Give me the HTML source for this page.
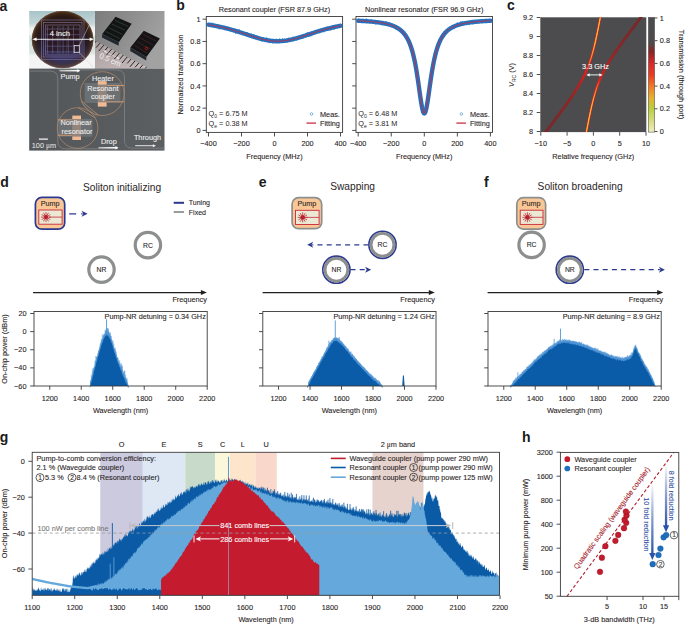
<!DOCTYPE html>
<html><head><meta charset="utf-8"><style>
html,body{margin:0;padding:0;background:#fff;}
svg{display:block;font-family:"Liberation Sans", sans-serif;}

</style></head><body>
<svg width="685" height="624" viewBox="0 0 685 624">
<rect width="685" height="624" fill="#fff"/>
<text x="-0.5" y="10.5" font-size="14" font-weight="bold" fill="#1a1a1a">a</text>
<text x="176.2" y="10.3" font-size="14" font-weight="bold" fill="#1a1a1a">b</text>
<text x="507" y="10.3" font-size="14" font-weight="bold" fill="#1a1a1a">c</text>
<text x="0.2" y="186.9" font-size="14" font-weight="bold" fill="#1a1a1a">d</text>
<text x="258.8" y="187.3" font-size="14" font-weight="bold" fill="#1a1a1a">e</text>
<text x="483.9" y="187" font-size="14" font-weight="bold" fill="#1a1a1a">f</text>
<text x="-0.2" y="441.9" font-size="14" font-weight="bold" fill="#1a1a1a">g</text>
<text x="522.1" y="441.6" font-size="14" font-weight="bold" fill="#1a1a1a">h</text>
<rect x="206.3" y="16.5" width="136.3" height="115.9" fill="none" stroke="#3a3a3a" stroke-width="0.9"/>
<line x1="208.5" y1="132.4" x2="208.5" y2="136.5" stroke="#3a3a3a" stroke-width="0.9"/>
<text x="208.5" y="146.43" font-size="7.3" text-anchor="middle" fill="#2a2526" stroke="#2a2526" stroke-width="0.1">−400</text>
<line x1="241.5" y1="132.4" x2="241.5" y2="136.5" stroke="#3a3a3a" stroke-width="0.9"/>
<text x="241.5" y="146.43" font-size="7.3" text-anchor="middle" fill="#2a2526" stroke="#2a2526" stroke-width="0.1">−200</text>
<line x1="274.5" y1="132.4" x2="274.5" y2="136.5" stroke="#3a3a3a" stroke-width="0.9"/>
<text x="274.5" y="146.43" font-size="7.3" text-anchor="middle" fill="#2a2526" stroke="#2a2526" stroke-width="0.1">0</text>
<line x1="307.5" y1="132.4" x2="307.5" y2="136.5" stroke="#3a3a3a" stroke-width="0.9"/>
<text x="307.5" y="146.43" font-size="7.3" text-anchor="middle" fill="#2a2526" stroke="#2a2526" stroke-width="0.1">200</text>
<line x1="340.5" y1="132.4" x2="340.5" y2="136.5" stroke="#3a3a3a" stroke-width="0.9"/>
<text x="340.5" y="146.43" font-size="7.3" text-anchor="middle" fill="#2a2526" stroke="#2a2526" stroke-width="0.1">400</text>
<line x1="202.5" y1="130.4" x2="206.3" y2="130.4" stroke="#3a3a3a" stroke-width="0.9"/>
<text x="200.5" y="133.03" font-size="7.3" text-anchor="end" fill="#2a2526" stroke="#2a2526" stroke-width="0.1">0</text>
<line x1="202.5" y1="108.16" x2="206.3" y2="108.16" stroke="#3a3a3a" stroke-width="0.9"/>
<text x="200.5" y="110.79" font-size="7.3" text-anchor="end" fill="#2a2526" stroke="#2a2526" stroke-width="0.1">0.2</text>
<line x1="202.5" y1="85.92" x2="206.3" y2="85.92" stroke="#3a3a3a" stroke-width="0.9"/>
<text x="200.5" y="88.55" font-size="7.3" text-anchor="end" fill="#2a2526" stroke="#2a2526" stroke-width="0.1">0.4</text>
<line x1="202.5" y1="63.68" x2="206.3" y2="63.68" stroke="#3a3a3a" stroke-width="0.9"/>
<text x="200.5" y="66.31" font-size="7.3" text-anchor="end" fill="#2a2526" stroke="#2a2526" stroke-width="0.1">0.6</text>
<line x1="202.5" y1="41.44" x2="206.3" y2="41.44" stroke="#3a3a3a" stroke-width="0.9"/>
<text x="200.5" y="44.07" font-size="7.3" text-anchor="end" fill="#2a2526" stroke="#2a2526" stroke-width="0.1">0.8</text>
<line x1="202.5" y1="19.2" x2="206.3" y2="19.2" stroke="#3a3a3a" stroke-width="0.9"/>
<text x="200.5" y="21.83" font-size="7.3" text-anchor="end" fill="#2a2526" stroke="#2a2526" stroke-width="0.1">1</text>
<text x="274.45" y="159.13" font-size="7.3" text-anchor="middle" fill="#2a2526" stroke="#2a2526" stroke-width="0.1">Frequency (MHz)</text>
<text x="274.45" y="12.23" font-size="7.3" text-anchor="middle" fill="#2a2526" stroke="#2a2526" stroke-width="0.1">Resonant coupler (FSR 87.9 GHz)</text>
<polyline points="208.5,24.68 209.05,24.77 209.6,24.86 210.15,24.95 210.7,25.04 211.25,25.13 211.8,25.23 212.35,25.32 212.9,25.42 213.45,25.52 214,25.62 214.55,25.73 215.1,25.83 215.65,25.94 216.2,26.05 216.75,26.15 217.3,26.27 217.85,26.38 218.4,26.49 218.95,26.61 219.5,26.73 220.05,26.84 220.6,26.97 221.15,27.09 221.7,27.21 222.25,27.34 222.8,27.47 223.35,27.59 223.9,27.73 224.45,27.86 225,27.99 225.55,28.13 226.1,28.27 226.65,28.41 227.2,28.55 227.75,28.69 228.3,28.84 228.85,28.98 229.4,29.13 229.95,29.28 230.5,29.43 231.05,29.58 231.6,29.74 232.15,29.89 232.7,30.05 233.25,30.21 233.8,30.37 234.35,30.53 234.9,30.7 235.45,30.86 236,31.03 236.55,31.19 237.1,31.36 237.65,31.53 238.2,31.7 238.75,31.88 239.3,32.05 239.85,32.23 240.4,32.4 240.95,32.58 241.5,32.75 242.05,32.93 242.6,33.11 243.15,33.29 243.7,33.47 244.25,33.65 244.8,33.83 245.35,34.01 245.9,34.2 246.45,34.38 247,34.56 247.55,34.74 248.1,34.92 248.65,35.1 249.2,35.28 249.75,35.47 250.3,35.65 250.85,35.82 251.4,36 251.95,36.18 252.5,36.36 253.05,36.53 253.6,36.71 254.15,36.88 254.7,37.05 255.25,37.22 255.8,37.39 256.35,37.55 256.9,37.72 257.45,37.88 258,38.04 258.55,38.2 259.1,38.35 259.65,38.5 260.2,38.65 260.75,38.8 261.3,38.94 261.85,39.08 262.4,39.22 262.95,39.35 263.5,39.48 264.05,39.6 264.6,39.73 265.15,39.84 265.7,39.96 266.25,40.07 266.8,40.17 267.35,40.27 267.9,40.37 268.45,40.46 269,40.54 269.55,40.62 270.1,40.7 270.65,40.77 271.2,40.84 271.75,40.9 272.3,40.96 272.85,41.01 273.4,41.05 273.95,41.09 274.5,41.13 275.05,41.16 275.6,41.18 276.15,41.2 276.7,41.21 277.25,41.22 277.8,41.22 278.35,41.21 278.9,41.2 279.45,41.19 280,41.17 280.55,41.14 281.1,41.11 281.65,41.07 282.2,41.03 282.75,40.98 283.3,40.92 283.85,40.86 284.4,40.8 284.95,40.73 285.5,40.66 286.05,40.58 286.6,40.49 287.15,40.4 287.7,40.31 288.25,40.21 288.8,40.11 289.35,40 289.9,39.89 290.45,39.77 291,39.65 291.55,39.53 292.1,39.4 292.65,39.27 293.2,39.14 293.75,39 294.3,38.86 294.85,38.71 295.4,38.56 295.95,38.41 296.5,38.26 297.05,38.1 297.6,37.94 298.15,37.78 298.7,37.62 299.25,37.46 299.8,37.29 300.35,37.12 300.9,36.95 301.45,36.78 302,36.6 302.55,36.43 303.1,36.25 303.65,36.07 304.2,35.9 304.75,35.72 305.3,35.54 305.85,35.36 306.4,35.18 306.95,35 307.5,34.81 308.05,34.63 308.6,34.45 309.15,34.27 309.7,34.09 310.25,33.91 310.8,33.72 311.35,33.54 311.9,33.36 312.45,33.18 313,33 313.55,32.83 314.1,32.65 314.65,32.47 315.2,32.3 315.75,32.12 316.3,31.95 316.85,31.77 317.4,31.6 317.95,31.43 318.5,31.26 319.05,31.09 319.6,30.93 320.15,30.76 320.7,30.6 321.25,30.44 321.8,30.27 322.35,30.11 322.9,29.96 323.45,29.8 324,29.64 324.55,29.49 325.1,29.34 325.65,29.19 326.2,29.04 326.75,28.89 327.3,28.75 327.85,28.6 328.4,28.46 328.95,28.32 329.5,28.18 330.05,28.05 330.6,27.91 331.15,27.78 331.7,27.65 332.25,27.52 332.8,27.39 333.35,27.26 333.9,27.14 334.45,27.01 335,26.89 335.55,26.77 336.1,26.65 336.65,26.54 337.2,26.42 337.75,26.31 338.3,26.2 338.85,26.09 339.4,25.98 339.95,25.87 340.5,25.77" fill="none" stroke="#2371be" stroke-width="4.4" stroke-linejoin="round" stroke-linecap="round"/>
<circle cx="208.15" cy="23.87" r="0.6" fill="#2f7cc2" stroke="none" stroke-width="1"/>
<circle cx="209.17" cy="25.55" r="0.6" fill="#2f7cc2" stroke="none" stroke-width="1"/>
<circle cx="210.57" cy="25.2" r="0.6" fill="#2f7cc2" stroke="none" stroke-width="1"/>
<circle cx="211.81" cy="23.19" r="0.6" fill="#2f7cc2" stroke="none" stroke-width="1"/>
<circle cx="212.83" cy="23.3" r="0.6" fill="#2f7cc2" stroke="none" stroke-width="1"/>
<circle cx="213.59" cy="23.65" r="0.6" fill="#2f7cc2" stroke="none" stroke-width="1"/>
<circle cx="215.43" cy="25.48" r="0.6" fill="#2f7cc2" stroke="none" stroke-width="1"/>
<circle cx="215.92" cy="24.31" r="0.6" fill="#2f7cc2" stroke="none" stroke-width="1"/>
<circle cx="217.75" cy="26.85" r="0.6" fill="#2f7cc2" stroke="none" stroke-width="1"/>
<circle cx="218.3" cy="26.85" r="0.6" fill="#2f7cc2" stroke="none" stroke-width="1"/>
<circle cx="219.05" cy="28.92" r="0.6" fill="#2f7cc2" stroke="none" stroke-width="1"/>
<circle cx="220.39" cy="28.61" r="0.6" fill="#2f7cc2" stroke="none" stroke-width="1"/>
<circle cx="221.32" cy="25.58" r="0.6" fill="#2f7cc2" stroke="none" stroke-width="1"/>
<circle cx="223.12" cy="26.58" r="0.6" fill="#2f7cc2" stroke="none" stroke-width="1"/>
<circle cx="223.98" cy="26.26" r="0.6" fill="#2f7cc2" stroke="none" stroke-width="1"/>
<circle cx="224.87" cy="28.63" r="0.6" fill="#2f7cc2" stroke="none" stroke-width="1"/>
<circle cx="225.66" cy="28.49" r="0.6" fill="#2f7cc2" stroke="none" stroke-width="1"/>
<circle cx="226.91" cy="26.52" r="0.6" fill="#2f7cc2" stroke="none" stroke-width="1"/>
<circle cx="228.23" cy="29.66" r="0.6" fill="#2f7cc2" stroke="none" stroke-width="1"/>
<circle cx="229.49" cy="28.27" r="0.6" fill="#2f7cc2" stroke="none" stroke-width="1"/>
<circle cx="230.3" cy="29.21" r="0.6" fill="#2f7cc2" stroke="none" stroke-width="1"/>
<circle cx="231.8" cy="31.09" r="0.6" fill="#2f7cc2" stroke="none" stroke-width="1"/>
<circle cx="232.77" cy="28.87" r="0.6" fill="#2f7cc2" stroke="none" stroke-width="1"/>
<circle cx="234.18" cy="30.49" r="0.6" fill="#2f7cc2" stroke="none" stroke-width="1"/>
<circle cx="234.69" cy="31.75" r="0.6" fill="#2f7cc2" stroke="none" stroke-width="1"/>
<circle cx="235.62" cy="33.24" r="0.6" fill="#2f7cc2" stroke="none" stroke-width="1"/>
<circle cx="237.36" cy="30.99" r="0.6" fill="#2f7cc2" stroke="none" stroke-width="1"/>
<circle cx="238.19" cy="30.1" r="0.6" fill="#2f7cc2" stroke="none" stroke-width="1"/>
<circle cx="239.47" cy="29.93" r="0.6" fill="#2f7cc2" stroke="none" stroke-width="1"/>
<circle cx="240.47" cy="33.62" r="0.6" fill="#2f7cc2" stroke="none" stroke-width="1"/>
<circle cx="241.31" cy="34.48" r="0.6" fill="#2f7cc2" stroke="none" stroke-width="1"/>
<circle cx="242.69" cy="34.01" r="0.6" fill="#2f7cc2" stroke="none" stroke-width="1"/>
<circle cx="243.66" cy="33.84" r="0.6" fill="#2f7cc2" stroke="none" stroke-width="1"/>
<circle cx="245.24" cy="35.4" r="0.6" fill="#2f7cc2" stroke="none" stroke-width="1"/>
<circle cx="246.06" cy="34.08" r="0.6" fill="#2f7cc2" stroke="none" stroke-width="1"/>
<circle cx="247.2" cy="32.54" r="0.6" fill="#2f7cc2" stroke="none" stroke-width="1"/>
<circle cx="248.59" cy="35.6" r="0.6" fill="#2f7cc2" stroke="none" stroke-width="1"/>
<circle cx="248.98" cy="36.77" r="0.6" fill="#2f7cc2" stroke="none" stroke-width="1"/>
<circle cx="250.47" cy="35.12" r="0.6" fill="#2f7cc2" stroke="none" stroke-width="1"/>
<circle cx="251.36" cy="33.81" r="0.6" fill="#2f7cc2" stroke="none" stroke-width="1"/>
<circle cx="252.12" cy="34.83" r="0.6" fill="#2f7cc2" stroke="none" stroke-width="1"/>
<circle cx="253.87" cy="34.68" r="0.6" fill="#2f7cc2" stroke="none" stroke-width="1"/>
<circle cx="254.45" cy="35.35" r="0.6" fill="#2f7cc2" stroke="none" stroke-width="1"/>
<circle cx="256.17" cy="36.89" r="0.6" fill="#2f7cc2" stroke="none" stroke-width="1"/>
<circle cx="256.85" cy="35.79" r="0.6" fill="#2f7cc2" stroke="none" stroke-width="1"/>
<circle cx="258.38" cy="38.27" r="0.6" fill="#2f7cc2" stroke="none" stroke-width="1"/>
<circle cx="259.46" cy="39.82" r="0.6" fill="#2f7cc2" stroke="none" stroke-width="1"/>
<circle cx="260.12" cy="37.63" r="0.6" fill="#2f7cc2" stroke="none" stroke-width="1"/>
<circle cx="261.68" cy="38.29" r="0.6" fill="#2f7cc2" stroke="none" stroke-width="1"/>
<circle cx="262.05" cy="41.32" r="0.6" fill="#2f7cc2" stroke="none" stroke-width="1"/>
<circle cx="263.23" cy="37.99" r="0.6" fill="#2f7cc2" stroke="none" stroke-width="1"/>
<circle cx="264.58" cy="38.5" r="0.6" fill="#2f7cc2" stroke="none" stroke-width="1"/>
<circle cx="265.46" cy="40.37" r="0.6" fill="#2f7cc2" stroke="none" stroke-width="1"/>
<circle cx="266.72" cy="37.89" r="0.6" fill="#2f7cc2" stroke="none" stroke-width="1"/>
<circle cx="267.97" cy="39.76" r="0.6" fill="#2f7cc2" stroke="none" stroke-width="1"/>
<circle cx="269.19" cy="42.63" r="0.6" fill="#2f7cc2" stroke="none" stroke-width="1"/>
<circle cx="270.22" cy="40.77" r="0.6" fill="#2f7cc2" stroke="none" stroke-width="1"/>
<circle cx="270.75" cy="41.65" r="0.6" fill="#2f7cc2" stroke="none" stroke-width="1"/>
<circle cx="272.58" cy="42.79" r="0.6" fill="#2f7cc2" stroke="none" stroke-width="1"/>
<circle cx="273.7" cy="42.78" r="0.6" fill="#2f7cc2" stroke="none" stroke-width="1"/>
<circle cx="274.4" cy="40.63" r="0.6" fill="#2f7cc2" stroke="none" stroke-width="1"/>
<circle cx="275.73" cy="39.36" r="0.6" fill="#2f7cc2" stroke="none" stroke-width="1"/>
<circle cx="276.27" cy="39.2" r="0.6" fill="#2f7cc2" stroke="none" stroke-width="1"/>
<circle cx="277.46" cy="39.88" r="0.6" fill="#2f7cc2" stroke="none" stroke-width="1"/>
<circle cx="278.45" cy="40.47" r="0.6" fill="#2f7cc2" stroke="none" stroke-width="1"/>
<circle cx="279.65" cy="38.87" r="0.6" fill="#2f7cc2" stroke="none" stroke-width="1"/>
<circle cx="280.96" cy="39.27" r="0.6" fill="#2f7cc2" stroke="none" stroke-width="1"/>
<circle cx="282.57" cy="38.84" r="0.6" fill="#2f7cc2" stroke="none" stroke-width="1"/>
<circle cx="282.95" cy="41.45" r="0.6" fill="#2f7cc2" stroke="none" stroke-width="1"/>
<circle cx="284.25" cy="39.66" r="0.6" fill="#2f7cc2" stroke="none" stroke-width="1"/>
<circle cx="285.12" cy="40.03" r="0.6" fill="#2f7cc2" stroke="none" stroke-width="1"/>
<circle cx="287.09" cy="42.1" r="0.6" fill="#2f7cc2" stroke="none" stroke-width="1"/>
<circle cx="287.68" cy="40.15" r="0.6" fill="#2f7cc2" stroke="none" stroke-width="1"/>
<circle cx="288.4" cy="38.2" r="0.6" fill="#2f7cc2" stroke="none" stroke-width="1"/>
<circle cx="289.66" cy="39.16" r="0.6" fill="#2f7cc2" stroke="none" stroke-width="1"/>
<circle cx="290.66" cy="41.17" r="0.6" fill="#2f7cc2" stroke="none" stroke-width="1"/>
<circle cx="292.55" cy="37.21" r="0.6" fill="#2f7cc2" stroke="none" stroke-width="1"/>
<circle cx="292.85" cy="39.27" r="0.6" fill="#2f7cc2" stroke="none" stroke-width="1"/>
<circle cx="293.83" cy="39.05" r="0.6" fill="#2f7cc2" stroke="none" stroke-width="1"/>
<circle cx="295.88" cy="38.69" r="0.6" fill="#2f7cc2" stroke="none" stroke-width="1"/>
<circle cx="296.7" cy="39.93" r="0.6" fill="#2f7cc2" stroke="none" stroke-width="1"/>
<circle cx="297.47" cy="36.85" r="0.6" fill="#2f7cc2" stroke="none" stroke-width="1"/>
<circle cx="298.97" cy="36.09" r="0.6" fill="#2f7cc2" stroke="none" stroke-width="1"/>
<circle cx="300.08" cy="37.44" r="0.6" fill="#2f7cc2" stroke="none" stroke-width="1"/>
<circle cx="300.62" cy="36.17" r="0.6" fill="#2f7cc2" stroke="none" stroke-width="1"/>
<circle cx="302.48" cy="38.04" r="0.6" fill="#2f7cc2" stroke="none" stroke-width="1"/>
<circle cx="303.41" cy="37.87" r="0.6" fill="#2f7cc2" stroke="none" stroke-width="1"/>
<circle cx="304.44" cy="37.36" r="0.6" fill="#2f7cc2" stroke="none" stroke-width="1"/>
<circle cx="305.32" cy="34.28" r="0.6" fill="#2f7cc2" stroke="none" stroke-width="1"/>
<circle cx="305.93" cy="34.51" r="0.6" fill="#2f7cc2" stroke="none" stroke-width="1"/>
<circle cx="307.28" cy="32.64" r="0.6" fill="#2f7cc2" stroke="none" stroke-width="1"/>
<circle cx="308.79" cy="33.34" r="0.6" fill="#2f7cc2" stroke="none" stroke-width="1"/>
<circle cx="309.65" cy="36.19" r="0.6" fill="#2f7cc2" stroke="none" stroke-width="1"/>
<circle cx="311.29" cy="35.73" r="0.6" fill="#2f7cc2" stroke="none" stroke-width="1"/>
<circle cx="311.76" cy="35.46" r="0.6" fill="#2f7cc2" stroke="none" stroke-width="1"/>
<circle cx="312.73" cy="31.72" r="0.6" fill="#2f7cc2" stroke="none" stroke-width="1"/>
<circle cx="313.8" cy="31.25" r="0.6" fill="#2f7cc2" stroke="none" stroke-width="1"/>
<circle cx="315.6" cy="32.87" r="0.6" fill="#2f7cc2" stroke="none" stroke-width="1"/>
<circle cx="316.28" cy="33.51" r="0.6" fill="#2f7cc2" stroke="none" stroke-width="1"/>
<circle cx="317.7" cy="32.31" r="0.6" fill="#2f7cc2" stroke="none" stroke-width="1"/>
<circle cx="318.66" cy="29.35" r="0.6" fill="#2f7cc2" stroke="none" stroke-width="1"/>
<circle cx="319.88" cy="32.81" r="0.6" fill="#2f7cc2" stroke="none" stroke-width="1"/>
<circle cx="320.68" cy="31.75" r="0.6" fill="#2f7cc2" stroke="none" stroke-width="1"/>
<circle cx="322.09" cy="28.8" r="0.6" fill="#2f7cc2" stroke="none" stroke-width="1"/>
<circle cx="323.2" cy="29.19" r="0.6" fill="#2f7cc2" stroke="none" stroke-width="1"/>
<circle cx="323.9" cy="31.81" r="0.6" fill="#2f7cc2" stroke="none" stroke-width="1"/>
<circle cx="325.55" cy="28.89" r="0.6" fill="#2f7cc2" stroke="none" stroke-width="1"/>
<circle cx="325.87" cy="30.07" r="0.6" fill="#2f7cc2" stroke="none" stroke-width="1"/>
<circle cx="326.95" cy="27.03" r="0.6" fill="#2f7cc2" stroke="none" stroke-width="1"/>
<circle cx="328.71" cy="30.32" r="0.6" fill="#2f7cc2" stroke="none" stroke-width="1"/>
<circle cx="329.83" cy="26.56" r="0.6" fill="#2f7cc2" stroke="none" stroke-width="1"/>
<circle cx="330.76" cy="30.12" r="0.6" fill="#2f7cc2" stroke="none" stroke-width="1"/>
<circle cx="331.75" cy="26.96" r="0.6" fill="#2f7cc2" stroke="none" stroke-width="1"/>
<circle cx="332.31" cy="25.69" r="0.6" fill="#2f7cc2" stroke="none" stroke-width="1"/>
<circle cx="334.05" cy="29.3" r="0.6" fill="#2f7cc2" stroke="none" stroke-width="1"/>
<circle cx="335.43" cy="27.01" r="0.6" fill="#2f7cc2" stroke="none" stroke-width="1"/>
<circle cx="336.47" cy="26.35" r="0.6" fill="#2f7cc2" stroke="none" stroke-width="1"/>
<circle cx="336.91" cy="27.92" r="0.6" fill="#2f7cc2" stroke="none" stroke-width="1"/>
<circle cx="338.09" cy="25.06" r="0.6" fill="#2f7cc2" stroke="none" stroke-width="1"/>
<circle cx="339.49" cy="24.79" r="0.6" fill="#2f7cc2" stroke="none" stroke-width="1"/>
<circle cx="340.42" cy="24.66" r="0.6" fill="#2f7cc2" stroke="none" stroke-width="1"/>
<polyline points="208.5,24.68 209.05,24.77 209.6,24.86 210.15,24.95 210.7,25.04 211.25,25.13 211.8,25.23 212.35,25.32 212.9,25.42 213.45,25.52 214,25.62 214.55,25.73 215.1,25.83 215.65,25.94 216.2,26.05 216.75,26.15 217.3,26.27 217.85,26.38 218.4,26.49 218.95,26.61 219.5,26.73 220.05,26.84 220.6,26.97 221.15,27.09 221.7,27.21 222.25,27.34 222.8,27.47 223.35,27.59 223.9,27.73 224.45,27.86 225,27.99 225.55,28.13 226.1,28.27 226.65,28.41 227.2,28.55 227.75,28.69 228.3,28.84 228.85,28.98 229.4,29.13 229.95,29.28 230.5,29.43 231.05,29.58 231.6,29.74 232.15,29.89 232.7,30.05 233.25,30.21 233.8,30.37 234.35,30.53 234.9,30.7 235.45,30.86 236,31.03 236.55,31.19 237.1,31.36 237.65,31.53 238.2,31.7 238.75,31.88 239.3,32.05 239.85,32.23 240.4,32.4 240.95,32.58 241.5,32.75 242.05,32.93 242.6,33.11 243.15,33.29 243.7,33.47 244.25,33.65 244.8,33.83 245.35,34.01 245.9,34.2 246.45,34.38 247,34.56 247.55,34.74 248.1,34.92 248.65,35.1 249.2,35.28 249.75,35.47 250.3,35.65 250.85,35.82 251.4,36 251.95,36.18 252.5,36.36 253.05,36.53 253.6,36.71 254.15,36.88 254.7,37.05 255.25,37.22 255.8,37.39 256.35,37.55 256.9,37.72 257.45,37.88 258,38.04 258.55,38.2 259.1,38.35 259.65,38.5 260.2,38.65 260.75,38.8 261.3,38.94 261.85,39.08 262.4,39.22 262.95,39.35 263.5,39.48 264.05,39.6 264.6,39.73 265.15,39.84 265.7,39.96 266.25,40.07 266.8,40.17 267.35,40.27 267.9,40.37 268.45,40.46 269,40.54 269.55,40.62 270.1,40.7 270.65,40.77 271.2,40.84 271.75,40.9 272.3,40.96 272.85,41.01 273.4,41.05 273.95,41.09 274.5,41.13 275.05,41.16 275.6,41.18 276.15,41.2 276.7,41.21 277.25,41.22 277.8,41.22 278.35,41.21 278.9,41.2 279.45,41.19 280,41.17 280.55,41.14 281.1,41.11 281.65,41.07 282.2,41.03 282.75,40.98 283.3,40.92 283.85,40.86 284.4,40.8 284.95,40.73 285.5,40.66 286.05,40.58 286.6,40.49 287.15,40.4 287.7,40.31 288.25,40.21 288.8,40.11 289.35,40 289.9,39.89 290.45,39.77 291,39.65 291.55,39.53 292.1,39.4 292.65,39.27 293.2,39.14 293.75,39 294.3,38.86 294.85,38.71 295.4,38.56 295.95,38.41 296.5,38.26 297.05,38.1 297.6,37.94 298.15,37.78 298.7,37.62 299.25,37.46 299.8,37.29 300.35,37.12 300.9,36.95 301.45,36.78 302,36.6 302.55,36.43 303.1,36.25 303.65,36.07 304.2,35.9 304.75,35.72 305.3,35.54 305.85,35.36 306.4,35.18 306.95,35 307.5,34.81 308.05,34.63 308.6,34.45 309.15,34.27 309.7,34.09 310.25,33.91 310.8,33.72 311.35,33.54 311.9,33.36 312.45,33.18 313,33 313.55,32.83 314.1,32.65 314.65,32.47 315.2,32.3 315.75,32.12 316.3,31.95 316.85,31.77 317.4,31.6 317.95,31.43 318.5,31.26 319.05,31.09 319.6,30.93 320.15,30.76 320.7,30.6 321.25,30.44 321.8,30.27 322.35,30.11 322.9,29.96 323.45,29.8 324,29.64 324.55,29.49 325.1,29.34 325.65,29.19 326.2,29.04 326.75,28.89 327.3,28.75 327.85,28.6 328.4,28.46 328.95,28.32 329.5,28.18 330.05,28.05 330.6,27.91 331.15,27.78 331.7,27.65 332.25,27.52 332.8,27.39 333.35,27.26 333.9,27.14 334.45,27.01 335,26.89 335.55,26.77 336.1,26.65 336.65,26.54 337.2,26.42 337.75,26.31 338.3,26.2 338.85,26.09 339.4,25.98 339.95,25.87 340.5,25.77" fill="none" stroke="#c4304a" stroke-width="1"/>
<circle cx="311.5" cy="114" r="1.3" fill="none" stroke="#3d86c6" stroke-width="0.6"/>
<text x="320" y="116.63" font-size="7.3" text-anchor="start" fill="#2a2526" stroke="#2a2526" stroke-width="0.1">Meas.</text>
<line x1="306.5" y1="123.1" x2="316" y2="123.1" stroke="#d42a44" stroke-width="1.3"/>
<text x="320" y="125.73" font-size="7.3" text-anchor="start" fill="#2a2526" stroke="#2a2526" stroke-width="0.1">Fitting</text>
<text x="208.6" y="115.7" font-size="7.3" fill="#2a2526">Q<tspan font-size="5" dy="2">0</tspan><tspan dy="-2"> = 6.75 M</tspan></text>
<text x="208.6" y="125.7" font-size="7.3" fill="#2a2526">Q<tspan font-size="5" dy="2">e</tspan><tspan dy="-2"> = 0.38 M</tspan></text>
<rect x="356" y="16.5" width="136.5" height="115.9" fill="none" stroke="#3a3a3a" stroke-width="0.9"/>
<line x1="358.2" y1="132.4" x2="358.2" y2="136.5" stroke="#3a3a3a" stroke-width="0.9"/>
<text x="358.2" y="146.43" font-size="7.3" text-anchor="middle" fill="#2a2526" stroke="#2a2526" stroke-width="0.1">−400</text>
<line x1="391.25" y1="132.4" x2="391.25" y2="136.5" stroke="#3a3a3a" stroke-width="0.9"/>
<text x="391.25" y="146.43" font-size="7.3" text-anchor="middle" fill="#2a2526" stroke="#2a2526" stroke-width="0.1">−200</text>
<line x1="424.3" y1="132.4" x2="424.3" y2="136.5" stroke="#3a3a3a" stroke-width="0.9"/>
<text x="424.3" y="146.43" font-size="7.3" text-anchor="middle" fill="#2a2526" stroke="#2a2526" stroke-width="0.1">0</text>
<line x1="457.35" y1="132.4" x2="457.35" y2="136.5" stroke="#3a3a3a" stroke-width="0.9"/>
<text x="457.35" y="146.43" font-size="7.3" text-anchor="middle" fill="#2a2526" stroke="#2a2526" stroke-width="0.1">200</text>
<line x1="490.4" y1="132.4" x2="490.4" y2="136.5" stroke="#3a3a3a" stroke-width="0.9"/>
<text x="490.4" y="146.43" font-size="7.3" text-anchor="middle" fill="#2a2526" stroke="#2a2526" stroke-width="0.1">400</text>
<line x1="352.2" y1="130.4" x2="356" y2="130.4" stroke="#3a3a3a" stroke-width="0.9"/>
<line x1="352.2" y1="108.16" x2="356" y2="108.16" stroke="#3a3a3a" stroke-width="0.9"/>
<line x1="352.2" y1="85.92" x2="356" y2="85.92" stroke="#3a3a3a" stroke-width="0.9"/>
<line x1="352.2" y1="63.68" x2="356" y2="63.68" stroke="#3a3a3a" stroke-width="0.9"/>
<line x1="352.2" y1="41.44" x2="356" y2="41.44" stroke="#3a3a3a" stroke-width="0.9"/>
<line x1="352.2" y1="19.2" x2="356" y2="19.2" stroke="#3a3a3a" stroke-width="0.9"/>
<text x="424.25" y="159.13" font-size="7.3" text-anchor="middle" fill="#2a2526" stroke="#2a2526" stroke-width="0.1">Frequency (MHz)</text>
<text x="424.25" y="12.23" font-size="7.3" text-anchor="middle" fill="#2a2526" stroke="#2a2526" stroke-width="0.1">Nonlinear resonator (FSR 96.9 GHz)</text>
<polyline points="358.2,20.77 358.75,20.79 359.3,20.82 359.85,20.85 360.4,20.88 360.95,20.9 361.5,20.93 362.06,20.96 362.61,20.99 363.16,21.03 363.71,21.06 364.26,21.09 364.81,21.13 365.36,21.16 365.91,21.2 366.46,21.24 367.01,21.28 367.56,21.31 368.12,21.36 368.67,21.4 369.22,21.44 369.77,21.48 370.32,21.53 370.87,21.58 371.42,21.63 371.97,21.68 372.52,21.73 373.07,21.78 373.62,21.84 374.17,21.89 374.72,21.95 375.28,22.01 375.83,22.07 376.38,22.14 376.93,22.2 377.48,22.27 378.03,22.34 378.58,22.42 379.13,22.49 379.68,22.57 380.23,22.65 380.78,22.74 381.33,22.83 381.89,22.92 382.44,23.01 382.99,23.11 383.54,23.21 384.09,23.32 384.64,23.43 385.19,23.54 385.74,23.66 386.29,23.79 386.84,23.91 387.39,24.05 387.94,24.19 388.5,24.34 389.05,24.49 389.6,24.65 390.15,24.81 390.7,24.99 391.25,25.17 391.8,25.36 392.35,25.56 392.9,25.77 393.45,25.99 394,26.22 394.56,26.46 395.11,26.72 395.66,26.99 396.21,27.27 396.76,27.57 397.31,27.88 397.86,28.21 398.41,28.56 398.96,28.93 399.51,29.32 400.06,29.73 400.61,30.17 401.16,30.63 401.72,31.13 402.27,31.65 402.82,32.21 403.37,32.8 403.92,33.43 404.47,34.11 405.02,34.83 405.57,35.6 406.12,36.42 406.67,37.31 407.22,38.25 407.77,39.27 408.33,40.36 408.88,41.54 409.43,42.8 409.98,44.16 410.53,45.63 411.08,47.21 411.63,48.91 412.18,50.75 412.73,52.73 413.28,54.87 413.83,57.17 414.38,59.65 414.94,62.31 415.49,65.16 416.04,68.2 416.59,71.43 417.14,74.85 417.69,78.44 418.24,82.18 418.79,86.03 419.34,89.95 419.89,93.86 420.44,97.69 421,101.35 421.55,104.71 422.1,107.68 422.65,110.13 423.2,111.97 423.75,113.11 424.3,113.5 424.85,113.11 425.4,111.97 425.95,110.13 426.5,107.68 427.05,104.71 427.61,101.35 428.16,97.69 428.71,93.86 429.26,89.95 429.81,86.03 430.36,82.18 430.91,78.44 431.46,74.85 432.01,71.43 432.56,68.2 433.11,65.16 433.66,62.31 434.21,59.65 434.77,57.17 435.32,54.87 435.87,52.73 436.42,50.75 436.97,48.91 437.52,47.21 438.07,45.63 438.62,44.16 439.17,42.8 439.72,41.54 440.27,40.36 440.82,39.27 441.38,38.25 441.93,37.31 442.48,36.42 443.03,35.6 443.58,34.83 444.13,34.11 444.68,33.43 445.23,32.8 445.78,32.21 446.33,31.65 446.88,31.13 447.44,30.63 447.99,30.17 448.54,29.73 449.09,29.32 449.64,28.93 450.19,28.56 450.74,28.21 451.29,27.88 451.84,27.57 452.39,27.27 452.94,26.99 453.49,26.72 454.04,26.46 454.6,26.22 455.15,25.99 455.7,25.77 456.25,25.56 456.8,25.36 457.35,25.17 457.9,24.99 458.45,24.81 459,24.65 459.55,24.49 460.1,24.34 460.65,24.19 461.21,24.05 461.76,23.91 462.31,23.79 462.86,23.66 463.41,23.54 463.96,23.43 464.51,23.32 465.06,23.21 465.61,23.11 466.16,23.01 466.71,22.92 467.26,22.83 467.82,22.74 468.37,22.65 468.92,22.57 469.47,22.49 470.02,22.42 470.57,22.34 471.12,22.27 471.67,22.2 472.22,22.14 472.77,22.07 473.32,22.01 473.88,21.95 474.43,21.89 474.98,21.84 475.53,21.78 476.08,21.73 476.63,21.68 477.18,21.63 477.73,21.58 478.28,21.53 478.83,21.48 479.38,21.44 479.93,21.4 480.49,21.36 481.04,21.31 481.59,21.28 482.14,21.24 482.69,21.2 483.24,21.16 483.79,21.13 484.34,21.09 484.89,21.06 485.44,21.03 485.99,20.99 486.54,20.96 487.09,20.93 487.65,20.9 488.2,20.88 488.75,20.85 489.3,20.82 489.85,20.79 490.4,20.77" fill="none" stroke="#2371be" stroke-width="4.4" stroke-linejoin="round" stroke-linecap="round"/>
<circle cx="358.61" cy="19.07" r="0.6" fill="#2f7cc2" stroke="none" stroke-width="1"/>
<circle cx="359.26" cy="20.15" r="0.6" fill="#2f7cc2" stroke="none" stroke-width="1"/>
<circle cx="360.81" cy="21.26" r="0.6" fill="#2f7cc2" stroke="none" stroke-width="1"/>
<circle cx="361.92" cy="20.57" r="0.6" fill="#2f7cc2" stroke="none" stroke-width="1"/>
<circle cx="362.64" cy="21" r="0.6" fill="#2f7cc2" stroke="none" stroke-width="1"/>
<circle cx="363.23" cy="21.17" r="0.6" fill="#2f7cc2" stroke="none" stroke-width="1"/>
<circle cx="364.49" cy="20.85" r="0.6" fill="#2f7cc2" stroke="none" stroke-width="1"/>
<circle cx="366.21" cy="18.92" r="0.6" fill="#2f7cc2" stroke="none" stroke-width="1"/>
<circle cx="366.99" cy="19.77" r="0.6" fill="#2f7cc2" stroke="none" stroke-width="1"/>
<circle cx="368.17" cy="22.39" r="0.6" fill="#2f7cc2" stroke="none" stroke-width="1"/>
<circle cx="369.24" cy="20.64" r="0.6" fill="#2f7cc2" stroke="none" stroke-width="1"/>
<circle cx="370.6" cy="21.79" r="0.6" fill="#2f7cc2" stroke="none" stroke-width="1"/>
<circle cx="371.48" cy="19.81" r="0.6" fill="#2f7cc2" stroke="none" stroke-width="1"/>
<circle cx="372.3" cy="20.57" r="0.6" fill="#2f7cc2" stroke="none" stroke-width="1"/>
<circle cx="373.63" cy="23.09" r="0.6" fill="#2f7cc2" stroke="none" stroke-width="1"/>
<circle cx="374.98" cy="22.23" r="0.6" fill="#2f7cc2" stroke="none" stroke-width="1"/>
<circle cx="375.77" cy="23.97" r="0.6" fill="#2f7cc2" stroke="none" stroke-width="1"/>
<circle cx="376.93" cy="22.72" r="0.6" fill="#2f7cc2" stroke="none" stroke-width="1"/>
<circle cx="378.22" cy="22.4" r="0.6" fill="#2f7cc2" stroke="none" stroke-width="1"/>
<circle cx="379.16" cy="22.27" r="0.6" fill="#2f7cc2" stroke="none" stroke-width="1"/>
<circle cx="380.67" cy="22.55" r="0.6" fill="#2f7cc2" stroke="none" stroke-width="1"/>
<circle cx="381.71" cy="23.74" r="0.6" fill="#2f7cc2" stroke="none" stroke-width="1"/>
<circle cx="382.2" cy="25.05" r="0.6" fill="#2f7cc2" stroke="none" stroke-width="1"/>
<circle cx="383.98" cy="23.49" r="0.6" fill="#2f7cc2" stroke="none" stroke-width="1"/>
<circle cx="384.28" cy="24.99" r="0.6" fill="#2f7cc2" stroke="none" stroke-width="1"/>
<circle cx="385.68" cy="21.92" r="0.6" fill="#2f7cc2" stroke="none" stroke-width="1"/>
<circle cx="386.58" cy="21.95" r="0.6" fill="#2f7cc2" stroke="none" stroke-width="1"/>
<circle cx="388.11" cy="22.23" r="0.6" fill="#2f7cc2" stroke="none" stroke-width="1"/>
<circle cx="389.44" cy="25.79" r="0.6" fill="#2f7cc2" stroke="none" stroke-width="1"/>
<circle cx="390.36" cy="23.22" r="0.6" fill="#2f7cc2" stroke="none" stroke-width="1"/>
<circle cx="390.89" cy="25.91" r="0.6" fill="#2f7cc2" stroke="none" stroke-width="1"/>
<circle cx="392.82" cy="27.32" r="0.6" fill="#2f7cc2" stroke="none" stroke-width="1"/>
<circle cx="393.91" cy="24.7" r="0.6" fill="#2f7cc2" stroke="none" stroke-width="1"/>
<circle cx="394.54" cy="26" r="0.6" fill="#2f7cc2" stroke="none" stroke-width="1"/>
<circle cx="395.99" cy="29.24" r="0.6" fill="#2f7cc2" stroke="none" stroke-width="1"/>
<circle cx="396.69" cy="26.01" r="0.6" fill="#2f7cc2" stroke="none" stroke-width="1"/>
<circle cx="397.7" cy="28.28" r="0.6" fill="#2f7cc2" stroke="none" stroke-width="1"/>
<circle cx="398.78" cy="27.53" r="0.6" fill="#2f7cc2" stroke="none" stroke-width="1"/>
<circle cx="399.58" cy="30.75" r="0.6" fill="#2f7cc2" stroke="none" stroke-width="1"/>
<circle cx="401.11" cy="30.88" r="0.6" fill="#2f7cc2" stroke="none" stroke-width="1"/>
<circle cx="402.1" cy="29.43" r="0.6" fill="#2f7cc2" stroke="none" stroke-width="1"/>
<circle cx="403.38" cy="33.37" r="0.6" fill="#2f7cc2" stroke="none" stroke-width="1"/>
<circle cx="404.96" cy="32.1" r="0.6" fill="#2f7cc2" stroke="none" stroke-width="1"/>
<circle cx="406.04" cy="36.93" r="0.6" fill="#2f7cc2" stroke="none" stroke-width="1"/>
<circle cx="406.44" cy="35.49" r="0.6" fill="#2f7cc2" stroke="none" stroke-width="1"/>
<circle cx="408.05" cy="37.15" r="0.6" fill="#2f7cc2" stroke="none" stroke-width="1"/>
<circle cx="408.51" cy="40.48" r="0.6" fill="#2f7cc2" stroke="none" stroke-width="1"/>
<circle cx="410.39" cy="43.8" r="0.6" fill="#2f7cc2" stroke="none" stroke-width="1"/>
<circle cx="410.84" cy="48.67" r="0.6" fill="#2f7cc2" stroke="none" stroke-width="1"/>
<circle cx="412.6" cy="49.14" r="0.6" fill="#2f7cc2" stroke="none" stroke-width="1"/>
<circle cx="413.48" cy="55.19" r="0.6" fill="#2f7cc2" stroke="none" stroke-width="1"/>
<circle cx="413.94" cy="57.76" r="0.6" fill="#2f7cc2" stroke="none" stroke-width="1"/>
<circle cx="415.41" cy="66.02" r="0.6" fill="#2f7cc2" stroke="none" stroke-width="1"/>
<circle cx="417.03" cy="69.46" r="0.6" fill="#2f7cc2" stroke="none" stroke-width="1"/>
<circle cx="417.99" cy="79.06" r="0.6" fill="#2f7cc2" stroke="none" stroke-width="1"/>
<circle cx="419.15" cy="84.12" r="0.6" fill="#2f7cc2" stroke="none" stroke-width="1"/>
<circle cx="420.26" cy="91.87" r="0.6" fill="#2f7cc2" stroke="none" stroke-width="1"/>
<circle cx="420.83" cy="101.13" r="0.6" fill="#2f7cc2" stroke="none" stroke-width="1"/>
<circle cx="422.52" cy="107.92" r="0.6" fill="#2f7cc2" stroke="none" stroke-width="1"/>
<circle cx="422.83" cy="110.9" r="0.6" fill="#2f7cc2" stroke="none" stroke-width="1"/>
<circle cx="424.04" cy="113.62" r="0.6" fill="#2f7cc2" stroke="none" stroke-width="1"/>
<circle cx="425.06" cy="110.18" r="0.6" fill="#2f7cc2" stroke="none" stroke-width="1"/>
<circle cx="426.21" cy="105.61" r="0.6" fill="#2f7cc2" stroke="none" stroke-width="1"/>
<circle cx="427.41" cy="100.48" r="0.6" fill="#2f7cc2" stroke="none" stroke-width="1"/>
<circle cx="428.5" cy="95.06" r="0.6" fill="#2f7cc2" stroke="none" stroke-width="1"/>
<circle cx="429.49" cy="86.03" r="0.6" fill="#2f7cc2" stroke="none" stroke-width="1"/>
<circle cx="430.43" cy="77.74" r="0.6" fill="#2f7cc2" stroke="none" stroke-width="1"/>
<circle cx="431.53" cy="70.28" r="0.6" fill="#2f7cc2" stroke="none" stroke-width="1"/>
<circle cx="433.16" cy="66.23" r="0.6" fill="#2f7cc2" stroke="none" stroke-width="1"/>
<circle cx="434.19" cy="58.22" r="0.6" fill="#2f7cc2" stroke="none" stroke-width="1"/>
<circle cx="434.92" cy="56.87" r="0.6" fill="#2f7cc2" stroke="none" stroke-width="1"/>
<circle cx="436.35" cy="52.22" r="0.6" fill="#2f7cc2" stroke="none" stroke-width="1"/>
<circle cx="437.85" cy="47.18" r="0.6" fill="#2f7cc2" stroke="none" stroke-width="1"/>
<circle cx="438.63" cy="43.67" r="0.6" fill="#2f7cc2" stroke="none" stroke-width="1"/>
<circle cx="440.21" cy="42.4" r="0.6" fill="#2f7cc2" stroke="none" stroke-width="1"/>
<circle cx="441.16" cy="38.55" r="0.6" fill="#2f7cc2" stroke="none" stroke-width="1"/>
<circle cx="442.06" cy="38.26" r="0.6" fill="#2f7cc2" stroke="none" stroke-width="1"/>
<circle cx="442.88" cy="35.16" r="0.6" fill="#2f7cc2" stroke="none" stroke-width="1"/>
<circle cx="443.76" cy="32.06" r="0.6" fill="#2f7cc2" stroke="none" stroke-width="1"/>
<circle cx="445.47" cy="30.83" r="0.6" fill="#2f7cc2" stroke="none" stroke-width="1"/>
<circle cx="446" cy="30.52" r="0.6" fill="#2f7cc2" stroke="none" stroke-width="1"/>
<circle cx="447.78" cy="28.72" r="0.6" fill="#2f7cc2" stroke="none" stroke-width="1"/>
<circle cx="448.71" cy="31.43" r="0.6" fill="#2f7cc2" stroke="none" stroke-width="1"/>
<circle cx="449.38" cy="27.92" r="0.6" fill="#2f7cc2" stroke="none" stroke-width="1"/>
<circle cx="450.7" cy="27.26" r="0.6" fill="#2f7cc2" stroke="none" stroke-width="1"/>
<circle cx="451.79" cy="25.99" r="0.6" fill="#2f7cc2" stroke="none" stroke-width="1"/>
<circle cx="453.41" cy="25.9" r="0.6" fill="#2f7cc2" stroke="none" stroke-width="1"/>
<circle cx="454.09" cy="28.64" r="0.6" fill="#2f7cc2" stroke="none" stroke-width="1"/>
<circle cx="455.61" cy="24.82" r="0.6" fill="#2f7cc2" stroke="none" stroke-width="1"/>
<circle cx="456.1" cy="24.69" r="0.6" fill="#2f7cc2" stroke="none" stroke-width="1"/>
<circle cx="457.23" cy="22.88" r="0.6" fill="#2f7cc2" stroke="none" stroke-width="1"/>
<circle cx="458.45" cy="24.7" r="0.6" fill="#2f7cc2" stroke="none" stroke-width="1"/>
<circle cx="459.56" cy="23.11" r="0.6" fill="#2f7cc2" stroke="none" stroke-width="1"/>
<circle cx="460.42" cy="21.91" r="0.6" fill="#2f7cc2" stroke="none" stroke-width="1"/>
<circle cx="461.66" cy="22.03" r="0.6" fill="#2f7cc2" stroke="none" stroke-width="1"/>
<circle cx="462.38" cy="21.55" r="0.6" fill="#2f7cc2" stroke="none" stroke-width="1"/>
<circle cx="463.69" cy="22.53" r="0.6" fill="#2f7cc2" stroke="none" stroke-width="1"/>
<circle cx="465.09" cy="23.61" r="0.6" fill="#2f7cc2" stroke="none" stroke-width="1"/>
<circle cx="466.32" cy="24.16" r="0.6" fill="#2f7cc2" stroke="none" stroke-width="1"/>
<circle cx="467.64" cy="23.82" r="0.6" fill="#2f7cc2" stroke="none" stroke-width="1"/>
<circle cx="468.19" cy="22.15" r="0.6" fill="#2f7cc2" stroke="none" stroke-width="1"/>
<circle cx="469.12" cy="24.72" r="0.6" fill="#2f7cc2" stroke="none" stroke-width="1"/>
<circle cx="470.71" cy="23.37" r="0.6" fill="#2f7cc2" stroke="none" stroke-width="1"/>
<circle cx="472.01" cy="20.11" r="0.6" fill="#2f7cc2" stroke="none" stroke-width="1"/>
<circle cx="472.9" cy="23.88" r="0.6" fill="#2f7cc2" stroke="none" stroke-width="1"/>
<circle cx="474.19" cy="23.03" r="0.6" fill="#2f7cc2" stroke="none" stroke-width="1"/>
<circle cx="475" cy="20.18" r="0.6" fill="#2f7cc2" stroke="none" stroke-width="1"/>
<circle cx="476.41" cy="21.75" r="0.6" fill="#2f7cc2" stroke="none" stroke-width="1"/>
<circle cx="477.51" cy="23.03" r="0.6" fill="#2f7cc2" stroke="none" stroke-width="1"/>
<circle cx="478.67" cy="21.92" r="0.6" fill="#2f7cc2" stroke="none" stroke-width="1"/>
<circle cx="479.58" cy="22.28" r="0.6" fill="#2f7cc2" stroke="none" stroke-width="1"/>
<circle cx="480.02" cy="20.11" r="0.6" fill="#2f7cc2" stroke="none" stroke-width="1"/>
<circle cx="481.45" cy="19.59" r="0.6" fill="#2f7cc2" stroke="none" stroke-width="1"/>
<circle cx="483.02" cy="19.38" r="0.6" fill="#2f7cc2" stroke="none" stroke-width="1"/>
<circle cx="483.92" cy="21.4" r="0.6" fill="#2f7cc2" stroke="none" stroke-width="1"/>
<circle cx="485.07" cy="21.64" r="0.6" fill="#2f7cc2" stroke="none" stroke-width="1"/>
<circle cx="485.5" cy="20.95" r="0.6" fill="#2f7cc2" stroke="none" stroke-width="1"/>
<circle cx="487.34" cy="22.3" r="0.6" fill="#2f7cc2" stroke="none" stroke-width="1"/>
<circle cx="488.23" cy="20.89" r="0.6" fill="#2f7cc2" stroke="none" stroke-width="1"/>
<circle cx="488.86" cy="21.55" r="0.6" fill="#2f7cc2" stroke="none" stroke-width="1"/>
<circle cx="490.15" cy="21.86" r="0.6" fill="#2f7cc2" stroke="none" stroke-width="1"/>
<polyline points="358.2,20.77 358.75,20.79 359.3,20.82 359.85,20.85 360.4,20.88 360.95,20.9 361.5,20.93 362.06,20.96 362.61,20.99 363.16,21.03 363.71,21.06 364.26,21.09 364.81,21.13 365.36,21.16 365.91,21.2 366.46,21.24 367.01,21.28 367.56,21.31 368.12,21.36 368.67,21.4 369.22,21.44 369.77,21.48 370.32,21.53 370.87,21.58 371.42,21.63 371.97,21.68 372.52,21.73 373.07,21.78 373.62,21.84 374.17,21.89 374.72,21.95 375.28,22.01 375.83,22.07 376.38,22.14 376.93,22.2 377.48,22.27 378.03,22.34 378.58,22.42 379.13,22.49 379.68,22.57 380.23,22.65 380.78,22.74 381.33,22.83 381.89,22.92 382.44,23.01 382.99,23.11 383.54,23.21 384.09,23.32 384.64,23.43 385.19,23.54 385.74,23.66 386.29,23.79 386.84,23.91 387.39,24.05 387.94,24.19 388.5,24.34 389.05,24.49 389.6,24.65 390.15,24.81 390.7,24.99 391.25,25.17 391.8,25.36 392.35,25.56 392.9,25.77 393.45,25.99 394,26.22 394.56,26.46 395.11,26.72 395.66,26.99 396.21,27.27 396.76,27.57 397.31,27.88 397.86,28.21 398.41,28.56 398.96,28.93 399.51,29.32 400.06,29.73 400.61,30.17 401.16,30.63 401.72,31.13 402.27,31.65 402.82,32.21 403.37,32.8 403.92,33.43 404.47,34.11 405.02,34.83 405.57,35.6 406.12,36.42 406.67,37.31 407.22,38.25 407.77,39.27 408.33,40.36 408.88,41.54 409.43,42.8 409.98,44.16 410.53,45.63 411.08,47.21 411.63,48.91 412.18,50.75 412.73,52.73 413.28,54.87 413.83,57.17 414.38,59.65 414.94,62.31 415.49,65.16 416.04,68.2 416.59,71.43 417.14,74.85 417.69,78.44 418.24,82.18 418.79,86.03 419.34,89.95 419.89,93.86 420.44,97.69 421,101.35 421.55,104.71 422.1,107.68 422.65,110.13 423.2,111.97 423.75,113.11 424.3,113.5 424.85,113.11 425.4,111.97 425.95,110.13 426.5,107.68 427.05,104.71 427.61,101.35 428.16,97.69 428.71,93.86 429.26,89.95 429.81,86.03 430.36,82.18 430.91,78.44 431.46,74.85 432.01,71.43 432.56,68.2 433.11,65.16 433.66,62.31 434.21,59.65 434.77,57.17 435.32,54.87 435.87,52.73 436.42,50.75 436.97,48.91 437.52,47.21 438.07,45.63 438.62,44.16 439.17,42.8 439.72,41.54 440.27,40.36 440.82,39.27 441.38,38.25 441.93,37.31 442.48,36.42 443.03,35.6 443.58,34.83 444.13,34.11 444.68,33.43 445.23,32.8 445.78,32.21 446.33,31.65 446.88,31.13 447.44,30.63 447.99,30.17 448.54,29.73 449.09,29.32 449.64,28.93 450.19,28.56 450.74,28.21 451.29,27.88 451.84,27.57 452.39,27.27 452.94,26.99 453.49,26.72 454.04,26.46 454.6,26.22 455.15,25.99 455.7,25.77 456.25,25.56 456.8,25.36 457.35,25.17 457.9,24.99 458.45,24.81 459,24.65 459.55,24.49 460.1,24.34 460.65,24.19 461.21,24.05 461.76,23.91 462.31,23.79 462.86,23.66 463.41,23.54 463.96,23.43 464.51,23.32 465.06,23.21 465.61,23.11 466.16,23.01 466.71,22.92 467.26,22.83 467.82,22.74 468.37,22.65 468.92,22.57 469.47,22.49 470.02,22.42 470.57,22.34 471.12,22.27 471.67,22.2 472.22,22.14 472.77,22.07 473.32,22.01 473.88,21.95 474.43,21.89 474.98,21.84 475.53,21.78 476.08,21.73 476.63,21.68 477.18,21.63 477.73,21.58 478.28,21.53 478.83,21.48 479.38,21.44 479.93,21.4 480.49,21.36 481.04,21.31 481.59,21.28 482.14,21.24 482.69,21.2 483.24,21.16 483.79,21.13 484.34,21.09 484.89,21.06 485.44,21.03 485.99,20.99 486.54,20.96 487.09,20.93 487.65,20.9 488.2,20.88 488.75,20.85 489.3,20.82 489.85,20.79 490.4,20.77" fill="none" stroke="#c4304a" stroke-width="1"/>
<circle cx="461.4" cy="114" r="1.3" fill="none" stroke="#3d86c6" stroke-width="0.6"/>
<text x="469.9" y="116.63" font-size="7.3" text-anchor="start" fill="#2a2526" stroke="#2a2526" stroke-width="0.1">Meas.</text>
<line x1="456.4" y1="123.1" x2="465.9" y2="123.1" stroke="#d42a44" stroke-width="1.3"/>
<text x="469.9" y="125.73" font-size="7.3" text-anchor="start" fill="#2a2526" stroke="#2a2526" stroke-width="0.1">Fitting</text>
<text x="358.3" y="115.7" font-size="7.3" fill="#2a2526">Q<tspan font-size="5" dy="2">0</tspan><tspan dy="-2"> = 6.48 M</tspan></text>
<text x="358.3" y="125.7" font-size="7.3" fill="#2a2526">Q<tspan font-size="5" dy="2">e</tspan><tspan dy="-2"> = 3.81 M</tspan></text>
<text x="180.8" y="77.13" font-size="7.3" text-anchor="middle" fill="#2a2526" stroke="#2a2526" stroke-width="0.1" transform="rotate(-90 180.8 74.5)">Normalized transmission</text>
<rect x="540.3" y="17.3" width="106" height="114.8" fill="#4c4c4e" stroke="none" stroke-width="0.9"/>
<clipPath id="cclip"><rect x="540.3" y="17.3" width="106" height="114.8"/></clipPath>
<line x1="585.64" y1="136.25" x2="585.83" y2="135.22" stroke="#e2221e" stroke-width="2.03" stroke-linecap="round" clip-path="url(#cclip)"/>
<line x1="585.83" y1="135.22" x2="586.02" y2="134.19" stroke="#e2221e" stroke-width="2.03" stroke-linecap="round" clip-path="url(#cclip)"/>
<line x1="586.02" y1="134.19" x2="586.21" y2="133.16" stroke="#e2221e" stroke-width="2.03" stroke-linecap="round" clip-path="url(#cclip)"/>
<line x1="586.21" y1="133.16" x2="586.4" y2="132.13" stroke="#e2221e" stroke-width="2.03" stroke-linecap="round" clip-path="url(#cclip)"/>
<line x1="586.4" y1="132.13" x2="586.59" y2="131.1" stroke="#e2221e" stroke-width="2.03" stroke-linecap="round" clip-path="url(#cclip)"/>
<line x1="586.59" y1="131.1" x2="586.78" y2="130.07" stroke="#e2221e" stroke-width="2.03" stroke-linecap="round" clip-path="url(#cclip)"/>
<line x1="586.78" y1="130.07" x2="586.98" y2="129.05" stroke="#e2221e" stroke-width="2.04" stroke-linecap="round" clip-path="url(#cclip)"/>
<line x1="586.98" y1="129.05" x2="587.17" y2="128.02" stroke="#e2221e" stroke-width="2.04" stroke-linecap="round" clip-path="url(#cclip)"/>
<line x1="587.17" y1="128.02" x2="587.37" y2="126.99" stroke="#e2221e" stroke-width="2.04" stroke-linecap="round" clip-path="url(#cclip)"/>
<line x1="587.37" y1="126.99" x2="587.56" y2="125.96" stroke="#e2221e" stroke-width="2.04" stroke-linecap="round" clip-path="url(#cclip)"/>
<line x1="587.56" y1="125.96" x2="587.76" y2="124.93" stroke="#e2221e" stroke-width="2.04" stroke-linecap="round" clip-path="url(#cclip)"/>
<line x1="587.76" y1="124.93" x2="587.96" y2="123.9" stroke="#e2221e" stroke-width="2.04" stroke-linecap="round" clip-path="url(#cclip)"/>
<line x1="587.96" y1="123.9" x2="588.16" y2="122.87" stroke="#e2221e" stroke-width="2.04" stroke-linecap="round" clip-path="url(#cclip)"/>
<line x1="588.16" y1="122.87" x2="588.36" y2="121.84" stroke="#e2221e" stroke-width="2.05" stroke-linecap="round" clip-path="url(#cclip)"/>
<line x1="588.36" y1="121.84" x2="588.57" y2="120.81" stroke="#e2221e" stroke-width="2.05" stroke-linecap="round" clip-path="url(#cclip)"/>
<line x1="588.57" y1="120.81" x2="588.77" y2="119.78" stroke="#e2221e" stroke-width="2.05" stroke-linecap="round" clip-path="url(#cclip)"/>
<line x1="588.77" y1="119.78" x2="588.98" y2="118.75" stroke="#e2221e" stroke-width="2.05" stroke-linecap="round" clip-path="url(#cclip)"/>
<line x1="588.98" y1="118.75" x2="589.19" y2="117.73" stroke="#e2221e" stroke-width="2.05" stroke-linecap="round" clip-path="url(#cclip)"/>
<line x1="589.19" y1="117.73" x2="589.4" y2="116.7" stroke="#e2221e" stroke-width="2.05" stroke-linecap="round" clip-path="url(#cclip)"/>
<line x1="589.4" y1="116.7" x2="589.61" y2="115.67" stroke="#e2221e" stroke-width="2.06" stroke-linecap="round" clip-path="url(#cclip)"/>
<line x1="589.61" y1="115.67" x2="589.83" y2="114.64" stroke="#e2221e" stroke-width="2.06" stroke-linecap="round" clip-path="url(#cclip)"/>
<line x1="589.83" y1="114.64" x2="590.04" y2="113.61" stroke="#e2221e" stroke-width="2.06" stroke-linecap="round" clip-path="url(#cclip)"/>
<line x1="590.04" y1="113.61" x2="590.26" y2="112.58" stroke="#e2221e" stroke-width="2.06" stroke-linecap="round" clip-path="url(#cclip)"/>
<line x1="590.26" y1="112.58" x2="590.49" y2="111.55" stroke="#e2221e" stroke-width="2.07" stroke-linecap="round" clip-path="url(#cclip)"/>
<line x1="590.49" y1="111.55" x2="590.71" y2="110.52" stroke="#e2221e" stroke-width="2.07" stroke-linecap="round" clip-path="url(#cclip)"/>
<line x1="590.71" y1="110.52" x2="590.94" y2="109.49" stroke="#e2221e" stroke-width="2.07" stroke-linecap="round" clip-path="url(#cclip)"/>
<line x1="590.94" y1="109.49" x2="591.17" y2="108.46" stroke="#e2221e" stroke-width="2.07" stroke-linecap="round" clip-path="url(#cclip)"/>
<line x1="591.17" y1="108.46" x2="591.4" y2="107.43" stroke="#e2221e" stroke-width="2.08" stroke-linecap="round" clip-path="url(#cclip)"/>
<line x1="591.4" y1="107.43" x2="591.64" y2="106.4" stroke="#e2221e" stroke-width="2.08" stroke-linecap="round" clip-path="url(#cclip)"/>
<line x1="591.64" y1="106.4" x2="591.88" y2="105.37" stroke="#e2221e" stroke-width="2.08" stroke-linecap="round" clip-path="url(#cclip)"/>
<line x1="591.88" y1="105.37" x2="592.12" y2="104.35" stroke="#e2221e" stroke-width="2.09" stroke-linecap="round" clip-path="url(#cclip)"/>
<line x1="592.12" y1="104.35" x2="592.37" y2="103.32" stroke="#e2221e" stroke-width="2.09" stroke-linecap="round" clip-path="url(#cclip)"/>
<line x1="592.37" y1="103.32" x2="592.62" y2="102.29" stroke="#e2221e" stroke-width="2.1" stroke-linecap="round" clip-path="url(#cclip)"/>
<line x1="592.62" y1="102.29" x2="592.87" y2="101.26" stroke="#e2221e" stroke-width="2.1" stroke-linecap="round" clip-path="url(#cclip)"/>
<line x1="592.87" y1="101.26" x2="593.13" y2="100.23" stroke="#e2221e" stroke-width="2.11" stroke-linecap="round" clip-path="url(#cclip)"/>
<line x1="593.13" y1="100.23" x2="593.4" y2="99.2" stroke="#e2221e" stroke-width="2.11" stroke-linecap="round" clip-path="url(#cclip)"/>
<line x1="593.4" y1="99.2" x2="593.67" y2="98.17" stroke="#e2221e" stroke-width="2.12" stroke-linecap="round" clip-path="url(#cclip)"/>
<line x1="593.67" y1="98.17" x2="593.94" y2="97.14" stroke="#e2221e" stroke-width="2.12" stroke-linecap="round" clip-path="url(#cclip)"/>
<line x1="593.94" y1="97.14" x2="594.22" y2="96.11" stroke="#e2221e" stroke-width="2.13" stroke-linecap="round" clip-path="url(#cclip)"/>
<line x1="594.22" y1="96.11" x2="594.51" y2="95.08" stroke="#e2221e" stroke-width="2.13" stroke-linecap="round" clip-path="url(#cclip)"/>
<line x1="594.51" y1="95.08" x2="594.8" y2="94.05" stroke="#e2221e" stroke-width="2.14" stroke-linecap="round" clip-path="url(#cclip)"/>
<line x1="594.8" y1="94.05" x2="595.1" y2="93.03" stroke="#e2221e" stroke-width="2.15" stroke-linecap="round" clip-path="url(#cclip)"/>
<line x1="595.1" y1="93.03" x2="595.41" y2="92" stroke="#e2221e" stroke-width="2.16" stroke-linecap="round" clip-path="url(#cclip)"/>
<line x1="595.41" y1="92" x2="595.72" y2="90.97" stroke="#e2221e" stroke-width="2.16" stroke-linecap="round" clip-path="url(#cclip)"/>
<line x1="595.72" y1="90.97" x2="596.04" y2="89.94" stroke="#e2221e" stroke-width="2.17" stroke-linecap="round" clip-path="url(#cclip)"/>
<line x1="596.04" y1="89.94" x2="596.37" y2="88.91" stroke="#e2221e" stroke-width="2.18" stroke-linecap="round" clip-path="url(#cclip)"/>
<line x1="596.37" y1="88.91" x2="596.71" y2="87.88" stroke="#e2221e" stroke-width="2.19" stroke-linecap="round" clip-path="url(#cclip)"/>
<line x1="596.71" y1="87.88" x2="597.06" y2="86.85" stroke="#e2221e" stroke-width="2.2" stroke-linecap="round" clip-path="url(#cclip)"/>
<line x1="597.06" y1="86.85" x2="597.42" y2="85.82" stroke="#e2221e" stroke-width="2.21" stroke-linecap="round" clip-path="url(#cclip)"/>
<line x1="597.42" y1="85.82" x2="597.79" y2="84.79" stroke="#e2221e" stroke-width="2.22" stroke-linecap="round" clip-path="url(#cclip)"/>
<line x1="597.79" y1="84.79" x2="598.16" y2="83.76" stroke="#e2221e" stroke-width="2.23" stroke-linecap="round" clip-path="url(#cclip)"/>
<line x1="598.16" y1="83.76" x2="598.55" y2="82.73" stroke="#e2221e" stroke-width="2.24" stroke-linecap="round" clip-path="url(#cclip)"/>
<line x1="598.55" y1="82.73" x2="598.95" y2="81.7" stroke="#e2221e" stroke-width="2.25" stroke-linecap="round" clip-path="url(#cclip)"/>
<line x1="598.95" y1="81.7" x2="599.36" y2="80.67" stroke="#e2221e" stroke-width="2.27" stroke-linecap="round" clip-path="url(#cclip)"/>
<line x1="599.36" y1="80.67" x2="599.78" y2="79.65" stroke="#e2221e" stroke-width="2.28" stroke-linecap="round" clip-path="url(#cclip)"/>
<line x1="599.78" y1="79.65" x2="600.22" y2="78.62" stroke="#e1221e" stroke-width="2.29" stroke-linecap="round" clip-path="url(#cclip)"/>
<line x1="600.22" y1="78.62" x2="600.67" y2="77.59" stroke="#dd221e" stroke-width="2.3" stroke-linecap="round" clip-path="url(#cclip)"/>
<line x1="600.67" y1="77.59" x2="601.12" y2="76.56" stroke="#da221e" stroke-width="2.32" stroke-linecap="round" clip-path="url(#cclip)"/>
<line x1="601.12" y1="76.56" x2="601.6" y2="75.53" stroke="#d6221f" stroke-width="2.33" stroke-linecap="round" clip-path="url(#cclip)"/>
<line x1="601.6" y1="75.53" x2="602.08" y2="74.5" stroke="#d2231f" stroke-width="2.34" stroke-linecap="round" clip-path="url(#cclip)"/>
<line x1="602.08" y1="74.5" x2="602.58" y2="73.47" stroke="#cf2320" stroke-width="2.36" stroke-linecap="round" clip-path="url(#cclip)"/>
<line x1="602.58" y1="73.47" x2="603.08" y2="72.44" stroke="#cb2320" stroke-width="2.37" stroke-linecap="round" clip-path="url(#cclip)"/>
<line x1="603.08" y1="72.44" x2="603.61" y2="71.41" stroke="#c72321" stroke-width="2.38" stroke-linecap="round" clip-path="url(#cclip)"/>
<line x1="603.61" y1="71.41" x2="604.14" y2="70.38" stroke="#c42421" stroke-width="2.4" stroke-linecap="round" clip-path="url(#cclip)"/>
<line x1="604.14" y1="70.38" x2="604.69" y2="69.35" stroke="#c02422" stroke-width="2.41" stroke-linecap="round" clip-path="url(#cclip)"/>
<line x1="604.69" y1="69.35" x2="605.24" y2="68.32" stroke="#bd2422" stroke-width="2.42" stroke-linecap="round" clip-path="url(#cclip)"/>
<line x1="605.24" y1="68.32" x2="605.81" y2="67.3" stroke="#b92422" stroke-width="2.43" stroke-linecap="round" clip-path="url(#cclip)"/>
<line x1="605.81" y1="67.3" x2="606.39" y2="66.27" stroke="#b62523" stroke-width="2.45" stroke-linecap="round" clip-path="url(#cclip)"/>
<line x1="606.39" y1="66.27" x2="606.99" y2="65.24" stroke="#b32523" stroke-width="2.46" stroke-linecap="round" clip-path="url(#cclip)"/>
<line x1="606.99" y1="65.24" x2="607.59" y2="64.21" stroke="#af2524" stroke-width="2.47" stroke-linecap="round" clip-path="url(#cclip)"/>
<line x1="607.59" y1="64.21" x2="608.2" y2="63.18" stroke="#ac2524" stroke-width="2.48" stroke-linecap="round" clip-path="url(#cclip)"/>
<line x1="608.2" y1="63.18" x2="608.82" y2="62.15" stroke="#aa2524" stroke-width="2.49" stroke-linecap="round" clip-path="url(#cclip)"/>
<line x1="608.82" y1="62.15" x2="609.46" y2="61.12" stroke="#a72625" stroke-width="2.5" stroke-linecap="round" clip-path="url(#cclip)"/>
<line x1="609.46" y1="61.12" x2="610.1" y2="60.09" stroke="#a42625" stroke-width="2.51" stroke-linecap="round" clip-path="url(#cclip)"/>
<line x1="610.1" y1="60.09" x2="610.75" y2="59.06" stroke="#a22625" stroke-width="2.52" stroke-linecap="round" clip-path="url(#cclip)"/>
<line x1="610.75" y1="59.06" x2="611.4" y2="58.03" stroke="#9f2626" stroke-width="2.53" stroke-linecap="round" clip-path="url(#cclip)"/>
<line x1="611.4" y1="58.03" x2="612.07" y2="57" stroke="#9d2626" stroke-width="2.54" stroke-linecap="round" clip-path="url(#cclip)"/>
<line x1="612.07" y1="57" x2="612.74" y2="55.98" stroke="#9b2626" stroke-width="2.54" stroke-linecap="round" clip-path="url(#cclip)"/>
<line x1="612.74" y1="55.98" x2="613.42" y2="54.95" stroke="#992726" stroke-width="2.55" stroke-linecap="round" clip-path="url(#cclip)"/>
<line x1="613.42" y1="54.95" x2="614.11" y2="53.92" stroke="#972727" stroke-width="2.56" stroke-linecap="round" clip-path="url(#cclip)"/>
<line x1="614.11" y1="53.92" x2="614.8" y2="52.89" stroke="#952727" stroke-width="2.57" stroke-linecap="round" clip-path="url(#cclip)"/>
<line x1="614.8" y1="52.89" x2="615.5" y2="51.86" stroke="#932727" stroke-width="2.57" stroke-linecap="round" clip-path="url(#cclip)"/>
<line x1="615.5" y1="51.86" x2="616.21" y2="50.83" stroke="#912727" stroke-width="2.58" stroke-linecap="round" clip-path="url(#cclip)"/>
<line x1="616.21" y1="50.83" x2="616.92" y2="49.8" stroke="#902728" stroke-width="2.58" stroke-linecap="round" clip-path="url(#cclip)"/>
<line x1="616.92" y1="49.8" x2="617.63" y2="48.77" stroke="#8e2728" stroke-width="2.59" stroke-linecap="round" clip-path="url(#cclip)"/>
<line x1="617.63" y1="48.77" x2="618.35" y2="47.74" stroke="#8d2728" stroke-width="2.59" stroke-linecap="round" clip-path="url(#cclip)"/>
<line x1="618.35" y1="47.74" x2="619.08" y2="46.71" stroke="#8c2828" stroke-width="2.6" stroke-linecap="round" clip-path="url(#cclip)"/>
<line x1="619.08" y1="46.71" x2="619.81" y2="45.68" stroke="#8a2828" stroke-width="2.6" stroke-linecap="round" clip-path="url(#cclip)"/>
<line x1="619.81" y1="45.68" x2="620.54" y2="44.65" stroke="#892828" stroke-width="2.61" stroke-linecap="round" clip-path="url(#cclip)"/>
<line x1="620.54" y1="44.65" x2="621.28" y2="43.62" stroke="#882828" stroke-width="2.61" stroke-linecap="round" clip-path="url(#cclip)"/>
<line x1="621.28" y1="43.62" x2="622.02" y2="42.6" stroke="#872829" stroke-width="2.62" stroke-linecap="round" clip-path="url(#cclip)"/>
<line x1="622.02" y1="42.6" x2="622.76" y2="41.57" stroke="#862829" stroke-width="2.62" stroke-linecap="round" clip-path="url(#cclip)"/>
<line x1="622.76" y1="41.57" x2="623.51" y2="40.54" stroke="#852829" stroke-width="2.62" stroke-linecap="round" clip-path="url(#cclip)"/>
<line x1="623.51" y1="40.54" x2="624.26" y2="39.51" stroke="#842829" stroke-width="2.63" stroke-linecap="round" clip-path="url(#cclip)"/>
<line x1="624.26" y1="39.51" x2="625.01" y2="38.48" stroke="#832829" stroke-width="2.63" stroke-linecap="round" clip-path="url(#cclip)"/>
<line x1="625.01" y1="38.48" x2="625.77" y2="37.45" stroke="#832829" stroke-width="2.63" stroke-linecap="round" clip-path="url(#cclip)"/>
<line x1="625.77" y1="37.45" x2="626.53" y2="36.42" stroke="#822829" stroke-width="2.63" stroke-linecap="round" clip-path="url(#cclip)"/>
<line x1="626.53" y1="36.42" x2="627.29" y2="35.39" stroke="#812829" stroke-width="2.64" stroke-linecap="round" clip-path="url(#cclip)"/>
<line x1="627.29" y1="35.39" x2="628.05" y2="34.36" stroke="#802829" stroke-width="2.64" stroke-linecap="round" clip-path="url(#cclip)"/>
<line x1="628.05" y1="34.36" x2="628.82" y2="33.33" stroke="#80282a" stroke-width="2.64" stroke-linecap="round" clip-path="url(#cclip)"/>
<line x1="628.82" y1="33.33" x2="629.58" y2="32.3" stroke="#7f282a" stroke-width="2.64" stroke-linecap="round" clip-path="url(#cclip)"/>
<line x1="629.58" y1="32.3" x2="630.35" y2="31.28" stroke="#7f282a" stroke-width="2.65" stroke-linecap="round" clip-path="url(#cclip)"/>
<line x1="630.35" y1="31.28" x2="631.12" y2="30.25" stroke="#7e282a" stroke-width="2.65" stroke-linecap="round" clip-path="url(#cclip)"/>
<line x1="631.12" y1="30.25" x2="631.9" y2="29.22" stroke="#7d292a" stroke-width="2.65" stroke-linecap="round" clip-path="url(#cclip)"/>
<line x1="631.9" y1="29.22" x2="632.67" y2="28.19" stroke="#7d292a" stroke-width="2.65" stroke-linecap="round" clip-path="url(#cclip)"/>
<line x1="632.67" y1="28.19" x2="633.45" y2="27.16" stroke="#7c292a" stroke-width="2.65" stroke-linecap="round" clip-path="url(#cclip)"/>
<line x1="633.45" y1="27.16" x2="634.23" y2="26.13" stroke="#7c292a" stroke-width="2.65" stroke-linecap="round" clip-path="url(#cclip)"/>
<line x1="634.23" y1="26.13" x2="635.01" y2="25.1" stroke="#7c292a" stroke-width="2.66" stroke-linecap="round" clip-path="url(#cclip)"/>
<line x1="635.01" y1="25.1" x2="635.79" y2="24.07" stroke="#7b292a" stroke-width="2.66" stroke-linecap="round" clip-path="url(#cclip)"/>
<line x1="635.79" y1="24.07" x2="636.57" y2="23.04" stroke="#7b292a" stroke-width="2.66" stroke-linecap="round" clip-path="url(#cclip)"/>
<line x1="636.57" y1="23.04" x2="637.35" y2="22.01" stroke="#7a292a" stroke-width="2.66" stroke-linecap="round" clip-path="url(#cclip)"/>
<line x1="637.35" y1="22.01" x2="638.14" y2="20.98" stroke="#7a292a" stroke-width="2.66" stroke-linecap="round" clip-path="url(#cclip)"/>
<line x1="638.14" y1="20.98" x2="638.92" y2="19.95" stroke="#7a292a" stroke-width="2.66" stroke-linecap="round" clip-path="url(#cclip)"/>
<line x1="638.92" y1="19.95" x2="639.71" y2="18.92" stroke="#79292a" stroke-width="2.66" stroke-linecap="round" clip-path="url(#cclip)"/>
<line x1="639.71" y1="18.92" x2="640.5" y2="17.9" stroke="#79292a" stroke-width="2.67" stroke-linecap="round" clip-path="url(#cclip)"/>
<line x1="640.5" y1="17.9" x2="641.29" y2="16.87" stroke="#79292a" stroke-width="2.67" stroke-linecap="round" clip-path="url(#cclip)"/>
<line x1="641.29" y1="16.87" x2="642.08" y2="15.84" stroke="#79292a" stroke-width="2.67" stroke-linecap="round" clip-path="url(#cclip)"/>
<line x1="642.08" y1="15.84" x2="642.87" y2="14.81" stroke="#78292a" stroke-width="2.67" stroke-linecap="round" clip-path="url(#cclip)"/>
<line x1="642.87" y1="14.81" x2="643.66" y2="13.78" stroke="#78292a" stroke-width="2.67" stroke-linecap="round" clip-path="url(#cclip)"/>
<line x1="643.66" y1="13.78" x2="644.45" y2="12.75" stroke="#78292a" stroke-width="2.67" stroke-linecap="round" clip-path="url(#cclip)"/>
<line x1="585.64" y1="136.25" x2="585.83" y2="135.22" stroke="#f4c040" stroke-width="1" stroke-linecap="round" opacity="1" clip-path="url(#cclip)"/>
<line x1="585.83" y1="135.22" x2="586.02" y2="134.19" stroke="#f4c040" stroke-width="1" stroke-linecap="round" opacity="1" clip-path="url(#cclip)"/>
<line x1="586.02" y1="134.19" x2="586.21" y2="133.16" stroke="#f4c040" stroke-width="1" stroke-linecap="round" opacity="1" clip-path="url(#cclip)"/>
<line x1="586.21" y1="133.16" x2="586.4" y2="132.13" stroke="#f4c040" stroke-width="1" stroke-linecap="round" opacity="1" clip-path="url(#cclip)"/>
<line x1="586.4" y1="132.13" x2="586.59" y2="131.1" stroke="#f4c040" stroke-width="1" stroke-linecap="round" opacity="1" clip-path="url(#cclip)"/>
<line x1="586.59" y1="131.1" x2="586.78" y2="130.07" stroke="#f4c040" stroke-width="1" stroke-linecap="round" opacity="1" clip-path="url(#cclip)"/>
<line x1="586.78" y1="130.07" x2="586.98" y2="129.05" stroke="#f4c040" stroke-width="1" stroke-linecap="round" opacity="1" clip-path="url(#cclip)"/>
<line x1="586.98" y1="129.05" x2="587.17" y2="128.02" stroke="#f4c040" stroke-width="1" stroke-linecap="round" opacity="1" clip-path="url(#cclip)"/>
<line x1="587.17" y1="128.02" x2="587.37" y2="126.99" stroke="#f4c040" stroke-width="1" stroke-linecap="round" opacity="1" clip-path="url(#cclip)"/>
<line x1="587.37" y1="126.99" x2="587.56" y2="125.96" stroke="#f4c040" stroke-width="1" stroke-linecap="round" opacity="1" clip-path="url(#cclip)"/>
<line x1="587.56" y1="125.96" x2="587.76" y2="124.93" stroke="#f4c040" stroke-width="1" stroke-linecap="round" opacity="1" clip-path="url(#cclip)"/>
<line x1="587.76" y1="124.93" x2="587.96" y2="123.9" stroke="#f4c040" stroke-width="1" stroke-linecap="round" opacity="1" clip-path="url(#cclip)"/>
<line x1="587.96" y1="123.9" x2="588.16" y2="122.87" stroke="#f4c040" stroke-width="1" stroke-linecap="round" opacity="1" clip-path="url(#cclip)"/>
<line x1="588.16" y1="122.87" x2="588.36" y2="121.84" stroke="#f4c040" stroke-width="1" stroke-linecap="round" opacity="1" clip-path="url(#cclip)"/>
<line x1="588.36" y1="121.84" x2="588.57" y2="120.81" stroke="#f4c040" stroke-width="1" stroke-linecap="round" opacity="1" clip-path="url(#cclip)"/>
<line x1="588.57" y1="120.81" x2="588.77" y2="119.78" stroke="#f4c040" stroke-width="1" stroke-linecap="round" opacity="1" clip-path="url(#cclip)"/>
<line x1="588.77" y1="119.78" x2="588.98" y2="118.75" stroke="#f4c040" stroke-width="1" stroke-linecap="round" opacity="1" clip-path="url(#cclip)"/>
<line x1="588.98" y1="118.75" x2="589.19" y2="117.73" stroke="#f4c040" stroke-width="1" stroke-linecap="round" opacity="1" clip-path="url(#cclip)"/>
<line x1="589.19" y1="117.73" x2="589.4" y2="116.7" stroke="#f4c040" stroke-width="1" stroke-linecap="round" opacity="1" clip-path="url(#cclip)"/>
<line x1="589.4" y1="116.7" x2="589.61" y2="115.67" stroke="#f4c040" stroke-width="1" stroke-linecap="round" opacity="1" clip-path="url(#cclip)"/>
<line x1="589.61" y1="115.67" x2="589.83" y2="114.64" stroke="#f4c040" stroke-width="1" stroke-linecap="round" opacity="1" clip-path="url(#cclip)"/>
<line x1="589.83" y1="114.64" x2="590.04" y2="113.61" stroke="#f4c040" stroke-width="1" stroke-linecap="round" opacity="1" clip-path="url(#cclip)"/>
<line x1="590.04" y1="113.61" x2="590.26" y2="112.58" stroke="#f4c040" stroke-width="1" stroke-linecap="round" opacity="1" clip-path="url(#cclip)"/>
<line x1="590.26" y1="112.58" x2="590.49" y2="111.55" stroke="#f4c040" stroke-width="1" stroke-linecap="round" opacity="1" clip-path="url(#cclip)"/>
<line x1="590.49" y1="111.55" x2="590.71" y2="110.52" stroke="#f4c040" stroke-width="1" stroke-linecap="round" opacity="1" clip-path="url(#cclip)"/>
<line x1="590.71" y1="110.52" x2="590.94" y2="109.49" stroke="#f4c040" stroke-width="1" stroke-linecap="round" opacity="0.99" clip-path="url(#cclip)"/>
<line x1="590.94" y1="109.49" x2="591.17" y2="108.46" stroke="#f4c040" stroke-width="1" stroke-linecap="round" opacity="0.98" clip-path="url(#cclip)"/>
<line x1="591.17" y1="108.46" x2="591.4" y2="107.43" stroke="#f4c040" stroke-width="1" stroke-linecap="round" opacity="0.96" clip-path="url(#cclip)"/>
<line x1="591.4" y1="107.43" x2="591.64" y2="106.4" stroke="#f4c040" stroke-width="1" stroke-linecap="round" opacity="0.95" clip-path="url(#cclip)"/>
<line x1="591.64" y1="106.4" x2="591.88" y2="105.37" stroke="#f4c040" stroke-width="1" stroke-linecap="round" opacity="0.93" clip-path="url(#cclip)"/>
<line x1="591.88" y1="105.37" x2="592.12" y2="104.35" stroke="#f4c040" stroke-width="1" stroke-linecap="round" opacity="0.91" clip-path="url(#cclip)"/>
<line x1="592.12" y1="104.35" x2="592.37" y2="103.32" stroke="#f4c040" stroke-width="1" stroke-linecap="round" opacity="0.89" clip-path="url(#cclip)"/>
<line x1="592.37" y1="103.32" x2="592.62" y2="102.29" stroke="#f4c040" stroke-width="1" stroke-linecap="round" opacity="0.87" clip-path="url(#cclip)"/>
<line x1="592.62" y1="102.29" x2="592.87" y2="101.26" stroke="#f4c040" stroke-width="1" stroke-linecap="round" opacity="0.85" clip-path="url(#cclip)"/>
<line x1="592.87" y1="101.26" x2="593.13" y2="100.23" stroke="#f4c040" stroke-width="1" stroke-linecap="round" opacity="0.83" clip-path="url(#cclip)"/>
<line x1="593.13" y1="100.23" x2="593.4" y2="99.2" stroke="#f4c040" stroke-width="1" stroke-linecap="round" opacity="0.8" clip-path="url(#cclip)"/>
<line x1="593.4" y1="99.2" x2="593.67" y2="98.17" stroke="#f4c040" stroke-width="1" stroke-linecap="round" opacity="0.78" clip-path="url(#cclip)"/>
<line x1="593.67" y1="98.17" x2="593.94" y2="97.14" stroke="#f4c040" stroke-width="1" stroke-linecap="round" opacity="0.75" clip-path="url(#cclip)"/>
<line x1="593.94" y1="97.14" x2="594.22" y2="96.11" stroke="#f4c040" stroke-width="1" stroke-linecap="round" opacity="0.72" clip-path="url(#cclip)"/>
<line x1="594.22" y1="96.11" x2="594.51" y2="95.08" stroke="#f4c040" stroke-width="1" stroke-linecap="round" opacity="0.69" clip-path="url(#cclip)"/>
<line x1="594.51" y1="95.08" x2="594.8" y2="94.05" stroke="#f4c040" stroke-width="1" stroke-linecap="round" opacity="0.66" clip-path="url(#cclip)"/>
<line x1="594.8" y1="94.05" x2="595.1" y2="93.03" stroke="#f4c040" stroke-width="1" stroke-linecap="round" opacity="0.63" clip-path="url(#cclip)"/>
<line x1="595.1" y1="93.03" x2="595.41" y2="92" stroke="#f4c040" stroke-width="1" stroke-linecap="round" opacity="0.59" clip-path="url(#cclip)"/>
<line x1="595.41" y1="92" x2="595.72" y2="90.97" stroke="#f4c040" stroke-width="1" stroke-linecap="round" opacity="0.55" clip-path="url(#cclip)"/>
<line x1="595.72" y1="90.97" x2="596.04" y2="89.94" stroke="#f4c040" stroke-width="1" stroke-linecap="round" opacity="0.51" clip-path="url(#cclip)"/>
<line x1="596.04" y1="89.94" x2="596.37" y2="88.91" stroke="#f4c040" stroke-width="1" stroke-linecap="round" opacity="0.47" clip-path="url(#cclip)"/>
<line x1="596.37" y1="88.91" x2="596.71" y2="87.88" stroke="#f4c040" stroke-width="1" stroke-linecap="round" opacity="0.43" clip-path="url(#cclip)"/>
<line x1="596.71" y1="87.88" x2="597.06" y2="86.85" stroke="#f4c040" stroke-width="1" stroke-linecap="round" opacity="0.38" clip-path="url(#cclip)"/>
<line x1="597.06" y1="86.85" x2="597.42" y2="85.82" stroke="#f4c040" stroke-width="1" stroke-linecap="round" opacity="0.33" clip-path="url(#cclip)"/>
<line x1="597.42" y1="85.82" x2="597.79" y2="84.79" stroke="#f4c040" stroke-width="1" stroke-linecap="round" opacity="0.29" clip-path="url(#cclip)"/>
<line x1="597.79" y1="84.79" x2="598.16" y2="83.76" stroke="#f4c040" stroke-width="1" stroke-linecap="round" opacity="0.23" clip-path="url(#cclip)"/>
<line x1="598.16" y1="83.76" x2="598.55" y2="82.73" stroke="#f4c040" stroke-width="1" stroke-linecap="round" opacity="0.18" clip-path="url(#cclip)"/>
<line x1="598.55" y1="82.73" x2="598.95" y2="81.7" stroke="#f4c040" stroke-width="1" stroke-linecap="round" opacity="0.12" clip-path="url(#cclip)"/>
<line x1="598.95" y1="81.7" x2="599.36" y2="80.67" stroke="#f4c040" stroke-width="1" stroke-linecap="round" opacity="0.07" clip-path="url(#cclip)"/>
<line x1="599.36" y1="80.67" x2="599.78" y2="79.65" stroke="#f4c040" stroke-width="1" stroke-linecap="round" opacity="0.01" clip-path="url(#cclip)"/>
<line x1="542.35" y1="136.25" x2="543.14" y2="135.22" stroke="#78292a" stroke-width="2.67" stroke-linecap="round" clip-path="url(#cclip)"/>
<line x1="543.14" y1="135.22" x2="543.93" y2="134.19" stroke="#78292a" stroke-width="2.67" stroke-linecap="round" clip-path="url(#cclip)"/>
<line x1="543.93" y1="134.19" x2="544.72" y2="133.16" stroke="#78292a" stroke-width="2.67" stroke-linecap="round" clip-path="url(#cclip)"/>
<line x1="544.72" y1="133.16" x2="545.51" y2="132.13" stroke="#79292a" stroke-width="2.67" stroke-linecap="round" clip-path="url(#cclip)"/>
<line x1="545.51" y1="132.13" x2="546.3" y2="131.1" stroke="#79292a" stroke-width="2.67" stroke-linecap="round" clip-path="url(#cclip)"/>
<line x1="546.3" y1="131.1" x2="547.09" y2="130.07" stroke="#79292a" stroke-width="2.67" stroke-linecap="round" clip-path="url(#cclip)"/>
<line x1="547.09" y1="130.07" x2="547.88" y2="129.05" stroke="#79292a" stroke-width="2.66" stroke-linecap="round" clip-path="url(#cclip)"/>
<line x1="547.88" y1="129.05" x2="548.66" y2="128.02" stroke="#7a292a" stroke-width="2.66" stroke-linecap="round" clip-path="url(#cclip)"/>
<line x1="548.66" y1="128.02" x2="549.45" y2="126.99" stroke="#7a292a" stroke-width="2.66" stroke-linecap="round" clip-path="url(#cclip)"/>
<line x1="549.45" y1="126.99" x2="550.23" y2="125.96" stroke="#7a292a" stroke-width="2.66" stroke-linecap="round" clip-path="url(#cclip)"/>
<line x1="550.23" y1="125.96" x2="551.01" y2="124.93" stroke="#7b292a" stroke-width="2.66" stroke-linecap="round" clip-path="url(#cclip)"/>
<line x1="551.01" y1="124.93" x2="551.79" y2="123.9" stroke="#7b292a" stroke-width="2.66" stroke-linecap="round" clip-path="url(#cclip)"/>
<line x1="551.79" y1="123.9" x2="552.57" y2="122.87" stroke="#7c292a" stroke-width="2.66" stroke-linecap="round" clip-path="url(#cclip)"/>
<line x1="552.57" y1="122.87" x2="553.35" y2="121.84" stroke="#7c292a" stroke-width="2.65" stroke-linecap="round" clip-path="url(#cclip)"/>
<line x1="553.35" y1="121.84" x2="554.13" y2="120.81" stroke="#7c292a" stroke-width="2.65" stroke-linecap="round" clip-path="url(#cclip)"/>
<line x1="554.13" y1="120.81" x2="554.9" y2="119.78" stroke="#7d292a" stroke-width="2.65" stroke-linecap="round" clip-path="url(#cclip)"/>
<line x1="554.9" y1="119.78" x2="555.68" y2="118.75" stroke="#7d292a" stroke-width="2.65" stroke-linecap="round" clip-path="url(#cclip)"/>
<line x1="555.68" y1="118.75" x2="556.45" y2="117.73" stroke="#7e282a" stroke-width="2.65" stroke-linecap="round" clip-path="url(#cclip)"/>
<line x1="556.45" y1="117.73" x2="557.22" y2="116.7" stroke="#7f282a" stroke-width="2.65" stroke-linecap="round" clip-path="url(#cclip)"/>
<line x1="557.22" y1="116.7" x2="557.98" y2="115.67" stroke="#7f282a" stroke-width="2.64" stroke-linecap="round" clip-path="url(#cclip)"/>
<line x1="557.98" y1="115.67" x2="558.75" y2="114.64" stroke="#80282a" stroke-width="2.64" stroke-linecap="round" clip-path="url(#cclip)"/>
<line x1="558.75" y1="114.64" x2="559.51" y2="113.61" stroke="#802829" stroke-width="2.64" stroke-linecap="round" clip-path="url(#cclip)"/>
<line x1="559.51" y1="113.61" x2="560.27" y2="112.58" stroke="#812829" stroke-width="2.64" stroke-linecap="round" clip-path="url(#cclip)"/>
<line x1="560.27" y1="112.58" x2="561.03" y2="111.55" stroke="#822829" stroke-width="2.63" stroke-linecap="round" clip-path="url(#cclip)"/>
<line x1="561.03" y1="111.55" x2="561.79" y2="110.52" stroke="#832829" stroke-width="2.63" stroke-linecap="round" clip-path="url(#cclip)"/>
<line x1="561.79" y1="110.52" x2="562.54" y2="109.49" stroke="#832829" stroke-width="2.63" stroke-linecap="round" clip-path="url(#cclip)"/>
<line x1="562.54" y1="109.49" x2="563.29" y2="108.46" stroke="#842829" stroke-width="2.63" stroke-linecap="round" clip-path="url(#cclip)"/>
<line x1="563.29" y1="108.46" x2="564.04" y2="107.43" stroke="#852829" stroke-width="2.62" stroke-linecap="round" clip-path="url(#cclip)"/>
<line x1="564.04" y1="107.43" x2="564.78" y2="106.4" stroke="#862829" stroke-width="2.62" stroke-linecap="round" clip-path="url(#cclip)"/>
<line x1="564.78" y1="106.4" x2="565.52" y2="105.37" stroke="#872829" stroke-width="2.62" stroke-linecap="round" clip-path="url(#cclip)"/>
<line x1="565.52" y1="105.37" x2="566.26" y2="104.35" stroke="#882828" stroke-width="2.61" stroke-linecap="round" clip-path="url(#cclip)"/>
<line x1="566.26" y1="104.35" x2="566.99" y2="103.32" stroke="#892828" stroke-width="2.61" stroke-linecap="round" clip-path="url(#cclip)"/>
<line x1="566.99" y1="103.32" x2="567.72" y2="102.29" stroke="#8a2828" stroke-width="2.6" stroke-linecap="round" clip-path="url(#cclip)"/>
<line x1="567.72" y1="102.29" x2="568.45" y2="101.26" stroke="#8c2828" stroke-width="2.6" stroke-linecap="round" clip-path="url(#cclip)"/>
<line x1="568.45" y1="101.26" x2="569.17" y2="100.23" stroke="#8d2728" stroke-width="2.59" stroke-linecap="round" clip-path="url(#cclip)"/>
<line x1="569.17" y1="100.23" x2="569.88" y2="99.2" stroke="#8e2728" stroke-width="2.59" stroke-linecap="round" clip-path="url(#cclip)"/>
<line x1="569.88" y1="99.2" x2="570.59" y2="98.17" stroke="#902728" stroke-width="2.58" stroke-linecap="round" clip-path="url(#cclip)"/>
<line x1="570.59" y1="98.17" x2="571.3" y2="97.14" stroke="#912727" stroke-width="2.58" stroke-linecap="round" clip-path="url(#cclip)"/>
<line x1="571.3" y1="97.14" x2="572" y2="96.11" stroke="#932727" stroke-width="2.57" stroke-linecap="round" clip-path="url(#cclip)"/>
<line x1="572" y1="96.11" x2="572.69" y2="95.08" stroke="#952727" stroke-width="2.57" stroke-linecap="round" clip-path="url(#cclip)"/>
<line x1="572.69" y1="95.08" x2="573.38" y2="94.05" stroke="#972727" stroke-width="2.56" stroke-linecap="round" clip-path="url(#cclip)"/>
<line x1="573.38" y1="94.05" x2="574.06" y2="93.03" stroke="#992726" stroke-width="2.55" stroke-linecap="round" clip-path="url(#cclip)"/>
<line x1="574.06" y1="93.03" x2="574.73" y2="92" stroke="#9b2626" stroke-width="2.54" stroke-linecap="round" clip-path="url(#cclip)"/>
<line x1="574.73" y1="92" x2="575.4" y2="90.97" stroke="#9d2626" stroke-width="2.54" stroke-linecap="round" clip-path="url(#cclip)"/>
<line x1="575.4" y1="90.97" x2="576.05" y2="89.94" stroke="#9f2626" stroke-width="2.53" stroke-linecap="round" clip-path="url(#cclip)"/>
<line x1="576.05" y1="89.94" x2="576.7" y2="88.91" stroke="#a22625" stroke-width="2.52" stroke-linecap="round" clip-path="url(#cclip)"/>
<line x1="576.7" y1="88.91" x2="577.34" y2="87.88" stroke="#a42625" stroke-width="2.51" stroke-linecap="round" clip-path="url(#cclip)"/>
<line x1="577.34" y1="87.88" x2="577.98" y2="86.85" stroke="#a72625" stroke-width="2.5" stroke-linecap="round" clip-path="url(#cclip)"/>
<line x1="577.98" y1="86.85" x2="578.6" y2="85.82" stroke="#aa2524" stroke-width="2.49" stroke-linecap="round" clip-path="url(#cclip)"/>
<line x1="578.6" y1="85.82" x2="579.21" y2="84.79" stroke="#ac2524" stroke-width="2.48" stroke-linecap="round" clip-path="url(#cclip)"/>
<line x1="579.21" y1="84.79" x2="579.81" y2="83.76" stroke="#af2524" stroke-width="2.47" stroke-linecap="round" clip-path="url(#cclip)"/>
<line x1="579.81" y1="83.76" x2="580.41" y2="82.73" stroke="#b32523" stroke-width="2.46" stroke-linecap="round" clip-path="url(#cclip)"/>
<line x1="580.41" y1="82.73" x2="580.99" y2="81.7" stroke="#b62523" stroke-width="2.45" stroke-linecap="round" clip-path="url(#cclip)"/>
<line x1="580.99" y1="81.7" x2="581.56" y2="80.67" stroke="#b92422" stroke-width="2.43" stroke-linecap="round" clip-path="url(#cclip)"/>
<line x1="581.56" y1="80.67" x2="582.11" y2="79.65" stroke="#bd2422" stroke-width="2.42" stroke-linecap="round" clip-path="url(#cclip)"/>
<line x1="582.11" y1="79.65" x2="582.66" y2="78.62" stroke="#c02422" stroke-width="2.41" stroke-linecap="round" clip-path="url(#cclip)"/>
<line x1="582.66" y1="78.62" x2="583.19" y2="77.59" stroke="#c42421" stroke-width="2.4" stroke-linecap="round" clip-path="url(#cclip)"/>
<line x1="583.19" y1="77.59" x2="583.72" y2="76.56" stroke="#c72321" stroke-width="2.38" stroke-linecap="round" clip-path="url(#cclip)"/>
<line x1="583.72" y1="76.56" x2="584.22" y2="75.53" stroke="#cb2320" stroke-width="2.37" stroke-linecap="round" clip-path="url(#cclip)"/>
<line x1="584.22" y1="75.53" x2="584.72" y2="74.5" stroke="#cf2320" stroke-width="2.36" stroke-linecap="round" clip-path="url(#cclip)"/>
<line x1="584.72" y1="74.5" x2="585.2" y2="73.47" stroke="#d2231f" stroke-width="2.34" stroke-linecap="round" clip-path="url(#cclip)"/>
<line x1="585.2" y1="73.47" x2="585.68" y2="72.44" stroke="#d6221f" stroke-width="2.33" stroke-linecap="round" clip-path="url(#cclip)"/>
<line x1="585.68" y1="72.44" x2="586.13" y2="71.41" stroke="#da221e" stroke-width="2.32" stroke-linecap="round" clip-path="url(#cclip)"/>
<line x1="586.13" y1="71.41" x2="586.58" y2="70.38" stroke="#dd221e" stroke-width="2.3" stroke-linecap="round" clip-path="url(#cclip)"/>
<line x1="586.58" y1="70.38" x2="587.02" y2="69.35" stroke="#e1221e" stroke-width="2.29" stroke-linecap="round" clip-path="url(#cclip)"/>
<line x1="587.02" y1="69.35" x2="587.44" y2="68.32" stroke="#e2221e" stroke-width="2.28" stroke-linecap="round" clip-path="url(#cclip)"/>
<line x1="587.44" y1="68.32" x2="587.85" y2="67.3" stroke="#e2221e" stroke-width="2.27" stroke-linecap="round" clip-path="url(#cclip)"/>
<line x1="587.85" y1="67.3" x2="588.25" y2="66.27" stroke="#e2221e" stroke-width="2.25" stroke-linecap="round" clip-path="url(#cclip)"/>
<line x1="588.25" y1="66.27" x2="588.64" y2="65.24" stroke="#e2221e" stroke-width="2.24" stroke-linecap="round" clip-path="url(#cclip)"/>
<line x1="588.64" y1="65.24" x2="589.01" y2="64.21" stroke="#e2221e" stroke-width="2.23" stroke-linecap="round" clip-path="url(#cclip)"/>
<line x1="589.01" y1="64.21" x2="589.38" y2="63.18" stroke="#e2221e" stroke-width="2.22" stroke-linecap="round" clip-path="url(#cclip)"/>
<line x1="589.38" y1="63.18" x2="589.74" y2="62.15" stroke="#e2221e" stroke-width="2.21" stroke-linecap="round" clip-path="url(#cclip)"/>
<line x1="589.74" y1="62.15" x2="590.09" y2="61.12" stroke="#e2221e" stroke-width="2.2" stroke-linecap="round" clip-path="url(#cclip)"/>
<line x1="590.09" y1="61.12" x2="590.43" y2="60.09" stroke="#e2221e" stroke-width="2.19" stroke-linecap="round" clip-path="url(#cclip)"/>
<line x1="590.43" y1="60.09" x2="590.76" y2="59.06" stroke="#e2221e" stroke-width="2.18" stroke-linecap="round" clip-path="url(#cclip)"/>
<line x1="590.76" y1="59.06" x2="591.08" y2="58.03" stroke="#e2221e" stroke-width="2.17" stroke-linecap="round" clip-path="url(#cclip)"/>
<line x1="591.08" y1="58.03" x2="591.39" y2="57" stroke="#e2221e" stroke-width="2.16" stroke-linecap="round" clip-path="url(#cclip)"/>
<line x1="591.39" y1="57" x2="591.7" y2="55.98" stroke="#e2221e" stroke-width="2.16" stroke-linecap="round" clip-path="url(#cclip)"/>
<line x1="591.7" y1="55.98" x2="592" y2="54.95" stroke="#e2221e" stroke-width="2.15" stroke-linecap="round" clip-path="url(#cclip)"/>
<line x1="592" y1="54.95" x2="592.29" y2="53.92" stroke="#e2221e" stroke-width="2.14" stroke-linecap="round" clip-path="url(#cclip)"/>
<line x1="592.29" y1="53.92" x2="592.58" y2="52.89" stroke="#e2221e" stroke-width="2.13" stroke-linecap="round" clip-path="url(#cclip)"/>
<line x1="592.58" y1="52.89" x2="592.86" y2="51.86" stroke="#e2221e" stroke-width="2.13" stroke-linecap="round" clip-path="url(#cclip)"/>
<line x1="592.86" y1="51.86" x2="593.13" y2="50.83" stroke="#e2221e" stroke-width="2.12" stroke-linecap="round" clip-path="url(#cclip)"/>
<line x1="593.13" y1="50.83" x2="593.4" y2="49.8" stroke="#e2221e" stroke-width="2.12" stroke-linecap="round" clip-path="url(#cclip)"/>
<line x1="593.4" y1="49.8" x2="593.67" y2="48.77" stroke="#e2221e" stroke-width="2.11" stroke-linecap="round" clip-path="url(#cclip)"/>
<line x1="593.67" y1="48.77" x2="593.93" y2="47.74" stroke="#e2221e" stroke-width="2.11" stroke-linecap="round" clip-path="url(#cclip)"/>
<line x1="593.93" y1="47.74" x2="594.18" y2="46.71" stroke="#e2221e" stroke-width="2.1" stroke-linecap="round" clip-path="url(#cclip)"/>
<line x1="594.18" y1="46.71" x2="594.43" y2="45.68" stroke="#e2221e" stroke-width="2.1" stroke-linecap="round" clip-path="url(#cclip)"/>
<line x1="594.43" y1="45.68" x2="594.68" y2="44.65" stroke="#e2221e" stroke-width="2.09" stroke-linecap="round" clip-path="url(#cclip)"/>
<line x1="594.68" y1="44.65" x2="594.92" y2="43.62" stroke="#e2221e" stroke-width="2.09" stroke-linecap="round" clip-path="url(#cclip)"/>
<line x1="594.92" y1="43.62" x2="595.16" y2="42.6" stroke="#e2221e" stroke-width="2.08" stroke-linecap="round" clip-path="url(#cclip)"/>
<line x1="595.16" y1="42.6" x2="595.4" y2="41.57" stroke="#e2221e" stroke-width="2.08" stroke-linecap="round" clip-path="url(#cclip)"/>
<line x1="595.4" y1="41.57" x2="595.63" y2="40.54" stroke="#e2221e" stroke-width="2.08" stroke-linecap="round" clip-path="url(#cclip)"/>
<line x1="595.63" y1="40.54" x2="595.86" y2="39.51" stroke="#e2221e" stroke-width="2.07" stroke-linecap="round" clip-path="url(#cclip)"/>
<line x1="595.86" y1="39.51" x2="596.09" y2="38.48" stroke="#e2221e" stroke-width="2.07" stroke-linecap="round" clip-path="url(#cclip)"/>
<line x1="596.09" y1="38.48" x2="596.31" y2="37.45" stroke="#e2221e" stroke-width="2.07" stroke-linecap="round" clip-path="url(#cclip)"/>
<line x1="596.31" y1="37.45" x2="596.54" y2="36.42" stroke="#e2221e" stroke-width="2.07" stroke-linecap="round" clip-path="url(#cclip)"/>
<line x1="596.54" y1="36.42" x2="596.76" y2="35.39" stroke="#e2221e" stroke-width="2.06" stroke-linecap="round" clip-path="url(#cclip)"/>
<line x1="596.76" y1="35.39" x2="596.97" y2="34.36" stroke="#e2221e" stroke-width="2.06" stroke-linecap="round" clip-path="url(#cclip)"/>
<line x1="596.97" y1="34.36" x2="597.19" y2="33.33" stroke="#e2221e" stroke-width="2.06" stroke-linecap="round" clip-path="url(#cclip)"/>
<line x1="597.19" y1="33.33" x2="597.4" y2="32.3" stroke="#e2221e" stroke-width="2.06" stroke-linecap="round" clip-path="url(#cclip)"/>
<line x1="597.4" y1="32.3" x2="597.61" y2="31.28" stroke="#e2221e" stroke-width="2.05" stroke-linecap="round" clip-path="url(#cclip)"/>
<line x1="597.61" y1="31.28" x2="597.82" y2="30.25" stroke="#e2221e" stroke-width="2.05" stroke-linecap="round" clip-path="url(#cclip)"/>
<line x1="597.82" y1="30.25" x2="598.03" y2="29.22" stroke="#e2221e" stroke-width="2.05" stroke-linecap="round" clip-path="url(#cclip)"/>
<line x1="598.03" y1="29.22" x2="598.23" y2="28.19" stroke="#e2221e" stroke-width="2.05" stroke-linecap="round" clip-path="url(#cclip)"/>
<line x1="598.23" y1="28.19" x2="598.44" y2="27.16" stroke="#e2221e" stroke-width="2.05" stroke-linecap="round" clip-path="url(#cclip)"/>
<line x1="598.44" y1="27.16" x2="598.64" y2="26.13" stroke="#e2221e" stroke-width="2.05" stroke-linecap="round" clip-path="url(#cclip)"/>
<line x1="598.64" y1="26.13" x2="598.84" y2="25.1" stroke="#e2221e" stroke-width="2.04" stroke-linecap="round" clip-path="url(#cclip)"/>
<line x1="598.84" y1="25.1" x2="599.04" y2="24.07" stroke="#e2221e" stroke-width="2.04" stroke-linecap="round" clip-path="url(#cclip)"/>
<line x1="599.04" y1="24.07" x2="599.24" y2="23.04" stroke="#e2221e" stroke-width="2.04" stroke-linecap="round" clip-path="url(#cclip)"/>
<line x1="599.24" y1="23.04" x2="599.43" y2="22.01" stroke="#e2221e" stroke-width="2.04" stroke-linecap="round" clip-path="url(#cclip)"/>
<line x1="599.43" y1="22.01" x2="599.63" y2="20.98" stroke="#e2221e" stroke-width="2.04" stroke-linecap="round" clip-path="url(#cclip)"/>
<line x1="599.63" y1="20.98" x2="599.82" y2="19.95" stroke="#e2221e" stroke-width="2.04" stroke-linecap="round" clip-path="url(#cclip)"/>
<line x1="599.82" y1="19.95" x2="600.02" y2="18.92" stroke="#e2221e" stroke-width="2.04" stroke-linecap="round" clip-path="url(#cclip)"/>
<line x1="600.02" y1="18.92" x2="600.21" y2="17.9" stroke="#e2221e" stroke-width="2.03" stroke-linecap="round" clip-path="url(#cclip)"/>
<line x1="600.21" y1="17.9" x2="600.4" y2="16.87" stroke="#e2221e" stroke-width="2.03" stroke-linecap="round" clip-path="url(#cclip)"/>
<line x1="600.4" y1="16.87" x2="600.59" y2="15.84" stroke="#e2221e" stroke-width="2.03" stroke-linecap="round" clip-path="url(#cclip)"/>
<line x1="600.59" y1="15.84" x2="600.78" y2="14.81" stroke="#e2221e" stroke-width="2.03" stroke-linecap="round" clip-path="url(#cclip)"/>
<line x1="600.78" y1="14.81" x2="600.97" y2="13.78" stroke="#e2221e" stroke-width="2.03" stroke-linecap="round" clip-path="url(#cclip)"/>
<line x1="600.97" y1="13.78" x2="601.16" y2="12.75" stroke="#e2221e" stroke-width="2.03" stroke-linecap="round" clip-path="url(#cclip)"/>
<line x1="587.02" y1="69.35" x2="587.44" y2="68.32" stroke="#f4c040" stroke-width="1" stroke-linecap="round" opacity="0.01" clip-path="url(#cclip)"/>
<line x1="587.44" y1="68.32" x2="587.85" y2="67.3" stroke="#f4c040" stroke-width="1" stroke-linecap="round" opacity="0.07" clip-path="url(#cclip)"/>
<line x1="587.85" y1="67.3" x2="588.25" y2="66.27" stroke="#f4c040" stroke-width="1" stroke-linecap="round" opacity="0.12" clip-path="url(#cclip)"/>
<line x1="588.25" y1="66.27" x2="588.64" y2="65.24" stroke="#f4c040" stroke-width="1" stroke-linecap="round" opacity="0.18" clip-path="url(#cclip)"/>
<line x1="588.64" y1="65.24" x2="589.01" y2="64.21" stroke="#f4c040" stroke-width="1" stroke-linecap="round" opacity="0.23" clip-path="url(#cclip)"/>
<line x1="589.01" y1="64.21" x2="589.38" y2="63.18" stroke="#f4c040" stroke-width="1" stroke-linecap="round" opacity="0.29" clip-path="url(#cclip)"/>
<line x1="589.38" y1="63.18" x2="589.74" y2="62.15" stroke="#f4c040" stroke-width="1" stroke-linecap="round" opacity="0.33" clip-path="url(#cclip)"/>
<line x1="589.74" y1="62.15" x2="590.09" y2="61.12" stroke="#f4c040" stroke-width="1" stroke-linecap="round" opacity="0.38" clip-path="url(#cclip)"/>
<line x1="590.09" y1="61.12" x2="590.43" y2="60.09" stroke="#f4c040" stroke-width="1" stroke-linecap="round" opacity="0.43" clip-path="url(#cclip)"/>
<line x1="590.43" y1="60.09" x2="590.76" y2="59.06" stroke="#f4c040" stroke-width="1" stroke-linecap="round" opacity="0.47" clip-path="url(#cclip)"/>
<line x1="590.76" y1="59.06" x2="591.08" y2="58.03" stroke="#f4c040" stroke-width="1" stroke-linecap="round" opacity="0.51" clip-path="url(#cclip)"/>
<line x1="591.08" y1="58.03" x2="591.39" y2="57" stroke="#f4c040" stroke-width="1" stroke-linecap="round" opacity="0.55" clip-path="url(#cclip)"/>
<line x1="591.39" y1="57" x2="591.7" y2="55.98" stroke="#f4c040" stroke-width="1" stroke-linecap="round" opacity="0.59" clip-path="url(#cclip)"/>
<line x1="591.7" y1="55.98" x2="592" y2="54.95" stroke="#f4c040" stroke-width="1" stroke-linecap="round" opacity="0.63" clip-path="url(#cclip)"/>
<line x1="592" y1="54.95" x2="592.29" y2="53.92" stroke="#f4c040" stroke-width="1" stroke-linecap="round" opacity="0.66" clip-path="url(#cclip)"/>
<line x1="592.29" y1="53.92" x2="592.58" y2="52.89" stroke="#f4c040" stroke-width="1" stroke-linecap="round" opacity="0.69" clip-path="url(#cclip)"/>
<line x1="592.58" y1="52.89" x2="592.86" y2="51.86" stroke="#f4c040" stroke-width="1" stroke-linecap="round" opacity="0.72" clip-path="url(#cclip)"/>
<line x1="592.86" y1="51.86" x2="593.13" y2="50.83" stroke="#f4c040" stroke-width="1" stroke-linecap="round" opacity="0.75" clip-path="url(#cclip)"/>
<line x1="593.13" y1="50.83" x2="593.4" y2="49.8" stroke="#f4c040" stroke-width="1" stroke-linecap="round" opacity="0.78" clip-path="url(#cclip)"/>
<line x1="593.4" y1="49.8" x2="593.67" y2="48.77" stroke="#f4c040" stroke-width="1" stroke-linecap="round" opacity="0.8" clip-path="url(#cclip)"/>
<line x1="593.67" y1="48.77" x2="593.93" y2="47.74" stroke="#f4c040" stroke-width="1" stroke-linecap="round" opacity="0.83" clip-path="url(#cclip)"/>
<line x1="593.93" y1="47.74" x2="594.18" y2="46.71" stroke="#f4c040" stroke-width="1" stroke-linecap="round" opacity="0.85" clip-path="url(#cclip)"/>
<line x1="594.18" y1="46.71" x2="594.43" y2="45.68" stroke="#f4c040" stroke-width="1" stroke-linecap="round" opacity="0.87" clip-path="url(#cclip)"/>
<line x1="594.43" y1="45.68" x2="594.68" y2="44.65" stroke="#f4c040" stroke-width="1" stroke-linecap="round" opacity="0.89" clip-path="url(#cclip)"/>
<line x1="594.68" y1="44.65" x2="594.92" y2="43.62" stroke="#f4c040" stroke-width="1" stroke-linecap="round" opacity="0.91" clip-path="url(#cclip)"/>
<line x1="594.92" y1="43.62" x2="595.16" y2="42.6" stroke="#f4c040" stroke-width="1" stroke-linecap="round" opacity="0.93" clip-path="url(#cclip)"/>
<line x1="595.16" y1="42.6" x2="595.4" y2="41.57" stroke="#f4c040" stroke-width="1" stroke-linecap="round" opacity="0.95" clip-path="url(#cclip)"/>
<line x1="595.4" y1="41.57" x2="595.63" y2="40.54" stroke="#f4c040" stroke-width="1" stroke-linecap="round" opacity="0.96" clip-path="url(#cclip)"/>
<line x1="595.63" y1="40.54" x2="595.86" y2="39.51" stroke="#f4c040" stroke-width="1" stroke-linecap="round" opacity="0.98" clip-path="url(#cclip)"/>
<line x1="595.86" y1="39.51" x2="596.09" y2="38.48" stroke="#f4c040" stroke-width="1" stroke-linecap="round" opacity="0.99" clip-path="url(#cclip)"/>
<line x1="596.09" y1="38.48" x2="596.31" y2="37.45" stroke="#f4c040" stroke-width="1" stroke-linecap="round" opacity="1" clip-path="url(#cclip)"/>
<line x1="596.31" y1="37.45" x2="596.54" y2="36.42" stroke="#f4c040" stroke-width="1" stroke-linecap="round" opacity="1" clip-path="url(#cclip)"/>
<line x1="596.54" y1="36.42" x2="596.76" y2="35.39" stroke="#f4c040" stroke-width="1" stroke-linecap="round" opacity="1" clip-path="url(#cclip)"/>
<line x1="596.76" y1="35.39" x2="596.97" y2="34.36" stroke="#f4c040" stroke-width="1" stroke-linecap="round" opacity="1" clip-path="url(#cclip)"/>
<line x1="596.97" y1="34.36" x2="597.19" y2="33.33" stroke="#f4c040" stroke-width="1" stroke-linecap="round" opacity="1" clip-path="url(#cclip)"/>
<line x1="597.19" y1="33.33" x2="597.4" y2="32.3" stroke="#f4c040" stroke-width="1" stroke-linecap="round" opacity="1" clip-path="url(#cclip)"/>
<line x1="597.4" y1="32.3" x2="597.61" y2="31.28" stroke="#f4c040" stroke-width="1" stroke-linecap="round" opacity="1" clip-path="url(#cclip)"/>
<line x1="597.61" y1="31.28" x2="597.82" y2="30.25" stroke="#f4c040" stroke-width="1" stroke-linecap="round" opacity="1" clip-path="url(#cclip)"/>
<line x1="597.82" y1="30.25" x2="598.03" y2="29.22" stroke="#f4c040" stroke-width="1" stroke-linecap="round" opacity="1" clip-path="url(#cclip)"/>
<line x1="598.03" y1="29.22" x2="598.23" y2="28.19" stroke="#f4c040" stroke-width="1" stroke-linecap="round" opacity="1" clip-path="url(#cclip)"/>
<line x1="598.23" y1="28.19" x2="598.44" y2="27.16" stroke="#f4c040" stroke-width="1" stroke-linecap="round" opacity="1" clip-path="url(#cclip)"/>
<line x1="598.44" y1="27.16" x2="598.64" y2="26.13" stroke="#f4c040" stroke-width="1" stroke-linecap="round" opacity="1" clip-path="url(#cclip)"/>
<line x1="598.64" y1="26.13" x2="598.84" y2="25.1" stroke="#f4c040" stroke-width="1" stroke-linecap="round" opacity="1" clip-path="url(#cclip)"/>
<line x1="598.84" y1="25.1" x2="599.04" y2="24.07" stroke="#f4c040" stroke-width="1" stroke-linecap="round" opacity="1" clip-path="url(#cclip)"/>
<line x1="599.04" y1="24.07" x2="599.24" y2="23.04" stroke="#f4c040" stroke-width="1" stroke-linecap="round" opacity="1" clip-path="url(#cclip)"/>
<line x1="599.24" y1="23.04" x2="599.43" y2="22.01" stroke="#f4c040" stroke-width="1" stroke-linecap="round" opacity="1" clip-path="url(#cclip)"/>
<line x1="599.43" y1="22.01" x2="599.63" y2="20.98" stroke="#f4c040" stroke-width="1" stroke-linecap="round" opacity="1" clip-path="url(#cclip)"/>
<line x1="599.63" y1="20.98" x2="599.82" y2="19.95" stroke="#f4c040" stroke-width="1" stroke-linecap="round" opacity="1" clip-path="url(#cclip)"/>
<line x1="599.82" y1="19.95" x2="600.02" y2="18.92" stroke="#f4c040" stroke-width="1" stroke-linecap="round" opacity="1" clip-path="url(#cclip)"/>
<line x1="600.02" y1="18.92" x2="600.21" y2="17.9" stroke="#f4c040" stroke-width="1" stroke-linecap="round" opacity="1" clip-path="url(#cclip)"/>
<line x1="600.21" y1="17.9" x2="600.4" y2="16.87" stroke="#f4c040" stroke-width="1" stroke-linecap="round" opacity="1" clip-path="url(#cclip)"/>
<line x1="600.4" y1="16.87" x2="600.59" y2="15.84" stroke="#f4c040" stroke-width="1" stroke-linecap="round" opacity="1" clip-path="url(#cclip)"/>
<line x1="600.59" y1="15.84" x2="600.78" y2="14.81" stroke="#f4c040" stroke-width="1" stroke-linecap="round" opacity="1" clip-path="url(#cclip)"/>
<line x1="600.78" y1="14.81" x2="600.97" y2="13.78" stroke="#f4c040" stroke-width="1" stroke-linecap="round" opacity="1" clip-path="url(#cclip)"/>
<line x1="600.97" y1="13.78" x2="601.16" y2="12.75" stroke="#f4c040" stroke-width="1" stroke-linecap="round" opacity="1" clip-path="url(#cclip)"/>
<line x1="588.5" y1="74.9" x2="600.5" y2="74.9" stroke="#ffffff" stroke-width="0.9"/>
<polygon points="586.3,74.9 589.6,73.2 589.6,76.6" fill="#fff"/>
<polygon points="602.6,74.9 599.3,73.2 599.3,76.6" fill="#fff"/>
<text x="595.5" y="69.43" font-size="7.3" text-anchor="middle" fill="#ffffff" stroke="#ffffff" stroke-width="0.1">3.3 GHz</text>
<line x1="536.7" y1="131.5" x2="540.3" y2="131.5" stroke="#3a3a3a" stroke-width="0.9"/>
<text x="533.1" y="134.13" font-size="7.3" text-anchor="end" fill="#2a2526" stroke="#2a2526" stroke-width="0.1">8</text>
<line x1="536.7" y1="112.5" x2="540.3" y2="112.5" stroke="#3a3a3a" stroke-width="0.9"/>
<text x="533.1" y="115.13" font-size="7.3" text-anchor="end" fill="#2a2526" stroke="#2a2526" stroke-width="0.1">8.2</text>
<line x1="536.7" y1="93.5" x2="540.3" y2="93.5" stroke="#3a3a3a" stroke-width="0.9"/>
<text x="533.1" y="96.13" font-size="7.3" text-anchor="end" fill="#2a2526" stroke="#2a2526" stroke-width="0.1">8.4</text>
<line x1="536.7" y1="74.5" x2="540.3" y2="74.5" stroke="#3a3a3a" stroke-width="0.9"/>
<text x="533.1" y="77.13" font-size="7.3" text-anchor="end" fill="#2a2526" stroke="#2a2526" stroke-width="0.1">8.6</text>
<line x1="536.7" y1="55.5" x2="540.3" y2="55.5" stroke="#3a3a3a" stroke-width="0.9"/>
<text x="533.1" y="58.13" font-size="7.3" text-anchor="end" fill="#2a2526" stroke="#2a2526" stroke-width="0.1">8.8</text>
<line x1="536.7" y1="36.5" x2="540.3" y2="36.5" stroke="#3a3a3a" stroke-width="0.9"/>
<text x="533.1" y="39.13" font-size="7.3" text-anchor="end" fill="#2a2526" stroke="#2a2526" stroke-width="0.1">9</text>
<line x1="536.7" y1="17.5" x2="540.3" y2="17.5" stroke="#3a3a3a" stroke-width="0.9"/>
<text x="533.1" y="20.13" font-size="7.3" text-anchor="end" fill="#2a2526" stroke="#2a2526" stroke-width="0.1">9.2</text>
<line x1="540.8" y1="132.1" x2="540.8" y2="135.7" stroke="#3a3a3a" stroke-width="0.9"/>
<text x="540.8" y="146.43" font-size="7.3" text-anchor="middle" fill="#2a2526" stroke="#2a2526" stroke-width="0.1">−10</text>
<line x1="567.1" y1="132.1" x2="567.1" y2="135.7" stroke="#3a3a3a" stroke-width="0.9"/>
<text x="567.1" y="146.43" font-size="7.3" text-anchor="middle" fill="#2a2526" stroke="#2a2526" stroke-width="0.1">−5</text>
<line x1="593.4" y1="132.1" x2="593.4" y2="135.7" stroke="#3a3a3a" stroke-width="0.9"/>
<text x="593.4" y="146.43" font-size="7.3" text-anchor="middle" fill="#2a2526" stroke="#2a2526" stroke-width="0.1">0</text>
<line x1="619.7" y1="132.1" x2="619.7" y2="135.7" stroke="#3a3a3a" stroke-width="0.9"/>
<text x="619.7" y="146.43" font-size="7.3" text-anchor="middle" fill="#2a2526" stroke="#2a2526" stroke-width="0.1">5</text>
<line x1="646" y1="132.1" x2="646" y2="135.7" stroke="#3a3a3a" stroke-width="0.9"/>
<text x="646" y="146.43" font-size="7.3" text-anchor="middle" fill="#2a2526" stroke="#2a2526" stroke-width="0.1">10</text>
<text x="593.3" y="158.93" font-size="7.3" text-anchor="middle" fill="#2a2526" stroke="#2a2526" stroke-width="0.1">Relative frequency (GHz)</text>
<text x="511.5" y="77.6" font-size="7.3" fill="#2a2526" text-anchor="middle" transform="rotate(-90 511.5 75)"><tspan font-style="italic">V</tspan><tspan font-size="5" dy="1.8">RC</tspan><tspan dy="-1.8"> (V)</tspan></text>
<linearGradient id="cbar" x1="0" y1="1" x2="0" y2="0">
<stop offset="0" stop-color="#efedbf"/>
<stop offset="0.1" stop-color="#d8dc7c"/>
<stop offset="0.2" stop-color="#b8d040"/>
<stop offset="0.3" stop-color="#e8b030"/>
<stop offset="0.4" stop-color="#f07a24"/>
<stop offset="0.5" stop-color="#ea3a24"/>
<stop offset="0.6" stop-color="#d82a26"/>
<stop offset="0.7" stop-color="#8a2426"/>
<stop offset="0.78" stop-color="#4f4a4b"/>
<stop offset="1" stop-color="#4c4c4e"/>
</linearGradient>
<rect x="648.3" y="17.3" width="6.4" height="114.8" fill="url(#cbar)" stroke="#5a5a5a" stroke-width="0.6"/>
<line x1="654.7" y1="131.5" x2="657.5" y2="131.5" stroke="#3a3a3a" stroke-width="0.9"/>
<text x="659.8" y="134.13" font-size="7.3" text-anchor="start" fill="#2a2526" stroke="#2a2526" stroke-width="0.1">0</text>
<line x1="654.7" y1="108.8" x2="657.5" y2="108.8" stroke="#3a3a3a" stroke-width="0.9"/>
<text x="659.8" y="111.43" font-size="7.3" text-anchor="start" fill="#2a2526" stroke="#2a2526" stroke-width="0.1">0.2</text>
<line x1="654.7" y1="86.1" x2="657.5" y2="86.1" stroke="#3a3a3a" stroke-width="0.9"/>
<text x="659.8" y="88.73" font-size="7.3" text-anchor="start" fill="#2a2526" stroke="#2a2526" stroke-width="0.1">0.4</text>
<line x1="654.7" y1="63.4" x2="657.5" y2="63.4" stroke="#3a3a3a" stroke-width="0.9"/>
<text x="659.8" y="66.03" font-size="7.3" text-anchor="start" fill="#2a2526" stroke="#2a2526" stroke-width="0.1">0.6</text>
<line x1="654.7" y1="40.7" x2="657.5" y2="40.7" stroke="#3a3a3a" stroke-width="0.9"/>
<text x="659.8" y="43.33" font-size="7.3" text-anchor="start" fill="#2a2526" stroke="#2a2526" stroke-width="0.1">0.8</text>
<line x1="654.7" y1="18" x2="657.5" y2="18" stroke="#3a3a3a" stroke-width="0.9"/>
<text x="659.8" y="20.63" font-size="7.3" text-anchor="start" fill="#2a2526" stroke="#2a2526" stroke-width="0.1">1</text>
<text x="681.5" y="77.13" font-size="7.3" text-anchor="middle" fill="#2a2526" stroke="#2a2526" stroke-width="0.1" transform="rotate(90 681.5 74.5)">Transmission (through port)</text>
<text x="122" y="190.87" font-size="10.2" text-anchor="middle" fill="#2a2526" stroke="#2a2526" stroke-width="0">Soliton initializing</text>
<rect x="35.4" y="197.4" width="29.3" height="31.8" rx="6.5" ry="6.5" fill="#f9c795" stroke="#2b3990" stroke-width="1.7"/>
<text x="50.05" y="205.59" font-size="7.2" text-anchor="middle" fill="#2a2526" stroke="#2a2526" stroke-width="0.1">Pump</text>
<rect x="38.8" y="210" width="23.3" height="14.2" fill="#ebe9d3" stroke="#c8283a" stroke-width="0.9"/>
<line x1="49" y1="217.1" x2="62.1" y2="217.1" stroke="#c8283a" stroke-width="0.8"/>
<line x1="47.2" y1="217.1" x2="51" y2="217.1" stroke="#b82030" stroke-width="0.75"/>
<line x1="47.04" y1="217.7" x2="50.33" y2="219.6" stroke="#b82030" stroke-width="0.75"/>
<line x1="46.6" y1="218.14" x2="48.5" y2="221.43" stroke="#b82030" stroke-width="0.75"/>
<line x1="46" y1="218.3" x2="46" y2="222.1" stroke="#b82030" stroke-width="0.75"/>
<line x1="45.4" y1="218.14" x2="43.5" y2="221.43" stroke="#b82030" stroke-width="0.75"/>
<line x1="44.96" y1="217.7" x2="41.67" y2="219.6" stroke="#b82030" stroke-width="0.75"/>
<line x1="44.8" y1="217.1" x2="41" y2="217.1" stroke="#b82030" stroke-width="0.75"/>
<line x1="44.96" y1="216.5" x2="41.67" y2="214.6" stroke="#b82030" stroke-width="0.75"/>
<line x1="45.4" y1="216.06" x2="43.5" y2="212.77" stroke="#b82030" stroke-width="0.75"/>
<line x1="46" y1="215.9" x2="46" y2="212.1" stroke="#b82030" stroke-width="0.75"/>
<line x1="46.6" y1="216.06" x2="48.5" y2="212.77" stroke="#b82030" stroke-width="0.75"/>
<line x1="47.04" y1="216.5" x2="50.33" y2="214.6" stroke="#b82030" stroke-width="0.75"/>
<circle cx="46" cy="217.1" r="2.1" fill="#b82030" stroke="none" stroke-width="1"/>
<line x1="69.2" y1="213.8" x2="82.6" y2="213.8" stroke="#2b3990" stroke-width="1.2" stroke-dasharray="7,5"/>
<polygon points="87.6,213.8 81.6,210.8 83.2,213.8 81.6,216.8" fill="#2b3990"/>
<circle cx="147.9" cy="245.1" r="12.7" fill="#fff" stroke="#8d8f8f" stroke-width="3.2"/>
<text x="147.9" y="247.55" font-size="6.8" text-anchor="middle" fill="#2a2526" stroke="#2a2526" stroke-width="0.1">RC</text>
<circle cx="101.5" cy="269.6" r="12.7" fill="#fff" stroke="#8d8f8f" stroke-width="3.2"/>
<text x="101.5" y="272.05" font-size="6.8" text-anchor="middle" fill="#2a2526" stroke="#2a2526" stroke-width="0.1">NR</text>
<line x1="173.7" y1="202.8" x2="184" y2="202.8" stroke="#2b3990" stroke-width="2"/>
<line x1="173.7" y1="212" x2="184" y2="212" stroke="#9a9c9c" stroke-width="2"/>
<text x="188.8" y="205.32" font-size="7" text-anchor="start" fill="#2a2526" stroke="#2a2526" stroke-width="0.1">Tuning</text>
<text x="188.8" y="214.52" font-size="7" text-anchor="start" fill="#2a2526" stroke="#2a2526" stroke-width="0.1">Fixed</text>
<line x1="33.1" y1="292.6" x2="202.9" y2="292.6" stroke="#231f20" stroke-width="1.1"/>
<polygon points="206.9,292.6 200.9,290.1 200.9,295.1" fill="#231f20"/>
<text x="206.9" y="301.93" font-size="7.3" text-anchor="end" fill="#2a2526" stroke="#2a2526" stroke-width="0.1">Frequency</text>
<text x="352.6" y="190.47" font-size="10.2" text-anchor="middle" fill="#2a2526" stroke="#2a2526" stroke-width="0">Swapping</text>
<rect x="292.1" y="197.7" width="29.6" height="31" rx="6.5" ry="6.5" fill="#f9c795" stroke="#8d8f8f" stroke-width="1.7"/>
<text x="306.9" y="205.89" font-size="7.2" text-anchor="middle" fill="#2a2526" stroke="#2a2526" stroke-width="0.1">Pump</text>
<rect x="295.5" y="210.3" width="23.6" height="14.2" fill="#ebe9d3" stroke="#c8283a" stroke-width="0.9"/>
<line x1="305.7" y1="217.4" x2="319.1" y2="217.4" stroke="#c8283a" stroke-width="0.8"/>
<line x1="303.9" y1="217.4" x2="307.7" y2="217.4" stroke="#b82030" stroke-width="0.75"/>
<line x1="303.74" y1="218" x2="307.03" y2="219.9" stroke="#b82030" stroke-width="0.75"/>
<line x1="303.3" y1="218.44" x2="305.2" y2="221.73" stroke="#b82030" stroke-width="0.75"/>
<line x1="302.7" y1="218.6" x2="302.7" y2="222.4" stroke="#b82030" stroke-width="0.75"/>
<line x1="302.1" y1="218.44" x2="300.2" y2="221.73" stroke="#b82030" stroke-width="0.75"/>
<line x1="301.66" y1="218" x2="298.37" y2="219.9" stroke="#b82030" stroke-width="0.75"/>
<line x1="301.5" y1="217.4" x2="297.7" y2="217.4" stroke="#b82030" stroke-width="0.75"/>
<line x1="301.66" y1="216.8" x2="298.37" y2="214.9" stroke="#b82030" stroke-width="0.75"/>
<line x1="302.1" y1="216.36" x2="300.2" y2="213.07" stroke="#b82030" stroke-width="0.75"/>
<line x1="302.7" y1="216.2" x2="302.7" y2="212.4" stroke="#b82030" stroke-width="0.75"/>
<line x1="303.3" y1="216.36" x2="305.2" y2="213.07" stroke="#b82030" stroke-width="0.75"/>
<line x1="303.74" y1="216.8" x2="307.03" y2="214.9" stroke="#b82030" stroke-width="0.75"/>
<circle cx="302.7" cy="217.4" r="2.1" fill="#b82030" stroke="none" stroke-width="1"/>
<circle cx="382.5" cy="244.8" r="13.6" fill="none" stroke="#2b3990" stroke-width="1.6"/>
<circle cx="382.5" cy="244.8" r="11.4" fill="#fff" stroke="#8d8f8f" stroke-width="2.9"/>
<text x="382.5" y="247.25" font-size="6.8" text-anchor="middle" fill="#2a2526" stroke="#2a2526" stroke-width="0.1">RC</text>
<circle cx="336.4" cy="269.7" r="13.6" fill="none" stroke="#2b3990" stroke-width="1.6"/>
<circle cx="336.4" cy="269.7" r="11.4" fill="#fff" stroke="#8d8f8f" stroke-width="2.9"/>
<text x="336.4" y="272.15" font-size="6.8" text-anchor="middle" fill="#2a2526" stroke="#2a2526" stroke-width="0.1">NR</text>
<line x1="368.5" y1="244.8" x2="312.2" y2="244.8" stroke="#2b3990" stroke-width="1.2" stroke-dasharray="5,4.2"/>
<polygon points="307.2,244.8 313.2,241.8 311.6,244.8 313.2,247.8" fill="#2b3990"/>
<line x1="350.5" y1="269.7" x2="366.1" y2="269.7" stroke="#2b3990" stroke-width="1.2" stroke-dasharray="5,4.2"/>
<polygon points="371.1,269.7 365.1,266.7 366.7,269.7 365.1,272.7" fill="#2b3990"/>
<line x1="262.6" y1="292.6" x2="430.8" y2="292.6" stroke="#231f20" stroke-width="1.1"/>
<polygon points="434.8,292.6 428.8,290.1 428.8,295.1" fill="#231f20"/>
<text x="434.8" y="301.93" font-size="7.3" text-anchor="end" fill="#2a2526" stroke="#2a2526" stroke-width="0.1">Frequency</text>
<text x="580.1" y="190.47" font-size="10.2" text-anchor="middle" fill="#2a2526" stroke="#2a2526" stroke-width="0">Soliton broadening</text>
<rect x="516.8" y="197.6" width="28.8" height="31.5" rx="6.5" ry="6.5" fill="#f9c795" stroke="#8d8f8f" stroke-width="1.7"/>
<text x="531.2" y="205.79" font-size="7.2" text-anchor="middle" fill="#2a2526" stroke="#2a2526" stroke-width="0.1">Pump</text>
<rect x="520.2" y="210.2" width="22.8" height="14.2" fill="#ebe9d3" stroke="#c8283a" stroke-width="0.9"/>
<line x1="530.4" y1="217.3" x2="543" y2="217.3" stroke="#c8283a" stroke-width="0.8"/>
<line x1="528.6" y1="217.3" x2="532.4" y2="217.3" stroke="#b82030" stroke-width="0.75"/>
<line x1="528.44" y1="217.9" x2="531.73" y2="219.8" stroke="#b82030" stroke-width="0.75"/>
<line x1="528" y1="218.34" x2="529.9" y2="221.63" stroke="#b82030" stroke-width="0.75"/>
<line x1="527.4" y1="218.5" x2="527.4" y2="222.3" stroke="#b82030" stroke-width="0.75"/>
<line x1="526.8" y1="218.34" x2="524.9" y2="221.63" stroke="#b82030" stroke-width="0.75"/>
<line x1="526.36" y1="217.9" x2="523.07" y2="219.8" stroke="#b82030" stroke-width="0.75"/>
<line x1="526.2" y1="217.3" x2="522.4" y2="217.3" stroke="#b82030" stroke-width="0.75"/>
<line x1="526.36" y1="216.7" x2="523.07" y2="214.8" stroke="#b82030" stroke-width="0.75"/>
<line x1="526.8" y1="216.26" x2="524.9" y2="212.97" stroke="#b82030" stroke-width="0.75"/>
<line x1="527.4" y1="216.1" x2="527.4" y2="212.3" stroke="#b82030" stroke-width="0.75"/>
<line x1="528" y1="216.26" x2="529.9" y2="212.97" stroke="#b82030" stroke-width="0.75"/>
<line x1="528.44" y1="216.7" x2="531.73" y2="214.8" stroke="#b82030" stroke-width="0.75"/>
<circle cx="527.4" cy="217.3" r="2.1" fill="#b82030" stroke="none" stroke-width="1"/>
<circle cx="531.6" cy="244.9" r="12.7" fill="#fff" stroke="#8d8f8f" stroke-width="3.2"/>
<text x="531.6" y="247.35" font-size="6.8" text-anchor="middle" fill="#2a2526" stroke="#2a2526" stroke-width="0.1">RC</text>
<circle cx="569.8" cy="269.7" r="13.6" fill="none" stroke="#2b3990" stroke-width="1.6"/>
<circle cx="569.8" cy="269.7" r="11.4" fill="#fff" stroke="#8d8f8f" stroke-width="2.9"/>
<text x="569.8" y="272.15" font-size="6.8" text-anchor="middle" fill="#2a2526" stroke="#2a2526" stroke-width="0.1">NR</text>
<line x1="584.3" y1="269.7" x2="659.9" y2="269.7" stroke="#2b3990" stroke-width="1.2" stroke-dasharray="5,4.2"/>
<polygon points="664.9,269.7 658.9,266.7 660.5,269.7 658.9,272.7" fill="#2b3990"/>
<line x1="487.6" y1="292.6" x2="659.2" y2="292.6" stroke="#231f20" stroke-width="1.1"/>
<polygon points="663.2,292.6 657.2,290.1 657.2,295.1" fill="#231f20"/>
<text x="663.2" y="301.93" font-size="7.3" text-anchor="end" fill="#2a2526" stroke="#2a2526" stroke-width="0.1">Frequency</text>
<polygon points="89.9,386 89.9,386.56 90.15,382.72 90.4,381.56 90.65,381.51 90.9,380.57 91.16,378.44 91.41,378 91.66,379.06 91.91,375.68 92.16,375.44 92.42,376.55 92.67,373.11 92.92,372.14 93.17,371.83 93.42,371.08 93.68,368.38 93.93,367.09 94.18,370.05 94.43,365.82 94.68,366.38 94.93,366.4 95.19,365.44 95.44,364.77 95.69,360.51 95.94,360.09 96.19,358.87 96.45,360.59 96.7,358.6 96.95,359.64 97.2,356.9 97.45,357.26 97.71,355.65 97.96,356.06 98.21,351.78 98.46,350.57 98.71,349.83 98.97,351.15 99.22,347.76 99.47,349.52 99.72,349.02 99.97,348.89 100.23,347.3 100.48,346.61 100.73,344.7 100.98,344.42 101.23,341.5 101.49,341.69 101.74,339.58 101.99,339.65 102.24,338.78 102.49,337.93 102.74,339.1 103,335.8 103.25,337 103.5,337.09 103.75,333.75 104,334.51 104.26,334.4 104.51,335.51 104.76,334.9 105.01,333.32 105.26,331.28 105.52,332.8 105.77,333.55 106.02,332.71 106.27,332.99 106.52,331.56 106.78,330.79 107.03,332.17 107.28,332.38 107.53,333.77 107.78,330.25 108.04,332.39 108.29,331.22 108.54,333.97 108.79,333.84 109.04,332.02 109.29,332.84 109.55,336.8 109.8,333.86 110.05,335.71 110.3,337.11 110.55,335.96 110.81,336.01 111.06,340.21 111.31,339.23 111.56,338.25 111.81,340.21 112.07,341.77 112.32,344.28 112.57,344.3 112.82,343.42 113.07,346.32 113.33,345.04 113.58,347.96 113.83,347.06 114.08,348.39 114.33,348.28 114.59,350.27 114.84,348.35 115.09,349.42 115.34,352.83 115.59,350.64 115.84,354.07 116.1,354.05 116.35,355.14 116.6,354.89 116.85,357.45 117.1,357.76 117.36,357.12 117.61,357.41 117.86,359.34 118.11,358.16 118.36,359.48 118.62,362.6 118.87,362.97 119.12,362.8 119.37,364.54 119.62,363.36 119.88,366.09 120.13,366.44 120.38,367.35 120.63,368.3 120.88,365.5 121.14,366.79 121.39,366.6 121.64,370.26 121.89,368.59 122.14,369.55 122.39,371.35 122.65,372.8 122.9,372.97 123.15,370.82 123.4,371.39 123.65,374.46 123.91,373.15 124.16,376.88 124.41,376.14 124.66,377.44 124.91,375.13 125.17,377.67 125.42,376.78 125.67,380.32 125.92,377.27 126.17,378.54 126.43,380.76 126.68,378.8 126.93,382.19 127.18,382.53 127.43,384.38 127.69,381.3 127.94,381.9 128.19,385.57 128.44,383.47 128.47,386" fill="#4f95d4"/>
<line x1="90.64" y1="380.47" x2="90.64" y2="385.83" stroke="#4f95d4" stroke-width="0.55"/>
<line x1="90.98" y1="379.68" x2="90.98" y2="384.5" stroke="#4f95d4" stroke-width="0.55"/>
<line x1="91.28" y1="374.56" x2="91.28" y2="383.37" stroke="#4f95d4" stroke-width="0.55"/>
<line x1="91.55" y1="377.85" x2="91.55" y2="382.33" stroke="#4f95d4" stroke-width="0.55"/>
<line x1="91.78" y1="377.35" x2="91.78" y2="381.48" stroke="#4f95d4" stroke-width="0.55"/>
<line x1="91.97" y1="375.61" x2="91.97" y2="380.76" stroke="#4f95d4" stroke-width="0.55"/>
<line x1="92.13" y1="376.36" x2="92.13" y2="380.13" stroke="#4f95d4" stroke-width="0.55"/>
<line x1="92.35" y1="368.63" x2="92.35" y2="379.31" stroke="#4f95d4" stroke-width="0.55"/>
<line x1="92.7" y1="374.18" x2="92.7" y2="377.99" stroke="#4f95d4" stroke-width="0.55"/>
<line x1="92.87" y1="370.83" x2="92.87" y2="377.34" stroke="#4f95d4" stroke-width="0.55"/>
<line x1="93.11" y1="372.01" x2="93.11" y2="376.43" stroke="#4f95d4" stroke-width="0.55"/>
<line x1="93.39" y1="367.65" x2="93.39" y2="375.38" stroke="#4f95d4" stroke-width="0.55"/>
<line x1="93.71" y1="369.88" x2="93.71" y2="374.16" stroke="#4f95d4" stroke-width="0.55"/>
<line x1="94.03" y1="367.96" x2="94.03" y2="372.95" stroke="#4f95d4" stroke-width="0.55"/>
<line x1="94.26" y1="367.27" x2="94.26" y2="372.09" stroke="#4f95d4" stroke-width="0.55"/>
<line x1="94.46" y1="367.4" x2="94.46" y2="371.33" stroke="#4f95d4" stroke-width="0.55"/>
<line x1="94.79" y1="364.92" x2="94.79" y2="370.08" stroke="#4f95d4" stroke-width="0.55"/>
<line x1="95.02" y1="361.48" x2="95.02" y2="369.21" stroke="#4f95d4" stroke-width="0.55"/>
<line x1="95.22" y1="360.53" x2="95.22" y2="368.46" stroke="#4f95d4" stroke-width="0.55"/>
<line x1="95.57" y1="363.11" x2="95.57" y2="367.13" stroke="#4f95d4" stroke-width="0.55"/>
<line x1="95.88" y1="356.04" x2="95.88" y2="365.93" stroke="#4f95d4" stroke-width="0.55"/>
<line x1="96.04" y1="361.42" x2="96.04" y2="365.33" stroke="#4f95d4" stroke-width="0.55"/>
<line x1="96.23" y1="356.36" x2="96.23" y2="364.61" stroke="#4f95d4" stroke-width="0.55"/>
<line x1="96.57" y1="357.08" x2="96.57" y2="363.33" stroke="#4f95d4" stroke-width="0.55"/>
<line x1="96.81" y1="357.16" x2="96.81" y2="362.43" stroke="#4f95d4" stroke-width="0.55"/>
<line x1="97.15" y1="357.04" x2="97.15" y2="361.18" stroke="#4f95d4" stroke-width="0.55"/>
<line x1="97.43" y1="355.9" x2="97.43" y2="360.18" stroke="#4f95d4" stroke-width="0.55"/>
<line x1="97.61" y1="355.5" x2="97.61" y2="359.55" stroke="#4f95d4" stroke-width="0.55"/>
<line x1="97.88" y1="353.89" x2="97.88" y2="358.59" stroke="#4f95d4" stroke-width="0.55"/>
<line x1="98.04" y1="352.63" x2="98.04" y2="358.06" stroke="#4f95d4" stroke-width="0.55"/>
<line x1="98.22" y1="353.28" x2="98.22" y2="357.42" stroke="#4f95d4" stroke-width="0.55"/>
<line x1="98.53" y1="352.46" x2="98.53" y2="356.37" stroke="#4f95d4" stroke-width="0.55"/>
<line x1="98.71" y1="350.4" x2="98.71" y2="355.8" stroke="#4f95d4" stroke-width="0.55"/>
<line x1="98.99" y1="351.12" x2="98.99" y2="354.86" stroke="#4f95d4" stroke-width="0.55"/>
<line x1="99.28" y1="349.32" x2="99.28" y2="353.89" stroke="#4f95d4" stroke-width="0.55"/>
<line x1="99.49" y1="347.13" x2="99.49" y2="353.18" stroke="#4f95d4" stroke-width="0.55"/>
<line x1="99.76" y1="347.46" x2="99.76" y2="352.29" stroke="#4f95d4" stroke-width="0.55"/>
<line x1="100.08" y1="344.63" x2="100.08" y2="351.21" stroke="#4f95d4" stroke-width="0.55"/>
<line x1="100.27" y1="345.74" x2="100.27" y2="350.57" stroke="#4f95d4" stroke-width="0.55"/>
<line x1="100.42" y1="343.32" x2="100.42" y2="350.06" stroke="#4f95d4" stroke-width="0.55"/>
<line x1="100.74" y1="342.46" x2="100.74" y2="349.01" stroke="#4f95d4" stroke-width="0.55"/>
<line x1="100.99" y1="344.55" x2="100.99" y2="348.19" stroke="#4f95d4" stroke-width="0.55"/>
<line x1="101.25" y1="338.94" x2="101.25" y2="347.32" stroke="#4f95d4" stroke-width="0.55"/>
<line x1="101.42" y1="341.25" x2="101.42" y2="346.75" stroke="#4f95d4" stroke-width="0.55"/>
<line x1="101.67" y1="341.95" x2="101.67" y2="345.91" stroke="#4f95d4" stroke-width="0.55"/>
<line x1="101.93" y1="340.61" x2="101.93" y2="345.05" stroke="#4f95d4" stroke-width="0.55"/>
<line x1="102.18" y1="334.27" x2="102.18" y2="344.24" stroke="#4f95d4" stroke-width="0.55"/>
<line x1="102.37" y1="339.05" x2="102.37" y2="343.65" stroke="#4f95d4" stroke-width="0.55"/>
<line x1="102.71" y1="338.78" x2="102.71" y2="342.62" stroke="#4f95d4" stroke-width="0.55"/>
<line x1="103.05" y1="335.21" x2="103.05" y2="341.69" stroke="#4f95d4" stroke-width="0.55"/>
<line x1="103.33" y1="336.28" x2="103.33" y2="340.99" stroke="#4f95d4" stroke-width="0.55"/>
<line x1="103.64" y1="335.89" x2="103.64" y2="340.25" stroke="#4f95d4" stroke-width="0.55"/>
<line x1="103.96" y1="334.68" x2="103.96" y2="339.54" stroke="#4f95d4" stroke-width="0.55"/>
<line x1="104.15" y1="333.83" x2="104.15" y2="339.14" stroke="#4f95d4" stroke-width="0.55"/>
<line x1="104.38" y1="334.82" x2="104.38" y2="338.69" stroke="#4f95d4" stroke-width="0.55"/>
<line x1="104.68" y1="334.23" x2="104.68" y2="338.15" stroke="#4f95d4" stroke-width="0.55"/>
<line x1="104.95" y1="333.85" x2="104.95" y2="337.71" stroke="#4f95d4" stroke-width="0.55"/>
<line x1="105.27" y1="333.04" x2="105.27" y2="337.24" stroke="#4f95d4" stroke-width="0.55"/>
<line x1="105.53" y1="331.7" x2="105.53" y2="336.89" stroke="#4f95d4" stroke-width="0.55"/>
<line x1="105.76" y1="330.96" x2="105.76" y2="336.61" stroke="#4f95d4" stroke-width="0.55"/>
<line x1="106.05" y1="331.13" x2="106.05" y2="336.35" stroke="#4f95d4" stroke-width="0.55"/>
<line x1="106.2" y1="330.17" x2="106.2" y2="336.26" stroke="#4f95d4" stroke-width="0.55"/>
<line x1="106.4" y1="327.71" x2="106.4" y2="336.19" stroke="#4f95d4" stroke-width="0.55"/>
<line x1="106.64" y1="331.81" x2="106.64" y2="336.13" stroke="#4f95d4" stroke-width="0.55"/>
<line x1="106.82" y1="332.04" x2="106.82" y2="336.11" stroke="#4f95d4" stroke-width="0.55"/>
<line x1="106.99" y1="330.65" x2="106.99" y2="336.12" stroke="#4f95d4" stroke-width="0.55"/>
<line x1="107.15" y1="332.1" x2="107.15" y2="336.15" stroke="#4f95d4" stroke-width="0.55"/>
<line x1="107.45" y1="329.38" x2="107.45" y2="336.25" stroke="#4f95d4" stroke-width="0.55"/>
<line x1="107.61" y1="331.16" x2="107.61" y2="336.33" stroke="#4f95d4" stroke-width="0.55"/>
<line x1="107.95" y1="332.04" x2="107.95" y2="336.62" stroke="#4f95d4" stroke-width="0.55"/>
<line x1="108.3" y1="328.53" x2="108.3" y2="337.02" stroke="#4f95d4" stroke-width="0.55"/>
<line x1="108.49" y1="329.72" x2="108.49" y2="337.28" stroke="#4f95d4" stroke-width="0.55"/>
<line x1="108.84" y1="332.95" x2="108.84" y2="337.81" stroke="#4f95d4" stroke-width="0.55"/>
<line x1="109.15" y1="334.25" x2="109.15" y2="338.37" stroke="#4f95d4" stroke-width="0.55"/>
<line x1="109.37" y1="334.21" x2="109.37" y2="338.81" stroke="#4f95d4" stroke-width="0.55"/>
<line x1="109.7" y1="334.1" x2="109.7" y2="339.55" stroke="#4f95d4" stroke-width="0.55"/>
<line x1="109.88" y1="332.58" x2="109.88" y2="339.97" stroke="#4f95d4" stroke-width="0.55"/>
<line x1="110.07" y1="335.71" x2="110.07" y2="340.42" stroke="#4f95d4" stroke-width="0.55"/>
<line x1="110.29" y1="337.26" x2="110.29" y2="340.93" stroke="#4f95d4" stroke-width="0.55"/>
<line x1="110.47" y1="332.57" x2="110.47" y2="341.38" stroke="#4f95d4" stroke-width="0.55"/>
<line x1="110.8" y1="337.53" x2="110.8" y2="342.24" stroke="#4f95d4" stroke-width="0.55"/>
<line x1="110.98" y1="336.33" x2="110.98" y2="342.7" stroke="#4f95d4" stroke-width="0.55"/>
<line x1="111.2" y1="335.74" x2="111.2" y2="343.32" stroke="#4f95d4" stroke-width="0.55"/>
<line x1="111.47" y1="339.71" x2="111.47" y2="344.09" stroke="#4f95d4" stroke-width="0.55"/>
<line x1="111.82" y1="339.49" x2="111.82" y2="345.14" stroke="#4f95d4" stroke-width="0.55"/>
<line x1="112.13" y1="340.35" x2="112.13" y2="346.11" stroke="#4f95d4" stroke-width="0.55"/>
<line x1="112.4" y1="341.11" x2="112.4" y2="346.98" stroke="#4f95d4" stroke-width="0.55"/>
<line x1="112.64" y1="343.05" x2="112.64" y2="347.74" stroke="#4f95d4" stroke-width="0.55"/>
<line x1="112.8" y1="342.94" x2="112.8" y2="348.25" stroke="#4f95d4" stroke-width="0.55"/>
<line x1="113.08" y1="340.81" x2="113.08" y2="349.14" stroke="#4f95d4" stroke-width="0.55"/>
<line x1="113.37" y1="346.4" x2="113.37" y2="350.03" stroke="#4f95d4" stroke-width="0.55"/>
<line x1="113.53" y1="346.15" x2="113.53" y2="350.52" stroke="#4f95d4" stroke-width="0.55"/>
<line x1="113.76" y1="343.89" x2="113.76" y2="351.26" stroke="#4f95d4" stroke-width="0.55"/>
<line x1="113.94" y1="346.97" x2="113.94" y2="351.8" stroke="#4f95d4" stroke-width="0.55"/>
<line x1="114.1" y1="348.65" x2="114.1" y2="352.28" stroke="#4f95d4" stroke-width="0.55"/>
<line x1="114.27" y1="348.53" x2="114.27" y2="352.8" stroke="#4f95d4" stroke-width="0.55"/>
<line x1="114.54" y1="349.02" x2="114.54" y2="353.62" stroke="#4f95d4" stroke-width="0.55"/>
<line x1="114.82" y1="350.31" x2="114.82" y2="354.46" stroke="#4f95d4" stroke-width="0.55"/>
<line x1="115.16" y1="351.57" x2="115.16" y2="355.49" stroke="#4f95d4" stroke-width="0.55"/>
<line x1="115.33" y1="347.85" x2="115.33" y2="356.01" stroke="#4f95d4" stroke-width="0.55"/>
<line x1="115.63" y1="352.46" x2="115.63" y2="356.95" stroke="#4f95d4" stroke-width="0.55"/>
<line x1="115.79" y1="350.83" x2="115.79" y2="357.41" stroke="#4f95d4" stroke-width="0.55"/>
<line x1="116.01" y1="352.12" x2="116.01" y2="358.08" stroke="#4f95d4" stroke-width="0.55"/>
<line x1="116.35" y1="354.01" x2="116.35" y2="359.12" stroke="#4f95d4" stroke-width="0.55"/>
<line x1="116.68" y1="356.31" x2="116.68" y2="360.13" stroke="#4f95d4" stroke-width="0.55"/>
<line x1="116.92" y1="357.1" x2="116.92" y2="360.83" stroke="#4f95d4" stroke-width="0.55"/>
<line x1="117.22" y1="358.09" x2="117.22" y2="361.77" stroke="#4f95d4" stroke-width="0.55"/>
<line x1="117.56" y1="358.94" x2="117.56" y2="362.8" stroke="#4f95d4" stroke-width="0.55"/>
<line x1="117.84" y1="357.32" x2="117.84" y2="363.6" stroke="#4f95d4" stroke-width="0.55"/>
<line x1="118.15" y1="360.43" x2="118.15" y2="364.5" stroke="#4f95d4" stroke-width="0.55"/>
<line x1="118.37" y1="361.11" x2="118.37" y2="365.09" stroke="#4f95d4" stroke-width="0.55"/>
<line x1="118.67" y1="362.26" x2="118.67" y2="365.92" stroke="#4f95d4" stroke-width="0.55"/>
<line x1="119" y1="360.32" x2="119" y2="366.77" stroke="#4f95d4" stroke-width="0.55"/>
<line x1="119.3" y1="363.07" x2="119.3" y2="367.53" stroke="#4f95d4" stroke-width="0.55"/>
<line x1="119.47" y1="364.26" x2="119.47" y2="367.96" stroke="#4f95d4" stroke-width="0.55"/>
<line x1="119.69" y1="360.62" x2="119.69" y2="368.49" stroke="#4f95d4" stroke-width="0.55"/>
<line x1="120.01" y1="364.11" x2="120.01" y2="369.28" stroke="#4f95d4" stroke-width="0.55"/>
<line x1="120.27" y1="363.5" x2="120.27" y2="369.93" stroke="#4f95d4" stroke-width="0.55"/>
<line x1="120.53" y1="365.54" x2="120.53" y2="370.56" stroke="#4f95d4" stroke-width="0.55"/>
<line x1="120.87" y1="366.22" x2="120.87" y2="371.4" stroke="#4f95d4" stroke-width="0.55"/>
<line x1="121.03" y1="367.66" x2="121.03" y2="371.78" stroke="#4f95d4" stroke-width="0.55"/>
<line x1="121.33" y1="363.15" x2="121.33" y2="372.52" stroke="#4f95d4" stroke-width="0.55"/>
<line x1="121.55" y1="367.07" x2="121.55" y2="373.05" stroke="#4f95d4" stroke-width="0.55"/>
<line x1="121.75" y1="365.25" x2="121.75" y2="373.54" stroke="#4f95d4" stroke-width="0.55"/>
<line x1="122.04" y1="365.32" x2="122.04" y2="374.26" stroke="#4f95d4" stroke-width="0.55"/>
<line x1="122.28" y1="366.46" x2="122.28" y2="374.86" stroke="#4f95d4" stroke-width="0.55"/>
<line x1="122.61" y1="369.45" x2="122.61" y2="375.66" stroke="#4f95d4" stroke-width="0.55"/>
<line x1="122.87" y1="372.15" x2="122.87" y2="376.31" stroke="#4f95d4" stroke-width="0.55"/>
<line x1="123.15" y1="372.77" x2="123.15" y2="376.98" stroke="#4f95d4" stroke-width="0.55"/>
<line x1="123.33" y1="373.76" x2="123.33" y2="377.41" stroke="#4f95d4" stroke-width="0.55"/>
<line x1="123.67" y1="374.19" x2="123.67" y2="378.21" stroke="#4f95d4" stroke-width="0.55"/>
<line x1="123.82" y1="374.72" x2="123.82" y2="378.57" stroke="#4f95d4" stroke-width="0.55"/>
<line x1="124.1" y1="371.41" x2="124.1" y2="379.22" stroke="#4f95d4" stroke-width="0.55"/>
<line x1="124.27" y1="374.22" x2="124.27" y2="379.6" stroke="#4f95d4" stroke-width="0.55"/>
<line x1="124.58" y1="370.73" x2="124.58" y2="380.31" stroke="#4f95d4" stroke-width="0.55"/>
<line x1="124.75" y1="370.59" x2="124.75" y2="380.68" stroke="#4f95d4" stroke-width="0.55"/>
<line x1="125.09" y1="377.64" x2="125.09" y2="381.44" stroke="#4f95d4" stroke-width="0.55"/>
<line x1="125.26" y1="377.96" x2="125.26" y2="381.83" stroke="#4f95d4" stroke-width="0.55"/>
<line x1="125.58" y1="374.63" x2="125.58" y2="382.53" stroke="#4f95d4" stroke-width="0.55"/>
<line x1="125.86" y1="379.29" x2="125.86" y2="383.14" stroke="#4f95d4" stroke-width="0.55"/>
<line x1="126.03" y1="378.63" x2="126.03" y2="383.52" stroke="#4f95d4" stroke-width="0.55"/>
<line x1="126.24" y1="380.31" x2="126.24" y2="384" stroke="#4f95d4" stroke-width="0.55"/>
<line x1="126.45" y1="379.18" x2="126.45" y2="384.45" stroke="#4f95d4" stroke-width="0.55"/>
<line x1="126.67" y1="378.81" x2="126.67" y2="384.95" stroke="#4f95d4" stroke-width="0.55"/>
<line x1="126.92" y1="377.6" x2="126.92" y2="385.52" stroke="#4f95d4" stroke-width="0.55"/>
<line x1="127.08" y1="380.77" x2="127.08" y2="385.87" stroke="#4f95d4" stroke-width="0.55"/>
<rect x="106.14" y="319.21" width="0.9" height="66.79" fill="#4f95d4"/>
<rect x="107.29" y="328" width="0.8" height="58" fill="#4f95d4"/>
<rect x="104.77" y="329.81" width="0.8" height="56.19" fill="#4f95d4"/>
<rect x="108.39" y="331.62" width="0.8" height="54.38" fill="#4f95d4"/>
<polygon points="89.9,386 89.9,388.47 90.15,387.41 90.4,384.89 90.65,384.91 90.9,383.37 91.16,382.54 91.41,382.56 91.66,381.29 91.91,380.24 92.16,379.81 92.42,378.4 92.67,376.67 92.92,376.45 93.17,375.18 93.42,374.85 93.68,373.75 93.93,371.46 94.18,371.37 94.43,369.49 94.68,369.81 94.93,367.63 95.19,367.33 95.44,366.48 95.69,366.24 95.94,364.6 96.19,363.29 96.45,361.99 96.7,362.62 96.95,360.85 97.2,360.27 97.45,359.29 97.71,357.5 97.96,356.79 98.21,357.07 98.46,355.14 98.71,355.07 98.97,354.04 99.22,352.84 99.47,352.29 99.72,352.14 99.97,349.88 100.23,348.85 100.48,349.23 100.73,348.52 100.98,346.29 101.23,345.71 101.49,344.69 101.74,344.51 101.99,344.57 102.24,343.04 102.49,341.91 102.74,342.26 103,341.43 103.25,340.38 103.5,339.05 103.75,339.34 104,338.72 104.26,338.04 104.51,337.98 104.76,336.19 105.01,337.03 105.26,335.25 105.52,336.47 105.77,336.25 106.02,336.03 106.27,335.58 106.52,334.36 106.78,335.18 107.03,334.99 107.28,335.39 107.53,335.61 107.78,336.05 108.04,335.39 108.29,336.43 108.54,336.71 108.79,336.75 109.04,336.46 109.29,338.44 109.55,337.73 109.8,338.74 110.05,340.19 110.3,339.11 110.55,339.86 110.81,341.61 111.06,342.46 111.31,342.21 111.56,342.87 111.81,343.55 112.07,344.72 112.32,345.11 112.57,345.67 112.82,347.58 113.07,348.47 113.33,348.45 113.58,350.37 113.83,350.22 114.08,351.65 114.33,352.8 114.59,352.75 114.84,353.18 115.09,354.25 115.34,355.43 115.59,355.36 115.84,357.36 116.1,356.95 116.35,358.47 116.6,358.02 116.85,360.4 117.1,360.46 117.36,361.63 117.61,361.4 117.86,363.11 118.11,363.64 118.36,364.48 118.62,364.21 118.87,364.53 119.12,366.57 119.37,366.78 119.62,366.44 119.88,368.06 120.13,367.63 120.38,369.92 120.63,369.92 120.88,369.65 121.14,370.06 121.39,371.89 121.64,371.41 121.89,373.66 122.14,373.65 122.39,374.36 122.65,375.57 122.9,375.55 123.15,376.57 123.4,377.03 123.65,376.51 123.91,377.8 124.16,378.31 124.41,378.07 124.66,379.65 124.91,380.81 125.17,379.96 125.42,381.91 125.67,382.43 125.92,382.64 126.17,382.04 126.43,383.73 126.68,383.67 126.93,384.05 127.18,385.41 127.43,385.11 127.69,385.98 127.94,387.79 128.19,387.75 128.44,387.72 128.47,386" fill="#0a5ba8"/>
<rect x="34" y="311.5" width="173.2" height="74.5" fill="none" stroke="#3a3a3a" stroke-width="0.9"/>
<line x1="30.2" y1="313.5" x2="34" y2="313.5" stroke="#3a3a3a" stroke-width="0.9"/>
<text x="26.5" y="316.13" font-size="7.3" text-anchor="end" fill="#2a2526" stroke="#2a2526" stroke-width="0.1">20</text>
<line x1="30.2" y1="331.62" x2="34" y2="331.62" stroke="#3a3a3a" stroke-width="0.9"/>
<text x="26.5" y="334.25" font-size="7.3" text-anchor="end" fill="#2a2526" stroke="#2a2526" stroke-width="0.1">0</text>
<line x1="30.2" y1="349.74" x2="34" y2="349.74" stroke="#3a3a3a" stroke-width="0.9"/>
<text x="26.5" y="352.37" font-size="7.3" text-anchor="end" fill="#2a2526" stroke="#2a2526" stroke-width="0.1">−20</text>
<line x1="30.2" y1="367.86" x2="34" y2="367.86" stroke="#3a3a3a" stroke-width="0.9"/>
<text x="26.5" y="370.49" font-size="7.3" text-anchor="end" fill="#2a2526" stroke="#2a2526" stroke-width="0.1">−40</text>
<line x1="30.2" y1="385.98" x2="34" y2="385.98" stroke="#3a3a3a" stroke-width="0.9"/>
<text x="26.5" y="388.61" font-size="7.3" text-anchor="end" fill="#2a2526" stroke="#2a2526" stroke-width="0.1">−60</text>
<line x1="49.75" y1="386" x2="49.75" y2="389.8" stroke="#3a3a3a" stroke-width="0.9"/>
<text x="49.75" y="400.83" font-size="7.3" text-anchor="middle" fill="#2a2526" stroke="#2a2526" stroke-width="0.1">1200</text>
<line x1="81.24" y1="386" x2="81.24" y2="389.8" stroke="#3a3a3a" stroke-width="0.9"/>
<text x="81.24" y="400.83" font-size="7.3" text-anchor="middle" fill="#2a2526" stroke="#2a2526" stroke-width="0.1">1400</text>
<line x1="112.73" y1="386" x2="112.73" y2="389.8" stroke="#3a3a3a" stroke-width="0.9"/>
<text x="112.73" y="400.83" font-size="7.3" text-anchor="middle" fill="#2a2526" stroke="#2a2526" stroke-width="0.1">1600</text>
<line x1="144.22" y1="386" x2="144.22" y2="389.8" stroke="#3a3a3a" stroke-width="0.9"/>
<text x="144.22" y="400.83" font-size="7.3" text-anchor="middle" fill="#2a2526" stroke="#2a2526" stroke-width="0.1">1800</text>
<line x1="175.71" y1="386" x2="175.71" y2="389.8" stroke="#3a3a3a" stroke-width="0.9"/>
<text x="175.71" y="400.83" font-size="7.3" text-anchor="middle" fill="#2a2526" stroke="#2a2526" stroke-width="0.1">2000</text>
<line x1="207.2" y1="386" x2="207.2" y2="389.8" stroke="#3a3a3a" stroke-width="0.9"/>
<text x="207.2" y="400.83" font-size="7.3" text-anchor="middle" fill="#2a2526" stroke="#2a2526" stroke-width="0.1">2200</text>
<text x="120.6" y="412.93" font-size="7.3" text-anchor="middle" fill="#2a2526" stroke="#2a2526" stroke-width="0.1">Wavelength (nm)</text>
<text x="205.8" y="318.93" font-size="7.3" text-anchor="end" fill="#2a2526" stroke="#2a2526" stroke-width="0.1">Pump-NR detuning = 0.34 GHz</text>
<polygon points="307.36,386 307.36,387.21 307.61,386.49 307.86,385.38 308.12,384.49 308.37,381.88 308.62,382.47 308.87,381.26 309.12,381.54 309.38,380.25 309.63,379.52 309.88,380.84 310.13,379.68 310.38,378.88 310.63,378.05 310.89,377.59 311.14,378.19 311.39,377.63 311.64,377.92 311.89,377.61 312.15,376.56 312.4,375.52 312.65,374.12 312.9,374.7 313.15,373.52 313.41,373.32 313.66,373.64 313.91,371.91 314.16,371.7 314.41,371.98 314.67,371.18 314.92,371 315.17,371.09 315.42,370.47 315.67,368.68 315.93,369.9 316.18,369.02 316.43,368.97 316.68,368.44 316.93,366.65 317.18,365.62 317.44,366.57 317.69,365.11 317.94,365.53 318.19,364.57 318.44,365.16 318.7,365.12 318.95,362.81 319.2,363.06 319.45,362.69 319.7,361.88 319.96,361.09 320.21,361.38 320.46,360.14 320.71,360.95 320.96,358.9 321.22,358.88 321.47,358.47 321.72,358.56 321.97,357.67 322.22,357.72 322.48,356.54 322.73,357.21 322.98,356.24 323.23,355.9 323.48,354.16 323.73,354.37 323.99,354.56 324.24,352.67 324.49,353.26 324.74,352.21 324.99,352.39 325.25,351.8 325.5,350.99 325.75,350.72 326,350.54 326.25,349.04 326.51,349.22 326.76,348.57 327.01,347.58 327.26,349.41 327.51,348.13 327.77,347.66 328.02,346.55 328.27,347.19 328.52,345.61 328.77,345.73 329.03,344.66 329.28,345.71 329.53,343.94 329.78,343.9 330.03,343.69 330.29,342.32 330.54,342.72 330.79,341.9 331.04,342.78 331.29,342.81 331.54,341.86 331.8,341.7 332.05,341.38 332.3,341.2 332.55,339.57 332.8,340.44 333.06,339.59 333.31,338.94 333.56,339.36 333.81,337.93 334.06,337.8 334.32,337.76 334.57,337.53 334.82,339.45 335.07,337.1 335.32,338.79 335.58,339.05 335.83,337.53 336.08,339.12 336.33,337.65 336.58,337.52 336.84,337.93 337.09,337.79 337.34,338.07 337.59,338.58 337.84,338.62 338.09,338.45 338.35,340.14 338.6,340.63 338.85,341.02 339.1,341.01 339.35,340.36 339.61,339.68 339.86,339.96 340.11,340.87 340.36,340.42 340.61,341.68 340.87,342.75 341.12,341.6 341.37,341.89 341.62,341.34 341.87,341.45 342.13,342.92 342.38,344.28 342.63,343.09 342.88,342.79 343.13,344.01 343.39,343.58 343.64,344.69 343.89,344.7 344.14,345.65 344.39,345.7 344.64,346.34 344.9,344.94 345.15,345.7 345.4,347.18 345.65,346.84 345.9,346.67 346.16,347.14 346.41,347.89 346.66,348.81 346.91,349.39 347.16,348.69 347.42,348.56 347.67,349.31 347.92,349.59 348.17,349.99 348.42,351.24 348.68,350.96 348.93,352.15 349.18,352.62 349.43,350.79 349.68,352.43 349.94,351.72 350.19,353.32 350.44,353.22 350.69,353.5 350.94,352.57 351.19,353.76 351.45,355.15 351.7,354.32 351.95,354.92 352.2,355.36 352.45,354.3 352.71,355.72 352.96,356.92 353.21,356.94 353.46,357.7 353.71,356.36 353.97,355.95 354.22,356.48 354.47,358.85 354.72,358.59 354.97,359.01 355.23,357.86 355.48,357.95 355.73,360.13 355.98,358.89 356.23,358.63 356.49,358.84 356.74,361.46 356.99,360.18 357.24,361.87 357.49,360.57 357.75,360.53 358,362.78 358.25,361.81 358.5,361.85 358.75,361.84 359,362.5 359.26,363.34 359.51,362.73 359.76,363.02 360.01,364.51 360.26,363.13 360.52,363.78 360.77,364.61 361.02,364.34 361.27,365.9 361.52,364.76 361.78,365.53 362.03,365.28 362.28,367.04 362.53,367.36 362.78,366.83 363.04,366.35 363.29,366.74 363.54,366.91 363.79,368.61 364.04,367.56 364.3,367.55 364.55,369.84 364.8,368.35 365.05,368.72 365.3,370.23 365.55,369.4 365.81,370.81 366.06,369.73 366.31,370.69 366.56,370.1 366.81,371.76 367.07,370.39 367.32,371.56 367.57,371.65 367.82,372.87 368.07,371.88 368.33,372.47 368.58,372.84 368.83,374.25 369.08,373.69 369.33,373.32 369.59,374.74 369.84,374.53 370.09,375.57 370.34,373.46 370.59,374.94 370.85,375.75 371.1,375.6 371.35,375.02 371.6,374.79 371.85,377.31 372.1,377.21 372.36,377.77 372.61,376 372.86,376.05 373.11,378.43 373.36,377.84 373.62,376.68 373.87,377.86 374.12,377.11 374.37,378.69 374.62,379.45 374.88,377.61 375.13,380.14 375.38,379.56 375.63,378.4 375.88,380.69 376.14,379.27 376.39,378.79 376.64,381.04 376.89,379.28 377.14,381.05 377.4,380.12 377.65,381.37 377.9,382.05 378.15,382.14 378.4,382.39 378.66,382.9 378.91,382.65 379.16,381.05 379.41,381.23 379.66,381.54 379.91,382.81 380.17,381.82 380.42,382.75 380.67,383.65 380.92,383.51 381.17,384.52 381.43,384.95 381.68,384.03 381.93,383.64 382.18,385.23 382.43,386.12 382.47,386" fill="#4f95d4"/>
<line x1="308.66" y1="381.6" x2="308.66" y2="385.87" stroke="#4f95d4" stroke-width="0.55"/>
<line x1="308.92" y1="381.64" x2="308.92" y2="385.39" stroke="#4f95d4" stroke-width="0.55"/>
<line x1="309.41" y1="380.54" x2="309.41" y2="384.48" stroke="#4f95d4" stroke-width="0.55"/>
<line x1="309.78" y1="380.01" x2="309.78" y2="383.8" stroke="#4f95d4" stroke-width="0.55"/>
<line x1="310.07" y1="378.83" x2="310.07" y2="383.27" stroke="#4f95d4" stroke-width="0.55"/>
<line x1="310.6" y1="378.48" x2="310.6" y2="382.31" stroke="#4f95d4" stroke-width="0.55"/>
<line x1="310.92" y1="377.99" x2="310.92" y2="381.73" stroke="#4f95d4" stroke-width="0.55"/>
<line x1="311.36" y1="376.64" x2="311.36" y2="380.91" stroke="#4f95d4" stroke-width="0.55"/>
<line x1="311.59" y1="376.24" x2="311.59" y2="380.49" stroke="#4f95d4" stroke-width="0.55"/>
<line x1="311.86" y1="376.37" x2="311.86" y2="379.99" stroke="#4f95d4" stroke-width="0.55"/>
<line x1="312.25" y1="375.48" x2="312.25" y2="379.29" stroke="#4f95d4" stroke-width="0.55"/>
<line x1="312.75" y1="374.46" x2="312.75" y2="378.37" stroke="#4f95d4" stroke-width="0.55"/>
<line x1="313.02" y1="373.94" x2="313.02" y2="377.87" stroke="#4f95d4" stroke-width="0.55"/>
<line x1="313.46" y1="373.41" x2="313.46" y2="377.06" stroke="#4f95d4" stroke-width="0.55"/>
<line x1="313.71" y1="372.29" x2="313.71" y2="376.6" stroke="#4f95d4" stroke-width="0.55"/>
<line x1="314.02" y1="372.12" x2="314.02" y2="376.03" stroke="#4f95d4" stroke-width="0.55"/>
<line x1="314.46" y1="370.53" x2="314.46" y2="375.23" stroke="#4f95d4" stroke-width="0.55"/>
<line x1="314.75" y1="370.97" x2="314.75" y2="374.7" stroke="#4f95d4" stroke-width="0.55"/>
<line x1="315.1" y1="370.34" x2="315.1" y2="374.06" stroke="#4f95d4" stroke-width="0.55"/>
<line x1="315.57" y1="368.93" x2="315.57" y2="373.19" stroke="#4f95d4" stroke-width="0.55"/>
<line x1="316.06" y1="368.66" x2="316.06" y2="372.3" stroke="#4f95d4" stroke-width="0.55"/>
<line x1="316.56" y1="366.81" x2="316.56" y2="371.38" stroke="#4f95d4" stroke-width="0.55"/>
<line x1="316.87" y1="366.84" x2="316.87" y2="370.82" stroke="#4f95d4" stroke-width="0.55"/>
<line x1="317.21" y1="366.44" x2="317.21" y2="370.2" stroke="#4f95d4" stroke-width="0.55"/>
<line x1="317.62" y1="365.82" x2="317.62" y2="369.45" stroke="#4f95d4" stroke-width="0.55"/>
<line x1="317.98" y1="365.02" x2="317.98" y2="368.79" stroke="#4f95d4" stroke-width="0.55"/>
<line x1="318.42" y1="362.75" x2="318.42" y2="367.98" stroke="#4f95d4" stroke-width="0.55"/>
<line x1="318.74" y1="363.15" x2="318.74" y2="367.38" stroke="#4f95d4" stroke-width="0.55"/>
<line x1="319.2" y1="362.81" x2="319.2" y2="366.55" stroke="#4f95d4" stroke-width="0.55"/>
<line x1="319.71" y1="361.41" x2="319.71" y2="365.61" stroke="#4f95d4" stroke-width="0.55"/>
<line x1="320.1" y1="361.25" x2="320.1" y2="364.9" stroke="#4f95d4" stroke-width="0.55"/>
<line x1="320.62" y1="360.23" x2="320.62" y2="363.95" stroke="#4f95d4" stroke-width="0.55"/>
<line x1="320.88" y1="359.39" x2="320.88" y2="363.48" stroke="#4f95d4" stroke-width="0.55"/>
<line x1="321.11" y1="359.27" x2="321.11" y2="363.04" stroke="#4f95d4" stroke-width="0.55"/>
<line x1="321.4" y1="358.87" x2="321.4" y2="362.52" stroke="#4f95d4" stroke-width="0.55"/>
<line x1="321.8" y1="357.33" x2="321.8" y2="361.79" stroke="#4f95d4" stroke-width="0.55"/>
<line x1="322.06" y1="356.28" x2="322.06" y2="361.31" stroke="#4f95d4" stroke-width="0.55"/>
<line x1="322.3" y1="357.11" x2="322.3" y2="360.87" stroke="#4f95d4" stroke-width="0.55"/>
<line x1="322.68" y1="356.48" x2="322.68" y2="360.18" stroke="#4f95d4" stroke-width="0.55"/>
<line x1="323.02" y1="355.73" x2="323.02" y2="359.54" stroke="#4f95d4" stroke-width="0.55"/>
<line x1="323.51" y1="354.83" x2="323.51" y2="358.65" stroke="#4f95d4" stroke-width="0.55"/>
<line x1="323.96" y1="353.89" x2="323.96" y2="357.82" stroke="#4f95d4" stroke-width="0.55"/>
<line x1="324.47" y1="352.89" x2="324.47" y2="356.88" stroke="#4f95d4" stroke-width="0.55"/>
<line x1="324.96" y1="351.91" x2="324.96" y2="356" stroke="#4f95d4" stroke-width="0.55"/>
<line x1="325.47" y1="350.85" x2="325.47" y2="355.07" stroke="#4f95d4" stroke-width="0.55"/>
<line x1="325.77" y1="350.56" x2="325.77" y2="354.52" stroke="#4f95d4" stroke-width="0.55"/>
<line x1="326.29" y1="348.27" x2="326.29" y2="353.56" stroke="#4f95d4" stroke-width="0.55"/>
<line x1="326.76" y1="348.97" x2="326.76" y2="352.7" stroke="#4f95d4" stroke-width="0.55"/>
<line x1="327.15" y1="346.36" x2="327.15" y2="352.02" stroke="#4f95d4" stroke-width="0.55"/>
<line x1="327.45" y1="347.26" x2="327.45" y2="351.49" stroke="#4f95d4" stroke-width="0.55"/>
<line x1="327.78" y1="347.2" x2="327.78" y2="350.91" stroke="#4f95d4" stroke-width="0.55"/>
<line x1="328.14" y1="346.66" x2="328.14" y2="350.31" stroke="#4f95d4" stroke-width="0.55"/>
<line x1="328.41" y1="344.54" x2="328.41" y2="349.87" stroke="#4f95d4" stroke-width="0.55"/>
<line x1="328.92" y1="344.27" x2="328.92" y2="349.05" stroke="#4f95d4" stroke-width="0.55"/>
<line x1="329.42" y1="344.59" x2="329.42" y2="348.28" stroke="#4f95d4" stroke-width="0.55"/>
<line x1="329.84" y1="343.6" x2="329.84" y2="347.63" stroke="#4f95d4" stroke-width="0.55"/>
<line x1="330.15" y1="342.4" x2="330.15" y2="347.15" stroke="#4f95d4" stroke-width="0.55"/>
<line x1="330.56" y1="342.59" x2="330.56" y2="346.51" stroke="#4f95d4" stroke-width="0.55"/>
<line x1="330.92" y1="341.72" x2="330.92" y2="345.96" stroke="#4f95d4" stroke-width="0.55"/>
<line x1="331.24" y1="341.67" x2="331.24" y2="345.47" stroke="#4f95d4" stroke-width="0.55"/>
<line x1="331.64" y1="340.1" x2="331.64" y2="344.84" stroke="#4f95d4" stroke-width="0.55"/>
<line x1="331.95" y1="340.21" x2="331.95" y2="344.4" stroke="#4f95d4" stroke-width="0.55"/>
<line x1="332.22" y1="340.36" x2="332.22" y2="344.03" stroke="#4f95d4" stroke-width="0.55"/>
<line x1="332.54" y1="339.73" x2="332.54" y2="343.62" stroke="#4f95d4" stroke-width="0.55"/>
<line x1="332.84" y1="339.53" x2="332.84" y2="343.27" stroke="#4f95d4" stroke-width="0.55"/>
<line x1="333.32" y1="338.34" x2="333.32" y2="342.75" stroke="#4f95d4" stroke-width="0.55"/>
<line x1="333.74" y1="338.4" x2="333.74" y2="342.35" stroke="#4f95d4" stroke-width="0.55"/>
<line x1="334.11" y1="337.68" x2="334.11" y2="342.06" stroke="#4f95d4" stroke-width="0.55"/>
<line x1="334.48" y1="338.08" x2="334.48" y2="341.87" stroke="#4f95d4" stroke-width="0.55"/>
<line x1="334.77" y1="337.7" x2="334.77" y2="341.76" stroke="#4f95d4" stroke-width="0.55"/>
<line x1="335.17" y1="338.05" x2="335.17" y2="341.68" stroke="#4f95d4" stroke-width="0.55"/>
<line x1="335.66" y1="337.75" x2="335.66" y2="341.68" stroke="#4f95d4" stroke-width="0.55"/>
<line x1="336.04" y1="337.49" x2="336.04" y2="341.75" stroke="#4f95d4" stroke-width="0.55"/>
<line x1="336.35" y1="337.96" x2="336.35" y2="341.86" stroke="#4f95d4" stroke-width="0.55"/>
<line x1="336.6" y1="337.48" x2="336.6" y2="341.97" stroke="#4f95d4" stroke-width="0.55"/>
<line x1="336.85" y1="338.1" x2="336.85" y2="342.11" stroke="#4f95d4" stroke-width="0.55"/>
<line x1="337.29" y1="338.68" x2="337.29" y2="342.36" stroke="#4f95d4" stroke-width="0.55"/>
<line x1="337.81" y1="338.8" x2="337.81" y2="342.68" stroke="#4f95d4" stroke-width="0.55"/>
<line x1="338.14" y1="338.74" x2="338.14" y2="342.9" stroke="#4f95d4" stroke-width="0.55"/>
<line x1="338.55" y1="338" x2="338.55" y2="343.2" stroke="#4f95d4" stroke-width="0.55"/>
<line x1="338.94" y1="338.63" x2="338.94" y2="343.5" stroke="#4f95d4" stroke-width="0.55"/>
<line x1="339.39" y1="339.4" x2="339.39" y2="343.87" stroke="#4f95d4" stroke-width="0.55"/>
<line x1="339.83" y1="340.37" x2="339.83" y2="344.26" stroke="#4f95d4" stroke-width="0.55"/>
<line x1="340.32" y1="341.07" x2="340.32" y2="344.7" stroke="#4f95d4" stroke-width="0.55"/>
<line x1="340.73" y1="340.36" x2="340.73" y2="345.07" stroke="#4f95d4" stroke-width="0.55"/>
<line x1="341.13" y1="341.06" x2="341.13" y2="345.43" stroke="#4f95d4" stroke-width="0.55"/>
<line x1="341.62" y1="341.73" x2="341.62" y2="345.88" stroke="#4f95d4" stroke-width="0.55"/>
<line x1="341.98" y1="341.85" x2="341.98" y2="346.23" stroke="#4f95d4" stroke-width="0.55"/>
<line x1="342.3" y1="342.43" x2="342.3" y2="346.54" stroke="#4f95d4" stroke-width="0.55"/>
<line x1="342.64" y1="342.7" x2="342.64" y2="346.9" stroke="#4f95d4" stroke-width="0.55"/>
<line x1="343.12" y1="343.3" x2="343.12" y2="347.43" stroke="#4f95d4" stroke-width="0.55"/>
<line x1="343.41" y1="344.02" x2="343.41" y2="347.75" stroke="#4f95d4" stroke-width="0.55"/>
<line x1="343.81" y1="344.48" x2="343.81" y2="348.22" stroke="#4f95d4" stroke-width="0.55"/>
<line x1="344.31" y1="344.61" x2="344.31" y2="348.85" stroke="#4f95d4" stroke-width="0.55"/>
<line x1="344.79" y1="345.39" x2="344.79" y2="349.45" stroke="#4f95d4" stroke-width="0.55"/>
<line x1="345.15" y1="346.26" x2="345.15" y2="349.9" stroke="#4f95d4" stroke-width="0.55"/>
<line x1="345.39" y1="345.94" x2="345.39" y2="350.21" stroke="#4f95d4" stroke-width="0.55"/>
<line x1="345.89" y1="346.27" x2="345.89" y2="350.84" stroke="#4f95d4" stroke-width="0.55"/>
<line x1="346.42" y1="347.28" x2="346.42" y2="351.51" stroke="#4f95d4" stroke-width="0.55"/>
<line x1="346.86" y1="348.11" x2="346.86" y2="352.05" stroke="#4f95d4" stroke-width="0.55"/>
<line x1="347.26" y1="348.19" x2="347.26" y2="352.56" stroke="#4f95d4" stroke-width="0.55"/>
<line x1="347.69" y1="349.36" x2="347.69" y2="353.11" stroke="#4f95d4" stroke-width="0.55"/>
<line x1="348.03" y1="349.4" x2="348.03" y2="353.53" stroke="#4f95d4" stroke-width="0.55"/>
<line x1="348.43" y1="348.49" x2="348.43" y2="354.04" stroke="#4f95d4" stroke-width="0.55"/>
<line x1="348.81" y1="350.26" x2="348.81" y2="354.51" stroke="#4f95d4" stroke-width="0.55"/>
<line x1="349.33" y1="351.13" x2="349.33" y2="355.17" stroke="#4f95d4" stroke-width="0.55"/>
<line x1="349.81" y1="352.01" x2="349.81" y2="355.75" stroke="#4f95d4" stroke-width="0.55"/>
<line x1="350.33" y1="351.8" x2="350.33" y2="356.39" stroke="#4f95d4" stroke-width="0.55"/>
<line x1="350.59" y1="351.68" x2="350.59" y2="356.7" stroke="#4f95d4" stroke-width="0.55"/>
<line x1="351.07" y1="351.64" x2="351.07" y2="357.26" stroke="#4f95d4" stroke-width="0.55"/>
<line x1="351.42" y1="353.94" x2="351.42" y2="357.67" stroke="#4f95d4" stroke-width="0.55"/>
<line x1="351.8" y1="354.27" x2="351.8" y2="358.11" stroke="#4f95d4" stroke-width="0.55"/>
<line x1="352.08" y1="353.95" x2="352.08" y2="358.43" stroke="#4f95d4" stroke-width="0.55"/>
<line x1="352.42" y1="353.76" x2="352.42" y2="358.81" stroke="#4f95d4" stroke-width="0.55"/>
<line x1="352.66" y1="354.73" x2="352.66" y2="359.09" stroke="#4f95d4" stroke-width="0.55"/>
<line x1="352.98" y1="355.82" x2="352.98" y2="359.45" stroke="#4f95d4" stroke-width="0.55"/>
<line x1="353.29" y1="355.07" x2="353.29" y2="359.82" stroke="#4f95d4" stroke-width="0.55"/>
<line x1="353.72" y1="356.46" x2="353.72" y2="360.31" stroke="#4f95d4" stroke-width="0.55"/>
<line x1="354.12" y1="356.74" x2="354.12" y2="360.76" stroke="#4f95d4" stroke-width="0.55"/>
<line x1="354.5" y1="356.28" x2="354.5" y2="361.2" stroke="#4f95d4" stroke-width="0.55"/>
<line x1="354.86" y1="357.93" x2="354.86" y2="361.6" stroke="#4f95d4" stroke-width="0.55"/>
<line x1="355.31" y1="358.47" x2="355.31" y2="362.12" stroke="#4f95d4" stroke-width="0.55"/>
<line x1="355.59" y1="357.84" x2="355.59" y2="362.44" stroke="#4f95d4" stroke-width="0.55"/>
<line x1="356" y1="359.17" x2="356" y2="362.91" stroke="#4f95d4" stroke-width="0.55"/>
<line x1="356.23" y1="358.99" x2="356.23" y2="363.17" stroke="#4f95d4" stroke-width="0.55"/>
<line x1="356.68" y1="359.92" x2="356.68" y2="363.68" stroke="#4f95d4" stroke-width="0.55"/>
<line x1="356.98" y1="360.2" x2="356.98" y2="364.03" stroke="#4f95d4" stroke-width="0.55"/>
<line x1="357.39" y1="360.51" x2="357.39" y2="364.49" stroke="#4f95d4" stroke-width="0.55"/>
<line x1="357.73" y1="361.15" x2="357.73" y2="364.88" stroke="#4f95d4" stroke-width="0.55"/>
<line x1="358.13" y1="360.77" x2="358.13" y2="365.34" stroke="#4f95d4" stroke-width="0.55"/>
<line x1="358.55" y1="362.17" x2="358.55" y2="365.82" stroke="#4f95d4" stroke-width="0.55"/>
<line x1="359.05" y1="362.17" x2="359.05" y2="366.4" stroke="#4f95d4" stroke-width="0.55"/>
<line x1="359.55" y1="362.78" x2="359.55" y2="366.97" stroke="#4f95d4" stroke-width="0.55"/>
<line x1="359.96" y1="362.73" x2="359.96" y2="367.44" stroke="#4f95d4" stroke-width="0.55"/>
<line x1="360.48" y1="364.18" x2="360.48" y2="368.02" stroke="#4f95d4" stroke-width="0.55"/>
<line x1="360.92" y1="364.75" x2="360.92" y2="368.52" stroke="#4f95d4" stroke-width="0.55"/>
<line x1="361.41" y1="364.57" x2="361.41" y2="369.07" stroke="#4f95d4" stroke-width="0.55"/>
<line x1="361.71" y1="365.63" x2="361.71" y2="369.4" stroke="#4f95d4" stroke-width="0.55"/>
<line x1="361.99" y1="365.44" x2="361.99" y2="369.7" stroke="#4f95d4" stroke-width="0.55"/>
<line x1="362.39" y1="366.36" x2="362.39" y2="370.12" stroke="#4f95d4" stroke-width="0.55"/>
<line x1="362.73" y1="366.79" x2="362.73" y2="370.48" stroke="#4f95d4" stroke-width="0.55"/>
<line x1="363" y1="366.47" x2="363" y2="370.75" stroke="#4f95d4" stroke-width="0.55"/>
<line x1="363.3" y1="367.3" x2="363.3" y2="371.05" stroke="#4f95d4" stroke-width="0.55"/>
<line x1="363.6" y1="367.68" x2="363.6" y2="371.35" stroke="#4f95d4" stroke-width="0.55"/>
<line x1="363.93" y1="367.81" x2="363.93" y2="371.68" stroke="#4f95d4" stroke-width="0.55"/>
<line x1="364.18" y1="367.81" x2="364.18" y2="371.94" stroke="#4f95d4" stroke-width="0.55"/>
<line x1="364.45" y1="367.74" x2="364.45" y2="372.21" stroke="#4f95d4" stroke-width="0.55"/>
<line x1="364.92" y1="368.93" x2="364.92" y2="372.68" stroke="#4f95d4" stroke-width="0.55"/>
<line x1="365.36" y1="368.69" x2="365.36" y2="373.13" stroke="#4f95d4" stroke-width="0.55"/>
<line x1="365.65" y1="368.71" x2="365.65" y2="373.42" stroke="#4f95d4" stroke-width="0.55"/>
<line x1="365.95" y1="369.96" x2="365.95" y2="373.72" stroke="#4f95d4" stroke-width="0.55"/>
<line x1="366.39" y1="370.01" x2="366.39" y2="374.16" stroke="#4f95d4" stroke-width="0.55"/>
<line x1="366.79" y1="370.74" x2="366.79" y2="374.57" stroke="#4f95d4" stroke-width="0.55"/>
<line x1="367.2" y1="370.94" x2="367.2" y2="374.98" stroke="#4f95d4" stroke-width="0.55"/>
<line x1="367.47" y1="370.99" x2="367.47" y2="375.25" stroke="#4f95d4" stroke-width="0.55"/>
<line x1="367.78" y1="371.26" x2="367.78" y2="375.56" stroke="#4f95d4" stroke-width="0.55"/>
<line x1="368.2" y1="371.96" x2="368.2" y2="375.99" stroke="#4f95d4" stroke-width="0.55"/>
<line x1="368.55" y1="372.68" x2="368.55" y2="376.33" stroke="#4f95d4" stroke-width="0.55"/>
<line x1="369.03" y1="372.72" x2="369.03" y2="376.82" stroke="#4f95d4" stroke-width="0.55"/>
<line x1="369.29" y1="373" x2="369.29" y2="377.08" stroke="#4f95d4" stroke-width="0.55"/>
<line x1="369.67" y1="373.8" x2="369.67" y2="377.46" stroke="#4f95d4" stroke-width="0.55"/>
<line x1="369.99" y1="374.1" x2="369.99" y2="377.79" stroke="#4f95d4" stroke-width="0.55"/>
<line x1="370.43" y1="374.35" x2="370.43" y2="378.23" stroke="#4f95d4" stroke-width="0.55"/>
<line x1="370.93" y1="373.56" x2="370.93" y2="378.74" stroke="#4f95d4" stroke-width="0.55"/>
<line x1="371.42" y1="375.52" x2="371.42" y2="379.23" stroke="#4f95d4" stroke-width="0.55"/>
<line x1="371.66" y1="374.82" x2="371.66" y2="379.47" stroke="#4f95d4" stroke-width="0.55"/>
<line x1="371.99" y1="375.56" x2="371.99" y2="379.8" stroke="#4f95d4" stroke-width="0.55"/>
<line x1="372.43" y1="376.12" x2="372.43" y2="380.22" stroke="#4f95d4" stroke-width="0.55"/>
<line x1="372.76" y1="376.65" x2="372.76" y2="380.54" stroke="#4f95d4" stroke-width="0.55"/>
<line x1="373.02" y1="375.63" x2="373.02" y2="380.77" stroke="#4f95d4" stroke-width="0.55"/>
<line x1="373.46" y1="377.54" x2="373.46" y2="381.16" stroke="#4f95d4" stroke-width="0.55"/>
<line x1="373.74" y1="377.64" x2="373.74" y2="381.4" stroke="#4f95d4" stroke-width="0.55"/>
<line x1="374.08" y1="378.03" x2="374.08" y2="381.68" stroke="#4f95d4" stroke-width="0.55"/>
<line x1="374.5" y1="378.05" x2="374.5" y2="382.01" stroke="#4f95d4" stroke-width="0.55"/>
<line x1="374.9" y1="378.28" x2="374.9" y2="382.32" stroke="#4f95d4" stroke-width="0.55"/>
<line x1="375.26" y1="378.43" x2="375.26" y2="382.59" stroke="#4f95d4" stroke-width="0.55"/>
<line x1="375.49" y1="377.68" x2="375.49" y2="382.77" stroke="#4f95d4" stroke-width="0.55"/>
<line x1="375.8" y1="379.3" x2="375.8" y2="383.01" stroke="#4f95d4" stroke-width="0.55"/>
<line x1="376.21" y1="379.67" x2="376.21" y2="383.32" stroke="#4f95d4" stroke-width="0.55"/>
<line x1="376.47" y1="379.52" x2="376.47" y2="383.52" stroke="#4f95d4" stroke-width="0.55"/>
<line x1="376.97" y1="380.14" x2="376.97" y2="383.91" stroke="#4f95d4" stroke-width="0.55"/>
<line x1="377.41" y1="379.95" x2="377.41" y2="384.24" stroke="#4f95d4" stroke-width="0.55"/>
<line x1="377.89" y1="380.93" x2="377.89" y2="384.61" stroke="#4f95d4" stroke-width="0.55"/>
<line x1="378.4" y1="380.49" x2="378.4" y2="385" stroke="#4f95d4" stroke-width="0.55"/>
<line x1="378.84" y1="380.33" x2="378.84" y2="385.34" stroke="#4f95d4" stroke-width="0.55"/>
<line x1="379.25" y1="381.98" x2="379.25" y2="385.66" stroke="#4f95d4" stroke-width="0.55"/>
<rect x="334.78" y="320.39" width="0.9" height="65.61" fill="#4f95d4"/>
<rect x="328.53" y="340.68" width="0.8" height="45.32" fill="#4f95d4"/>
<rect x="329.32" y="342.49" width="0.8" height="43.51" fill="#4f95d4"/>
<rect x="338.77" y="337.06" width="0.8" height="48.94" fill="#4f95d4"/>
<polygon points="307.36,386 307.36,388.26 307.61,387.31 307.86,387.88 308.12,385.68 308.37,386.35 308.62,384.87 308.87,384.96 309.12,384.2 309.38,383.9 309.63,383.39 309.88,382.18 310.13,382.79 310.38,382.38 310.63,380.8 310.89,380.46 311.14,380.41 311.39,379.06 311.64,378.61 311.89,379.38 312.15,377.66 312.4,378.14 312.65,377.95 312.9,376.94 313.15,376.08 313.41,376.35 313.66,376.24 313.91,374.86 314.16,375.29 314.41,373.74 314.67,374.45 314.92,372.61 315.17,373.41 315.42,372.02 315.67,372.55 315.93,371.92 316.18,370.96 316.43,370.85 316.68,369.22 316.93,370.34 317.18,369.88 317.44,367.82 317.69,367.81 317.94,368.32 318.19,368.02 318.44,367.05 318.7,366.57 318.95,365.57 319.2,365.22 319.45,365.65 319.7,364.71 319.96,363.34 320.21,363.48 320.46,363.3 320.71,362.29 320.96,361.73 321.22,361.13 321.47,361.05 321.72,361.18 321.97,361.11 322.22,359.41 322.48,359.22 322.73,359.14 322.98,358.32 323.23,357.76 323.48,358.19 323.73,356.65 323.99,356.71 324.24,357.06 324.49,356.38 324.74,354.51 324.99,355.57 325.25,354.31 325.5,353.9 325.75,352.86 326,353.16 326.25,353.06 326.51,352.27 326.76,352.3 327.01,351.43 327.26,351.13 327.51,351.17 327.77,350 328.02,349.7 328.27,349.52 328.52,347.81 328.77,348.71 329.03,348 329.28,348.08 329.53,346.46 329.78,346.69 330.03,346.74 330.29,346.12 330.54,344.88 330.79,345.13 331.04,344.59 331.29,343.69 331.54,343.27 331.8,343.76 332.05,343.31 332.3,343.74 332.55,342.91 332.8,342.58 333.06,342.07 333.31,341.39 333.56,340.65 333.81,342 334.06,340.27 334.32,341.51 334.57,340.5 334.82,341.55 335.07,340.33 335.32,341.3 335.58,341.06 335.83,340.89 336.08,339.94 336.33,341.36 336.58,340.68 336.84,340.71 337.09,340.63 337.34,341.85 337.59,341.4 337.84,341.73 338.09,341.68 338.35,342.44 338.6,342.16 338.85,342.4 339.1,342.56 339.35,342.68 339.61,343.86 339.86,343.25 340.11,343.12 340.36,343.88 340.61,343.04 340.87,343.86 341.12,345.19 341.37,344.23 341.62,345.1 341.87,345.01 342.13,344.56 342.38,345.14 342.63,346.09 342.88,346.31 343.13,346.3 343.39,347.16 343.64,347.07 343.89,346.65 344.14,346.95 344.39,347.86 344.64,348.17 344.9,348.22 345.15,349.12 345.4,349.5 345.65,349.21 345.9,350.6 346.16,349.39 346.41,351.22 346.66,351.61 346.91,350.27 347.16,351.07 347.42,350.93 347.67,351.78 347.92,351.95 348.17,352.29 348.42,352.64 348.68,352.78 348.93,354.15 349.18,353.39 349.43,353.92 349.68,353.93 349.94,354.71 350.19,355.49 350.44,355.76 350.69,355.47 350.94,356.83 351.19,357.16 351.45,356.05 351.7,356.15 351.95,358.07 352.2,357.31 352.45,356.9 352.71,358.22 352.96,358.08 353.21,359.26 353.46,359.82 353.71,359.89 353.97,360.24 354.22,360.46 354.47,359.67 354.72,359.94 354.97,361.46 355.23,360.55 355.48,360.81 355.73,361.28 355.98,361.87 356.23,362.53 356.49,361.98 356.74,363.54 356.99,362.38 357.24,363.58 357.49,364.13 357.75,363.84 358,364.34 358.25,364.5 358.5,365.32 358.75,365.21 359,365.02 359.26,365.75 359.51,365.02 359.76,366 360.01,367.2 360.26,366.33 360.52,367.29 360.77,366.4 361.02,367.37 361.27,367.96 361.52,368.33 361.78,368.19 362.03,368.09 362.28,369.82 362.53,369.32 362.78,368.87 363.04,370.53 363.29,369.39 363.54,370.08 363.79,369.82 364.04,370.38 364.3,371.25 364.55,371.12 364.8,372.02 365.05,370.95 365.3,371.79 365.55,372.3 365.81,372.93 366.06,372.21 366.31,373.74 366.56,372.76 366.81,373.36 367.07,373.06 367.32,374.05 367.57,374.83 367.82,375.1 368.07,375.02 368.33,375.2 368.58,375.92 368.83,374.63 369.08,376.5 369.33,375.52 369.59,376.12 369.84,376.51 370.09,377.65 370.34,376.39 370.59,377.19 370.85,377.06 371.1,377.01 371.35,377.49 371.6,378.77 371.85,379.12 372.1,379.58 372.36,378.97 372.61,379.38 372.86,378.8 373.11,379.59 373.36,380.68 373.62,380.65 373.87,380.16 374.12,380.32 374.37,380.92 374.62,380.18 374.88,381.72 375.13,381.85 375.38,380.87 375.63,381.18 375.88,381.47 376.14,381.92 376.39,383.18 376.64,382.11 376.89,382.44 377.14,382.79 377.4,383.86 377.65,383.78 377.9,383.57 378.15,384.2 378.4,383.6 378.66,383.72 378.91,385.15 379.16,385.01 379.41,384.03 379.66,385.54 379.91,385.81 380.17,384.65 380.42,385.55 380.67,385.07 380.92,385.62 381.17,386.55 381.43,385.88 381.68,387.2 381.93,387.37 382.18,388.04 382.43,387.34 382.47,386" fill="#0a5ba8"/>
<polygon points="402.21,386 402.91,375.47 403.91,375.47 404.61,386" fill="#0a5ba8"/>
<rect x="262.8" y="311.5" width="173.2" height="74.5" fill="none" stroke="#3a3a3a" stroke-width="0.9"/>
<line x1="259" y1="313.5" x2="262.8" y2="313.5" stroke="#3a3a3a" stroke-width="0.9"/>
<line x1="259" y1="331.62" x2="262.8" y2="331.62" stroke="#3a3a3a" stroke-width="0.9"/>
<line x1="259" y1="349.74" x2="262.8" y2="349.74" stroke="#3a3a3a" stroke-width="0.9"/>
<line x1="259" y1="367.86" x2="262.8" y2="367.86" stroke="#3a3a3a" stroke-width="0.9"/>
<line x1="259" y1="385.98" x2="262.8" y2="385.98" stroke="#3a3a3a" stroke-width="0.9"/>
<line x1="278.55" y1="386" x2="278.55" y2="389.8" stroke="#3a3a3a" stroke-width="0.9"/>
<text x="278.55" y="400.83" font-size="7.3" text-anchor="middle" fill="#2a2526" stroke="#2a2526" stroke-width="0.1">1200</text>
<line x1="310.04" y1="386" x2="310.04" y2="389.8" stroke="#3a3a3a" stroke-width="0.9"/>
<text x="310.04" y="400.83" font-size="7.3" text-anchor="middle" fill="#2a2526" stroke="#2a2526" stroke-width="0.1">1400</text>
<line x1="341.53" y1="386" x2="341.53" y2="389.8" stroke="#3a3a3a" stroke-width="0.9"/>
<text x="341.53" y="400.83" font-size="7.3" text-anchor="middle" fill="#2a2526" stroke="#2a2526" stroke-width="0.1">1600</text>
<line x1="373.02" y1="386" x2="373.02" y2="389.8" stroke="#3a3a3a" stroke-width="0.9"/>
<text x="373.02" y="400.83" font-size="7.3" text-anchor="middle" fill="#2a2526" stroke="#2a2526" stroke-width="0.1">1800</text>
<line x1="404.51" y1="386" x2="404.51" y2="389.8" stroke="#3a3a3a" stroke-width="0.9"/>
<text x="404.51" y="400.83" font-size="7.3" text-anchor="middle" fill="#2a2526" stroke="#2a2526" stroke-width="0.1">2000</text>
<line x1="436" y1="386" x2="436" y2="389.8" stroke="#3a3a3a" stroke-width="0.9"/>
<text x="436" y="400.83" font-size="7.3" text-anchor="middle" fill="#2a2526" stroke="#2a2526" stroke-width="0.1">2200</text>
<text x="349.4" y="412.93" font-size="7.3" text-anchor="middle" fill="#2a2526" stroke="#2a2526" stroke-width="0.1">Wavelength (nm)</text>
<text x="434.6" y="318.93" font-size="7.3" text-anchor="end" fill="#2a2526" stroke="#2a2526" stroke-width="0.1">Pump-NR detuning = 1.24 GHz</text>
<polygon points="510.36,386 510.36,385.29 510.61,385.21 510.86,384.4 511.11,384.88 511.37,384.28 511.62,384.41 511.87,384.32 512.12,382.76 512.37,383.56 512.63,382.81 512.88,382.79 513.13,381.23 513.38,381.77 513.63,380.9 513.89,380.78 514.14,380.76 514.39,381.01 514.64,379.86 514.89,380.93 515.15,380.88 515.4,380.45 515.65,379.17 515.9,380.36 516.15,379.24 516.4,379.72 516.66,379.85 516.91,377.79 517.16,377.62 517.41,377.75 517.66,377.68 517.92,378.16 518.17,378.35 518.42,376.54 518.67,375.58 518.92,377 519.18,377.03 519.43,375.22 519.68,376.14 519.93,375.05 520.18,374.09 520.44,374.19 520.69,374.04 520.94,375.16 521.19,374.57 521.44,373.76 521.7,372.82 521.95,374.5 522.2,372.81 522.45,372.37 522.7,371.54 522.95,372.37 523.21,372.61 523.46,372.89 523.71,372.44 523.96,370.21 524.21,372.23 524.47,371.61 524.72,371.82 524.97,369.48 525.22,370.28 525.47,369.45 525.73,369.79 525.98,369.49 526.23,368.29 526.48,369.66 526.73,368.72 526.99,368.7 527.24,369.1 527.49,367.92 527.74,366.58 527.99,366.16 528.25,366.78 528.5,367.89 528.75,366.3 529,366.14 529.25,366.11 529.51,366.3 529.76,364.61 530.01,366.07 530.26,365.18 530.51,364.41 530.76,364.35 531.02,364.22 531.27,364.3 531.52,364.57 531.77,363.42 532.02,362.4 532.28,364.02 532.53,363.39 532.78,362.4 533.03,362.1 533.28,361.99 533.54,362.8 533.79,362.56 534.04,360.38 534.29,360.49 534.54,361.7 534.8,359.97 535.05,359.46 535.3,360.83 535.55,359.63 535.8,360.44 536.06,360.4 536.31,359.41 536.56,358.64 536.81,359.14 537.06,358.61 537.31,357.91 537.57,357.84 537.82,356.86 538.07,356.95 538.32,356.69 538.57,356.31 538.83,357.2 539.08,355.58 539.33,357.57 539.58,357.21 539.83,355.27 540.09,354.75 540.34,356.17 540.59,355.48 540.84,354.93 541.09,356.08 541.35,353.96 541.6,354.34 541.85,353.79 542.1,354.9 542.35,353.72 542.61,352.84 542.86,354.56 543.11,354.01 543.36,352.02 543.61,353.85 543.86,351.71 544.12,352.53 544.37,352.89 544.62,352.09 544.87,351.34 545.12,351.81 545.38,350.21 545.63,352.07 545.88,351.07 546.13,350.32 546.38,350.65 546.64,349.88 546.89,351.02 547.14,348.44 547.39,350.28 547.64,349.75 547.9,348.97 548.15,348.59 548.4,347.43 548.65,349.48 548.9,347.48 549.16,347.28 549.41,347.43 549.66,348.11 549.91,346.49 550.16,346.79 550.41,346.42 550.67,346.87 550.92,347.09 551.17,346.79 551.42,346.78 551.67,345.02 551.93,346.37 552.18,346.53 552.43,346.6 552.68,344.63 552.93,345.5 553.19,345.68 553.44,346.09 553.69,345.33 553.94,344.56 554.19,344.91 554.45,344.14 554.7,344.96 554.95,342.82 555.2,343.17 555.45,342.77 555.71,343.54 555.96,343.88 556.21,344.33 556.46,343.56 556.71,343.51 556.97,343.38 557.22,341.59 557.47,343.05 557.72,341.01 557.97,343 558.22,340.89 558.48,342.55 558.73,341.45 558.98,341.08 559.23,342.03 559.48,340.64 559.74,341.42 559.99,341.54 560.24,341.31 560.49,340.76 560.74,341.05 561,341.6 561.25,342.16 561.5,340.78 561.75,341.99 562,340.32 562.26,341.83 562.51,341.68 562.76,341.77 563.01,340.92 563.26,340.48 563.52,340.28 563.77,341.05 564.02,341.19 564.27,339.92 564.52,341 564.77,339.33 565.03,341.01 565.28,339.37 565.53,341.65 565.78,340.07 566.03,340.8 566.29,341.15 566.54,341.52 566.79,341.45 567.04,340.6 567.29,341.43 567.55,341.03 567.8,341.53 568.05,339.76 568.3,341.99 568.55,341.52 568.81,340.94 569.06,341.36 569.31,341.13 569.56,340.09 569.81,340.56 570.07,340.82 570.32,340.33 570.57,341.11 570.82,340.29 571.07,341.05 571.32,342.02 571.58,341.62 571.83,342.23 572.08,341.21 572.33,340.4 572.58,341.48 572.84,340.81 573.09,342.32 573.34,341.01 573.59,342.26 573.84,340.93 574.1,341.49 574.35,342.1 574.6,341.1 574.85,341.14 575.1,341.45 575.36,342.95 575.61,341.01 575.86,343.44 576.11,341.16 576.36,341.36 576.62,341.84 576.87,343.27 577.12,343.51 577.37,341.54 577.62,341.67 577.88,343.8 578.13,341.99 578.38,343.88 578.63,343.47 578.88,343.84 579.13,341.74 579.39,342.1 579.64,343.14 579.89,343.37 580.14,342.83 580.39,342.81 580.65,344.44 580.9,343.6 581.15,344.06 581.4,342.65 581.65,343.32 581.91,344.78 582.16,345.14 582.41,344.17 582.66,344.15 582.91,345.59 583.17,344.12 583.42,344.47 583.67,343.51 583.92,344.26 584.17,345.34 584.43,343.84 584.68,345.37 584.93,346.07 585.18,346.5 585.43,344.35 585.68,345.22 585.94,346.23 586.19,346.63 586.44,345.1 586.69,347 586.94,346.42 587.2,345.98 587.45,345.04 587.7,345.69 587.95,346.37 588.2,345.29 588.46,346.28 588.71,346.99 588.96,347.06 589.21,346.62 589.46,347.43 589.72,346.99 589.97,346.92 590.22,346.3 590.47,346.86 590.72,347.56 590.98,348.47 591.23,347.63 591.48,347.73 591.73,348.54 591.98,347.21 592.23,347.76 592.49,347.24 592.74,349.42 592.99,347.59 593.24,349.42 593.49,349.21 593.75,349.05 594,348.75 594.25,349.91 594.5,347.79 594.75,349.23 595.01,348.47 595.26,350.16 595.51,349.73 595.76,350.15 596.01,350 596.27,350.89 596.52,349.64 596.77,350.7 597.02,350.57 597.27,350.75 597.53,351.22 597.78,349.44 598.03,350.61 598.28,350.24 598.53,351.75 598.79,351.06 599.04,351.34 599.29,350.57 599.54,351.4 599.79,350.95 600.04,352 600.3,350.83 600.55,351.05 600.8,352.6 601.05,351.95 601.3,351.77 601.56,351.23 601.81,351.74 602.06,352.16 602.31,352.38 602.56,351.32 602.82,352.39 603.07,351.68 603.32,351.99 603.57,353.8 603.82,352.65 604.08,352.23 604.33,353.67 604.58,352.31 604.83,354.2 605.08,353.14 605.34,352.96 605.59,353.54 605.84,353.14 606.09,353.5 606.34,353.03 606.59,354.78 606.85,353.97 607.1,352.92 607.35,354.8 607.6,354.92 607.85,354.29 608.11,354.72 608.36,355.11 608.61,353.99 608.86,355.43 609.11,356.03 609.37,355.35 609.62,355.17 609.87,355.57 610.12,356.08 610.37,355.31 610.63,356.01 610.88,355.88 611.13,356.19 611.38,355.14 611.63,355.45 611.89,355.84 612.14,355.09 612.39,355.32 612.64,356.49 612.89,357.51 613.14,357.53 613.4,357.34 613.65,356.47 613.9,356.68 614.15,356.3 614.4,357.5 614.66,357.71 614.91,357.62 615.16,357.95 615.41,355.92 615.66,356.69 615.92,356.15 616.17,358.04 616.42,356.78 616.67,356.49 616.92,358.02 617.18,357.87 617.43,358.33 617.68,357.97 617.93,358.45 618.18,356.49 618.44,358.86 618.69,357.43 618.94,357.72 619.19,357.98 619.44,358.12 619.69,358.95 619.95,358.99 620.2,356.91 620.45,358.12 620.7,358.61 620.95,358.31 621.21,359.35 621.46,357.52 621.71,358.37 621.96,359.41 622.21,357.61 622.47,359.27 622.72,359.75 622.97,357.45 623.22,357.48 623.47,359.63 623.73,358.59 623.98,357.79 624.23,357.59 624.48,359.26 624.73,359.1 624.99,357.32 625.24,358.03 625.49,357.81 625.74,357.4 625.99,357.48 626.25,357.88 626.5,358.31 626.75,356.32 627,356.47 627.25,357.27 627.5,358.12 627.76,357.98 628.01,356.86 628.26,356.94 628.51,356.68 628.76,357 629.02,356.8 629.27,357.35 629.52,355.39 629.77,355.19 630.02,354.89 630.28,355.08 630.53,355.14 630.78,354.78 631.03,355.77 631.28,355.24 631.54,355.29 631.79,355.54 632.04,354.87 632.29,353.15 632.54,354.48 632.8,352.67 633.05,353.47 633.3,351.18 633.55,351.2 633.8,349.96 634.05,350.1 634.31,348.26 634.56,348.28 634.81,346.06 635.06,347.04 635.31,346.88 635.57,346.77 635.82,345.26 636.07,346.25 636.32,347.58 636.57,347.23 636.83,348.59 637.08,349.27 637.33,349.47 637.58,350.18 637.83,352.02 638.09,351.27 638.34,353.09 638.59,351.66 638.84,352.67 639.09,353.08 639.35,354.53 639.6,354.22 639.85,355.95 640.1,355.91 640.35,357.45 640.6,356.31 640.86,356.68 641.11,358.73 641.36,359.11 641.61,357.95 641.86,358.92 642.12,359.21 642.37,359.93 642.62,360.05 642.87,362.32 643.12,360.94 643.38,361.99 643.63,361.95 643.88,363.13 644.13,364.49 644.38,364.17 644.64,364.51 644.89,365.54 645.14,364.44 645.39,366.22 645.64,366.71 645.9,366.72 646.15,366.27 646.4,367 646.65,367.1 646.9,368.88 647.16,369.09 647.41,368.24 647.66,368.66 647.91,370.06 648.16,370.48 648.41,371.69 648.67,372.19 648.92,373.03 649.17,371.17 649.42,371.96 649.67,373.55 649.93,373.55 650.18,374.14 650.43,373.63 650.68,374.78 650.93,375.41 651.19,375.12 651.44,376.36 651.69,377.59 651.94,377.37 652.19,378.33 652.45,377.69 652.7,378.56 652.95,379.76 653.2,379.81 653.45,380.39 653.71,382.61 653.96,382.88 654.21,381.56 654.46,382.84 654.71,384.81 654.96,383.86 655.22,385.88 655.37,386" fill="#4f95d4"/>
<line x1="513.15" y1="381.44" x2="513.15" y2="385.64" stroke="#4f95d4" stroke-width="0.55"/>
<line x1="513.67" y1="380.39" x2="513.67" y2="385.13" stroke="#4f95d4" stroke-width="0.55"/>
<line x1="513.98" y1="380.98" x2="513.98" y2="384.82" stroke="#4f95d4" stroke-width="0.55"/>
<line x1="514.45" y1="380.09" x2="514.45" y2="384.34" stroke="#4f95d4" stroke-width="0.55"/>
<line x1="514.72" y1="379.42" x2="514.72" y2="384.07" stroke="#4f95d4" stroke-width="0.55"/>
<line x1="515" y1="379.89" x2="515" y2="383.8" stroke="#4f95d4" stroke-width="0.55"/>
<line x1="515.32" y1="379.82" x2="515.32" y2="383.48" stroke="#4f95d4" stroke-width="0.55"/>
<line x1="515.66" y1="377.41" x2="515.66" y2="383.14" stroke="#4f95d4" stroke-width="0.55"/>
<line x1="515.95" y1="378.57" x2="515.95" y2="382.85" stroke="#4f95d4" stroke-width="0.55"/>
<line x1="516.23" y1="378.63" x2="516.23" y2="382.57" stroke="#4f95d4" stroke-width="0.55"/>
<line x1="516.49" y1="378.45" x2="516.49" y2="382.31" stroke="#4f95d4" stroke-width="0.55"/>
<line x1="516.83" y1="377.76" x2="516.83" y2="381.97" stroke="#4f95d4" stroke-width="0.55"/>
<line x1="517.12" y1="377.13" x2="517.12" y2="381.68" stroke="#4f95d4" stroke-width="0.55"/>
<line x1="517.6" y1="376.45" x2="517.6" y2="381.2" stroke="#4f95d4" stroke-width="0.55"/>
<line x1="517.92" y1="377" x2="517.92" y2="380.88" stroke="#4f95d4" stroke-width="0.55"/>
<line x1="518.29" y1="376.04" x2="518.29" y2="380.51" stroke="#4f95d4" stroke-width="0.55"/>
<line x1="518.75" y1="376.21" x2="518.75" y2="380.06" stroke="#4f95d4" stroke-width="0.55"/>
<line x1="519.25" y1="375.59" x2="519.25" y2="379.56" stroke="#4f95d4" stroke-width="0.55"/>
<line x1="519.67" y1="375.06" x2="519.67" y2="379.14" stroke="#4f95d4" stroke-width="0.55"/>
<line x1="519.91" y1="374.22" x2="519.91" y2="378.9" stroke="#4f95d4" stroke-width="0.55"/>
<line x1="520.24" y1="374.38" x2="520.24" y2="378.57" stroke="#4f95d4" stroke-width="0.55"/>
<line x1="520.54" y1="374.56" x2="520.54" y2="378.27" stroke="#4f95d4" stroke-width="0.55"/>
<line x1="521" y1="373.56" x2="521" y2="377.82" stroke="#4f95d4" stroke-width="0.55"/>
<line x1="521.47" y1="373.64" x2="521.47" y2="377.35" stroke="#4f95d4" stroke-width="0.55"/>
<line x1="521.89" y1="371.91" x2="521.89" y2="376.92" stroke="#4f95d4" stroke-width="0.55"/>
<line x1="522.33" y1="372.17" x2="522.33" y2="376.49" stroke="#4f95d4" stroke-width="0.55"/>
<line x1="522.84" y1="371.78" x2="522.84" y2="375.98" stroke="#4f95d4" stroke-width="0.55"/>
<line x1="523.18" y1="371.37" x2="523.18" y2="375.63" stroke="#4f95d4" stroke-width="0.55"/>
<line x1="523.46" y1="370.67" x2="523.46" y2="375.35" stroke="#4f95d4" stroke-width="0.55"/>
<line x1="523.85" y1="369.97" x2="523.85" y2="374.96" stroke="#4f95d4" stroke-width="0.55"/>
<line x1="524.12" y1="371.02" x2="524.12" y2="374.7" stroke="#4f95d4" stroke-width="0.55"/>
<line x1="524.47" y1="369.75" x2="524.47" y2="374.34" stroke="#4f95d4" stroke-width="0.55"/>
<line x1="524.9" y1="369.76" x2="524.9" y2="373.91" stroke="#4f95d4" stroke-width="0.55"/>
<line x1="525.3" y1="369.37" x2="525.3" y2="373.51" stroke="#4f95d4" stroke-width="0.55"/>
<line x1="525.76" y1="369.14" x2="525.76" y2="373.05" stroke="#4f95d4" stroke-width="0.55"/>
<line x1="526.19" y1="368.14" x2="526.19" y2="372.62" stroke="#4f95d4" stroke-width="0.55"/>
<line x1="526.69" y1="366.98" x2="526.69" y2="372.12" stroke="#4f95d4" stroke-width="0.55"/>
<line x1="527.16" y1="366.73" x2="527.16" y2="371.64" stroke="#4f95d4" stroke-width="0.55"/>
<line x1="527.43" y1="366.63" x2="527.43" y2="371.37" stroke="#4f95d4" stroke-width="0.55"/>
<line x1="527.84" y1="367.3" x2="527.84" y2="370.96" stroke="#4f95d4" stroke-width="0.55"/>
<line x1="528.25" y1="366.42" x2="528.25" y2="370.55" stroke="#4f95d4" stroke-width="0.55"/>
<line x1="528.54" y1="366.59" x2="528.54" y2="370.26" stroke="#4f95d4" stroke-width="0.55"/>
<line x1="528.97" y1="364.43" x2="528.97" y2="369.83" stroke="#4f95d4" stroke-width="0.55"/>
<line x1="529.31" y1="365.75" x2="529.31" y2="369.49" stroke="#4f95d4" stroke-width="0.55"/>
<line x1="529.79" y1="365.38" x2="529.79" y2="369.01" stroke="#4f95d4" stroke-width="0.55"/>
<line x1="530.21" y1="364.88" x2="530.21" y2="368.59" stroke="#4f95d4" stroke-width="0.55"/>
<line x1="530.45" y1="364.16" x2="530.45" y2="368.35" stroke="#4f95d4" stroke-width="0.55"/>
<line x1="530.92" y1="364.18" x2="530.92" y2="367.88" stroke="#4f95d4" stroke-width="0.55"/>
<line x1="531.18" y1="363.67" x2="531.18" y2="367.62" stroke="#4f95d4" stroke-width="0.55"/>
<line x1="531.51" y1="363.24" x2="531.51" y2="367.29" stroke="#4f95d4" stroke-width="0.55"/>
<line x1="531.8" y1="362.99" x2="531.8" y2="366.99" stroke="#4f95d4" stroke-width="0.55"/>
<line x1="532.29" y1="361.9" x2="532.29" y2="366.51" stroke="#4f95d4" stroke-width="0.55"/>
<line x1="532.52" y1="362.6" x2="532.52" y2="366.28" stroke="#4f95d4" stroke-width="0.55"/>
<line x1="532.9" y1="362.21" x2="532.9" y2="365.9" stroke="#4f95d4" stroke-width="0.55"/>
<line x1="533.32" y1="360.89" x2="533.32" y2="365.48" stroke="#4f95d4" stroke-width="0.55"/>
<line x1="533.67" y1="360.82" x2="533.67" y2="365.13" stroke="#4f95d4" stroke-width="0.55"/>
<line x1="533.96" y1="359.25" x2="533.96" y2="364.83" stroke="#4f95d4" stroke-width="0.55"/>
<line x1="534.43" y1="360.02" x2="534.43" y2="364.36" stroke="#4f95d4" stroke-width="0.55"/>
<line x1="534.96" y1="360.14" x2="534.96" y2="363.84" stroke="#4f95d4" stroke-width="0.55"/>
<line x1="535.22" y1="359.26" x2="535.22" y2="363.59" stroke="#4f95d4" stroke-width="0.55"/>
<line x1="535.66" y1="359.19" x2="535.66" y2="363.17" stroke="#4f95d4" stroke-width="0.55"/>
<line x1="535.95" y1="359.02" x2="535.95" y2="362.91" stroke="#4f95d4" stroke-width="0.55"/>
<line x1="536.23" y1="358.16" x2="536.23" y2="362.65" stroke="#4f95d4" stroke-width="0.55"/>
<line x1="536.59" y1="358.39" x2="536.59" y2="362.33" stroke="#4f95d4" stroke-width="0.55"/>
<line x1="536.88" y1="358.12" x2="536.88" y2="362.08" stroke="#4f95d4" stroke-width="0.55"/>
<line x1="537.32" y1="356.43" x2="537.32" y2="361.7" stroke="#4f95d4" stroke-width="0.55"/>
<line x1="537.83" y1="356.12" x2="537.83" y2="361.25" stroke="#4f95d4" stroke-width="0.55"/>
<line x1="538.27" y1="357.21" x2="538.27" y2="360.86" stroke="#4f95d4" stroke-width="0.55"/>
<line x1="538.51" y1="355.62" x2="538.51" y2="360.66" stroke="#4f95d4" stroke-width="0.55"/>
<line x1="538.92" y1="356.46" x2="538.92" y2="360.3" stroke="#4f95d4" stroke-width="0.55"/>
<line x1="539.2" y1="355.01" x2="539.2" y2="360.05" stroke="#4f95d4" stroke-width="0.55"/>
<line x1="539.52" y1="356.13" x2="539.52" y2="359.78" stroke="#4f95d4" stroke-width="0.55"/>
<line x1="539.85" y1="354.22" x2="539.85" y2="359.48" stroke="#4f95d4" stroke-width="0.55"/>
<line x1="540.22" y1="355.52" x2="540.22" y2="359.17" stroke="#4f95d4" stroke-width="0.55"/>
<line x1="540.49" y1="354.47" x2="540.49" y2="358.93" stroke="#4f95d4" stroke-width="0.55"/>
<line x1="541.02" y1="353.2" x2="541.02" y2="358.47" stroke="#4f95d4" stroke-width="0.55"/>
<line x1="541.39" y1="354.28" x2="541.39" y2="358.14" stroke="#4f95d4" stroke-width="0.55"/>
<line x1="541.65" y1="353.64" x2="541.65" y2="357.92" stroke="#4f95d4" stroke-width="0.55"/>
<line x1="541.94" y1="354.03" x2="541.94" y2="357.66" stroke="#4f95d4" stroke-width="0.55"/>
<line x1="542.44" y1="352.08" x2="542.44" y2="357.23" stroke="#4f95d4" stroke-width="0.55"/>
<line x1="542.96" y1="352.42" x2="542.96" y2="356.77" stroke="#4f95d4" stroke-width="0.55"/>
<line x1="543.3" y1="351.3" x2="543.3" y2="356.47" stroke="#4f95d4" stroke-width="0.55"/>
<line x1="543.57" y1="352.61" x2="543.57" y2="356.24" stroke="#4f95d4" stroke-width="0.55"/>
<line x1="543.97" y1="352.25" x2="543.97" y2="355.88" stroke="#4f95d4" stroke-width="0.55"/>
<line x1="544.45" y1="351.02" x2="544.45" y2="355.47" stroke="#4f95d4" stroke-width="0.55"/>
<line x1="544.69" y1="350.56" x2="544.69" y2="355.26" stroke="#4f95d4" stroke-width="0.55"/>
<line x1="544.94" y1="350.96" x2="544.94" y2="355.04" stroke="#4f95d4" stroke-width="0.55"/>
<line x1="545.44" y1="350.28" x2="545.44" y2="354.61" stroke="#4f95d4" stroke-width="0.55"/>
<line x1="545.72" y1="350.23" x2="545.72" y2="354.36" stroke="#4f95d4" stroke-width="0.55"/>
<line x1="546.07" y1="350.29" x2="546.07" y2="354.06" stroke="#4f95d4" stroke-width="0.55"/>
<line x1="546.33" y1="350" x2="546.33" y2="353.83" stroke="#4f95d4" stroke-width="0.55"/>
<line x1="546.73" y1="348.83" x2="546.73" y2="353.47" stroke="#4f95d4" stroke-width="0.55"/>
<line x1="547.09" y1="349.42" x2="547.09" y2="353.16" stroke="#4f95d4" stroke-width="0.55"/>
<line x1="547.34" y1="348.9" x2="547.34" y2="352.95" stroke="#4f95d4" stroke-width="0.55"/>
<line x1="547.77" y1="348.56" x2="547.77" y2="352.57" stroke="#4f95d4" stroke-width="0.55"/>
<line x1="548.19" y1="347.84" x2="548.19" y2="352.21" stroke="#4f95d4" stroke-width="0.55"/>
<line x1="548.46" y1="347.12" x2="548.46" y2="351.98" stroke="#4f95d4" stroke-width="0.55"/>
<line x1="548.71" y1="347.63" x2="548.71" y2="351.78" stroke="#4f95d4" stroke-width="0.55"/>
<line x1="549" y1="347.23" x2="549" y2="351.55" stroke="#4f95d4" stroke-width="0.55"/>
<line x1="549.48" y1="346.51" x2="549.48" y2="351.2" stroke="#4f95d4" stroke-width="0.55"/>
<line x1="549.72" y1="347.2" x2="549.72" y2="351.03" stroke="#4f95d4" stroke-width="0.55"/>
<line x1="550.19" y1="347.08" x2="550.19" y2="350.71" stroke="#4f95d4" stroke-width="0.55"/>
<line x1="550.48" y1="346.42" x2="550.48" y2="350.51" stroke="#4f95d4" stroke-width="0.55"/>
<line x1="550.91" y1="345.25" x2="550.91" y2="350.22" stroke="#4f95d4" stroke-width="0.55"/>
<line x1="551.42" y1="346.16" x2="551.42" y2="349.88" stroke="#4f95d4" stroke-width="0.55"/>
<line x1="551.65" y1="345.92" x2="551.65" y2="349.72" stroke="#4f95d4" stroke-width="0.55"/>
<line x1="552.17" y1="345.44" x2="552.17" y2="349.37" stroke="#4f95d4" stroke-width="0.55"/>
<line x1="552.64" y1="345.24" x2="552.64" y2="349.05" stroke="#4f95d4" stroke-width="0.55"/>
<line x1="552.9" y1="343.67" x2="552.9" y2="348.88" stroke="#4f95d4" stroke-width="0.55"/>
<line x1="553.41" y1="344.91" x2="553.41" y2="348.54" stroke="#4f95d4" stroke-width="0.55"/>
<line x1="553.8" y1="343.71" x2="553.8" y2="348.27" stroke="#4f95d4" stroke-width="0.55"/>
<line x1="554.21" y1="343.29" x2="554.21" y2="347.99" stroke="#4f95d4" stroke-width="0.55"/>
<line x1="554.46" y1="344.13" x2="554.46" y2="347.82" stroke="#4f95d4" stroke-width="0.55"/>
<line x1="554.78" y1="343.98" x2="554.78" y2="347.61" stroke="#4f95d4" stroke-width="0.55"/>
<line x1="555.23" y1="343.64" x2="555.23" y2="347.31" stroke="#4f95d4" stroke-width="0.55"/>
<line x1="555.7" y1="343.24" x2="555.7" y2="346.99" stroke="#4f95d4" stroke-width="0.55"/>
<line x1="556.13" y1="342.88" x2="556.13" y2="346.7" stroke="#4f95d4" stroke-width="0.55"/>
<line x1="556.39" y1="341.7" x2="556.39" y2="346.53" stroke="#4f95d4" stroke-width="0.55"/>
<line x1="556.72" y1="342.52" x2="556.72" y2="346.3" stroke="#4f95d4" stroke-width="0.55"/>
<line x1="557.2" y1="342.16" x2="557.2" y2="345.98" stroke="#4f95d4" stroke-width="0.55"/>
<line x1="557.54" y1="341.6" x2="557.54" y2="345.75" stroke="#4f95d4" stroke-width="0.55"/>
<line x1="557.81" y1="340.6" x2="557.81" y2="345.57" stroke="#4f95d4" stroke-width="0.55"/>
<line x1="558.27" y1="341.64" x2="558.27" y2="345.27" stroke="#4f95d4" stroke-width="0.55"/>
<line x1="558.53" y1="340.56" x2="558.53" y2="345.12" stroke="#4f95d4" stroke-width="0.55"/>
<line x1="558.92" y1="340.9" x2="558.92" y2="344.94" stroke="#4f95d4" stroke-width="0.55"/>
<line x1="559.33" y1="339.81" x2="559.33" y2="344.79" stroke="#4f95d4" stroke-width="0.55"/>
<line x1="559.78" y1="339.39" x2="559.78" y2="344.67" stroke="#4f95d4" stroke-width="0.55"/>
<line x1="560.26" y1="340.92" x2="560.26" y2="344.59" stroke="#4f95d4" stroke-width="0.55"/>
<line x1="560.69" y1="340.08" x2="560.69" y2="344.53" stroke="#4f95d4" stroke-width="0.55"/>
<line x1="561.18" y1="340.46" x2="561.18" y2="344.47" stroke="#4f95d4" stroke-width="0.55"/>
<line x1="561.54" y1="340.39" x2="561.54" y2="344.42" stroke="#4f95d4" stroke-width="0.55"/>
<line x1="561.86" y1="340.5" x2="561.86" y2="344.38" stroke="#4f95d4" stroke-width="0.55"/>
<line x1="562.12" y1="339.73" x2="562.12" y2="344.34" stroke="#4f95d4" stroke-width="0.55"/>
<line x1="562.54" y1="339.05" x2="562.54" y2="344.28" stroke="#4f95d4" stroke-width="0.55"/>
<line x1="563.02" y1="338.9" x2="563.02" y2="344.22" stroke="#4f95d4" stroke-width="0.55"/>
<line x1="563.33" y1="340.32" x2="563.33" y2="344.18" stroke="#4f95d4" stroke-width="0.55"/>
<line x1="563.56" y1="340.06" x2="563.56" y2="344.15" stroke="#4f95d4" stroke-width="0.55"/>
<line x1="564.07" y1="339.88" x2="564.07" y2="344.08" stroke="#4f95d4" stroke-width="0.55"/>
<line x1="564.53" y1="338.79" x2="564.53" y2="344.02" stroke="#4f95d4" stroke-width="0.55"/>
<line x1="564.92" y1="340.15" x2="564.92" y2="343.97" stroke="#4f95d4" stroke-width="0.55"/>
<line x1="565.24" y1="339.8" x2="565.24" y2="343.94" stroke="#4f95d4" stroke-width="0.55"/>
<line x1="565.63" y1="339.96" x2="565.63" y2="343.93" stroke="#4f95d4" stroke-width="0.55"/>
<line x1="566.01" y1="339.53" x2="566.01" y2="343.95" stroke="#4f95d4" stroke-width="0.55"/>
<line x1="566.52" y1="339.53" x2="566.52" y2="344" stroke="#4f95d4" stroke-width="0.55"/>
<line x1="566.96" y1="340.25" x2="566.96" y2="344.07" stroke="#4f95d4" stroke-width="0.55"/>
<line x1="567.25" y1="339.92" x2="567.25" y2="344.13" stroke="#4f95d4" stroke-width="0.55"/>
<line x1="567.48" y1="340.13" x2="567.48" y2="344.17" stroke="#4f95d4" stroke-width="0.55"/>
<line x1="568.01" y1="340.47" x2="568.01" y2="344.27" stroke="#4f95d4" stroke-width="0.55"/>
<line x1="568.44" y1="339.56" x2="568.44" y2="344.35" stroke="#4f95d4" stroke-width="0.55"/>
<line x1="568.9" y1="340.67" x2="568.9" y2="344.44" stroke="#4f95d4" stroke-width="0.55"/>
<line x1="569.13" y1="340.53" x2="569.13" y2="344.49" stroke="#4f95d4" stroke-width="0.55"/>
<line x1="569.44" y1="339.51" x2="569.44" y2="344.54" stroke="#4f95d4" stroke-width="0.55"/>
<line x1="569.84" y1="340.11" x2="569.84" y2="344.62" stroke="#4f95d4" stroke-width="0.55"/>
<line x1="570.28" y1="341.04" x2="570.28" y2="344.7" stroke="#4f95d4" stroke-width="0.55"/>
<line x1="570.53" y1="341.11" x2="570.53" y2="344.75" stroke="#4f95d4" stroke-width="0.55"/>
<line x1="570.79" y1="341.05" x2="570.79" y2="344.8" stroke="#4f95d4" stroke-width="0.55"/>
<line x1="571.31" y1="340.85" x2="571.31" y2="344.9" stroke="#4f95d4" stroke-width="0.55"/>
<line x1="571.77" y1="341.32" x2="571.77" y2="344.99" stroke="#4f95d4" stroke-width="0.55"/>
<line x1="572.09" y1="340.78" x2="572.09" y2="345.05" stroke="#4f95d4" stroke-width="0.55"/>
<line x1="572.45" y1="341.34" x2="572.45" y2="345.12" stroke="#4f95d4" stroke-width="0.55"/>
<line x1="572.96" y1="340.94" x2="572.96" y2="345.21" stroke="#4f95d4" stroke-width="0.55"/>
<line x1="573.2" y1="341.21" x2="573.2" y2="345.26" stroke="#4f95d4" stroke-width="0.55"/>
<line x1="573.68" y1="340.5" x2="573.68" y2="345.35" stroke="#4f95d4" stroke-width="0.55"/>
<line x1="573.99" y1="341.78" x2="573.99" y2="345.41" stroke="#4f95d4" stroke-width="0.55"/>
<line x1="574.49" y1="341.64" x2="574.49" y2="345.5" stroke="#4f95d4" stroke-width="0.55"/>
<line x1="574.9" y1="341.68" x2="574.9" y2="345.58" stroke="#4f95d4" stroke-width="0.55"/>
<line x1="575.17" y1="341.79" x2="575.17" y2="345.63" stroke="#4f95d4" stroke-width="0.55"/>
<line x1="575.51" y1="341.23" x2="575.51" y2="345.7" stroke="#4f95d4" stroke-width="0.55"/>
<line x1="575.81" y1="342.12" x2="575.81" y2="345.75" stroke="#4f95d4" stroke-width="0.55"/>
<line x1="576.29" y1="341.93" x2="576.29" y2="345.84" stroke="#4f95d4" stroke-width="0.55"/>
<line x1="576.63" y1="342.06" x2="576.63" y2="345.91" stroke="#4f95d4" stroke-width="0.55"/>
<line x1="577.09" y1="342.16" x2="577.09" y2="345.99" stroke="#4f95d4" stroke-width="0.55"/>
<line x1="577.48" y1="342.38" x2="577.48" y2="346.07" stroke="#4f95d4" stroke-width="0.55"/>
<line x1="577.94" y1="342.29" x2="577.94" y2="346.16" stroke="#4f95d4" stroke-width="0.55"/>
<line x1="578.4" y1="342.52" x2="578.4" y2="346.25" stroke="#4f95d4" stroke-width="0.55"/>
<line x1="578.69" y1="342.37" x2="578.69" y2="346.31" stroke="#4f95d4" stroke-width="0.55"/>
<line x1="579.12" y1="341.87" x2="579.12" y2="346.43" stroke="#4f95d4" stroke-width="0.55"/>
<line x1="579.36" y1="341.62" x2="579.36" y2="346.5" stroke="#4f95d4" stroke-width="0.55"/>
<line x1="579.66" y1="342.94" x2="579.66" y2="346.6" stroke="#4f95d4" stroke-width="0.55"/>
<line x1="579.92" y1="342.33" x2="579.92" y2="346.69" stroke="#4f95d4" stroke-width="0.55"/>
<line x1="580.17" y1="343.04" x2="580.17" y2="346.79" stroke="#4f95d4" stroke-width="0.55"/>
<line x1="580.45" y1="343.05" x2="580.45" y2="346.9" stroke="#4f95d4" stroke-width="0.55"/>
<line x1="580.71" y1="343.32" x2="580.71" y2="347" stroke="#4f95d4" stroke-width="0.55"/>
<line x1="581.08" y1="342.35" x2="581.08" y2="347.15" stroke="#4f95d4" stroke-width="0.55"/>
<line x1="581.33" y1="343.25" x2="581.33" y2="347.25" stroke="#4f95d4" stroke-width="0.55"/>
<line x1="581.73" y1="341.89" x2="581.73" y2="347.41" stroke="#4f95d4" stroke-width="0.55"/>
<line x1="582.21" y1="343.74" x2="582.21" y2="347.6" stroke="#4f95d4" stroke-width="0.55"/>
<line x1="582.6" y1="344.04" x2="582.6" y2="347.75" stroke="#4f95d4" stroke-width="0.55"/>
<line x1="583.09" y1="344.28" x2="583.09" y2="347.95" stroke="#4f95d4" stroke-width="0.55"/>
<line x1="583.39" y1="343.48" x2="583.39" y2="348.07" stroke="#4f95d4" stroke-width="0.55"/>
<line x1="583.84" y1="344.55" x2="583.84" y2="348.25" stroke="#4f95d4" stroke-width="0.55"/>
<line x1="584.16" y1="344.44" x2="584.16" y2="348.38" stroke="#4f95d4" stroke-width="0.55"/>
<line x1="584.5" y1="344.62" x2="584.5" y2="348.51" stroke="#4f95d4" stroke-width="0.55"/>
<line x1="584.87" y1="345.03" x2="584.87" y2="348.66" stroke="#4f95d4" stroke-width="0.55"/>
<line x1="585.3" y1="345.18" x2="585.3" y2="348.83" stroke="#4f95d4" stroke-width="0.55"/>
<line x1="585.67" y1="344.45" x2="585.67" y2="348.97" stroke="#4f95d4" stroke-width="0.55"/>
<line x1="585.96" y1="344.79" x2="585.96" y2="349.09" stroke="#4f95d4" stroke-width="0.55"/>
<line x1="586.39" y1="345.37" x2="586.39" y2="349.26" stroke="#4f95d4" stroke-width="0.55"/>
<line x1="586.9" y1="344.4" x2="586.9" y2="349.47" stroke="#4f95d4" stroke-width="0.55"/>
<line x1="587.24" y1="345.6" x2="587.24" y2="349.6" stroke="#4f95d4" stroke-width="0.55"/>
<line x1="587.53" y1="344.87" x2="587.53" y2="349.72" stroke="#4f95d4" stroke-width="0.55"/>
<line x1="587.78" y1="346.18" x2="587.78" y2="349.82" stroke="#4f95d4" stroke-width="0.55"/>
<line x1="588.14" y1="346.28" x2="588.14" y2="349.96" stroke="#4f95d4" stroke-width="0.55"/>
<line x1="588.6" y1="345.28" x2="588.6" y2="350.14" stroke="#4f95d4" stroke-width="0.55"/>
<line x1="588.95" y1="346.64" x2="588.95" y2="350.28" stroke="#4f95d4" stroke-width="0.55"/>
<line x1="589.46" y1="346.61" x2="589.46" y2="350.48" stroke="#4f95d4" stroke-width="0.55"/>
<line x1="589.84" y1="345.95" x2="589.84" y2="350.64" stroke="#4f95d4" stroke-width="0.55"/>
<line x1="590.37" y1="346.92" x2="590.37" y2="350.85" stroke="#4f95d4" stroke-width="0.55"/>
<line x1="590.85" y1="346.95" x2="590.85" y2="351.04" stroke="#4f95d4" stroke-width="0.55"/>
<line x1="591.21" y1="347.06" x2="591.21" y2="351.18" stroke="#4f95d4" stroke-width="0.55"/>
<line x1="591.53" y1="347.37" x2="591.53" y2="351.31" stroke="#4f95d4" stroke-width="0.55"/>
<line x1="591.96" y1="347.84" x2="591.96" y2="351.48" stroke="#4f95d4" stroke-width="0.55"/>
<line x1="592.24" y1="347.97" x2="592.24" y2="351.59" stroke="#4f95d4" stroke-width="0.55"/>
<line x1="592.65" y1="347.86" x2="592.65" y2="351.75" stroke="#4f95d4" stroke-width="0.55"/>
<line x1="593.05" y1="348.07" x2="593.05" y2="351.91" stroke="#4f95d4" stroke-width="0.55"/>
<line x1="593.35" y1="348.14" x2="593.35" y2="352.03" stroke="#4f95d4" stroke-width="0.55"/>
<line x1="593.62" y1="348.35" x2="593.62" y2="352.14" stroke="#4f95d4" stroke-width="0.55"/>
<line x1="594.02" y1="348.56" x2="594.02" y2="352.3" stroke="#4f95d4" stroke-width="0.55"/>
<line x1="594.32" y1="348.57" x2="594.32" y2="352.42" stroke="#4f95d4" stroke-width="0.55"/>
<line x1="594.68" y1="348.11" x2="594.68" y2="352.56" stroke="#4f95d4" stroke-width="0.55"/>
<line x1="595.11" y1="347.24" x2="595.11" y2="352.73" stroke="#4f95d4" stroke-width="0.55"/>
<line x1="595.42" y1="348.36" x2="595.42" y2="352.85" stroke="#4f95d4" stroke-width="0.55"/>
<line x1="595.66" y1="349.11" x2="595.66" y2="352.95" stroke="#4f95d4" stroke-width="0.55"/>
<line x1="595.89" y1="349.23" x2="595.89" y2="353.04" stroke="#4f95d4" stroke-width="0.55"/>
<line x1="596.41" y1="348.8" x2="596.41" y2="353.25" stroke="#4f95d4" stroke-width="0.55"/>
<line x1="596.8" y1="348.24" x2="596.8" y2="353.41" stroke="#4f95d4" stroke-width="0.55"/>
<line x1="597.22" y1="349.82" x2="597.22" y2="353.58" stroke="#4f95d4" stroke-width="0.55"/>
<line x1="597.52" y1="349.21" x2="597.52" y2="353.71" stroke="#4f95d4" stroke-width="0.55"/>
<line x1="597.99" y1="348.31" x2="597.99" y2="353.9" stroke="#4f95d4" stroke-width="0.55"/>
<line x1="598.27" y1="350.23" x2="598.27" y2="354.01" stroke="#4f95d4" stroke-width="0.55"/>
<line x1="598.67" y1="350.27" x2="598.67" y2="354.18" stroke="#4f95d4" stroke-width="0.55"/>
<line x1="598.98" y1="350.48" x2="598.98" y2="354.3" stroke="#4f95d4" stroke-width="0.55"/>
<line x1="599.36" y1="350.72" x2="599.36" y2="354.46" stroke="#4f95d4" stroke-width="0.55"/>
<line x1="599.81" y1="350.35" x2="599.81" y2="354.64" stroke="#4f95d4" stroke-width="0.55"/>
<line x1="600.24" y1="351.17" x2="600.24" y2="354.81" stroke="#4f95d4" stroke-width="0.55"/>
<line x1="600.61" y1="350.25" x2="600.61" y2="354.97" stroke="#4f95d4" stroke-width="0.55"/>
<line x1="601.04" y1="351.12" x2="601.04" y2="355.14" stroke="#4f95d4" stroke-width="0.55"/>
<line x1="601.5" y1="351.47" x2="601.5" y2="355.33" stroke="#4f95d4" stroke-width="0.55"/>
<line x1="602.02" y1="351.72" x2="602.02" y2="355.54" stroke="#4f95d4" stroke-width="0.55"/>
<line x1="602.53" y1="351.65" x2="602.53" y2="355.75" stroke="#4f95d4" stroke-width="0.55"/>
<line x1="602.98" y1="351.77" x2="602.98" y2="355.93" stroke="#4f95d4" stroke-width="0.55"/>
<line x1="603.44" y1="352.43" x2="603.44" y2="356.12" stroke="#4f95d4" stroke-width="0.55"/>
<line x1="603.73" y1="352.59" x2="603.73" y2="356.24" stroke="#4f95d4" stroke-width="0.55"/>
<line x1="604" y1="352.33" x2="604" y2="356.34" stroke="#4f95d4" stroke-width="0.55"/>
<line x1="604.25" y1="351.58" x2="604.25" y2="356.45" stroke="#4f95d4" stroke-width="0.55"/>
<line x1="604.65" y1="352.42" x2="604.65" y2="356.61" stroke="#4f95d4" stroke-width="0.55"/>
<line x1="605.01" y1="352.94" x2="605.01" y2="356.76" stroke="#4f95d4" stroke-width="0.55"/>
<line x1="605.24" y1="352.98" x2="605.24" y2="356.85" stroke="#4f95d4" stroke-width="0.55"/>
<line x1="605.58" y1="351.69" x2="605.58" y2="356.99" stroke="#4f95d4" stroke-width="0.55"/>
<line x1="606.06" y1="352.64" x2="606.06" y2="357.18" stroke="#4f95d4" stroke-width="0.55"/>
<line x1="606.5" y1="353.31" x2="606.5" y2="357.36" stroke="#4f95d4" stroke-width="0.55"/>
<line x1="606.96" y1="353.75" x2="606.96" y2="357.55" stroke="#4f95d4" stroke-width="0.55"/>
<line x1="607.44" y1="352.96" x2="607.44" y2="357.74" stroke="#4f95d4" stroke-width="0.55"/>
<line x1="607.93" y1="354.05" x2="607.93" y2="357.94" stroke="#4f95d4" stroke-width="0.55"/>
<line x1="608.16" y1="353.53" x2="608.16" y2="358.04" stroke="#4f95d4" stroke-width="0.55"/>
<line x1="608.47" y1="354.54" x2="608.47" y2="358.16" stroke="#4f95d4" stroke-width="0.55"/>
<line x1="608.75" y1="354.65" x2="608.75" y2="358.28" stroke="#4f95d4" stroke-width="0.55"/>
<line x1="609.04" y1="354.35" x2="609.04" y2="358.4" stroke="#4f95d4" stroke-width="0.55"/>
<line x1="609.57" y1="354.98" x2="609.57" y2="358.61" stroke="#4f95d4" stroke-width="0.55"/>
<line x1="610.08" y1="354.87" x2="610.08" y2="358.82" stroke="#4f95d4" stroke-width="0.55"/>
<line x1="610.4" y1="354.95" x2="610.4" y2="358.95" stroke="#4f95d4" stroke-width="0.55"/>
<line x1="610.76" y1="355.19" x2="610.76" y2="359.09" stroke="#4f95d4" stroke-width="0.55"/>
<line x1="611" y1="355.54" x2="611" y2="359.19" stroke="#4f95d4" stroke-width="0.55"/>
<line x1="611.26" y1="354.69" x2="611.26" y2="359.3" stroke="#4f95d4" stroke-width="0.55"/>
<line x1="611.56" y1="354.49" x2="611.56" y2="359.42" stroke="#4f95d4" stroke-width="0.55"/>
<line x1="611.89" y1="355.72" x2="611.89" y2="359.55" stroke="#4f95d4" stroke-width="0.55"/>
<line x1="612.4" y1="356.05" x2="612.4" y2="359.74" stroke="#4f95d4" stroke-width="0.55"/>
<line x1="612.67" y1="355.6" x2="612.67" y2="359.83" stroke="#4f95d4" stroke-width="0.55"/>
<line x1="613.12" y1="355.93" x2="613.12" y2="359.96" stroke="#4f95d4" stroke-width="0.55"/>
<line x1="613.59" y1="356.34" x2="613.59" y2="360.09" stroke="#4f95d4" stroke-width="0.55"/>
<line x1="613.87" y1="355.24" x2="613.87" y2="360.16" stroke="#4f95d4" stroke-width="0.55"/>
<line x1="614.34" y1="356.59" x2="614.34" y2="360.26" stroke="#4f95d4" stroke-width="0.55"/>
<line x1="614.76" y1="356.56" x2="614.76" y2="360.36" stroke="#4f95d4" stroke-width="0.55"/>
<line x1="615.05" y1="356.66" x2="615.05" y2="360.43" stroke="#4f95d4" stroke-width="0.55"/>
<line x1="615.47" y1="356.76" x2="615.47" y2="360.52" stroke="#4f95d4" stroke-width="0.55"/>
<line x1="615.82" y1="356.11" x2="615.82" y2="360.6" stroke="#4f95d4" stroke-width="0.55"/>
<line x1="616.06" y1="356.67" x2="616.06" y2="360.66" stroke="#4f95d4" stroke-width="0.55"/>
<line x1="616.37" y1="356.11" x2="616.37" y2="360.73" stroke="#4f95d4" stroke-width="0.55"/>
<line x1="616.78" y1="356.78" x2="616.78" y2="360.83" stroke="#4f95d4" stroke-width="0.55"/>
<line x1="617.11" y1="356.88" x2="617.11" y2="360.9" stroke="#4f95d4" stroke-width="0.55"/>
<line x1="617.38" y1="356.94" x2="617.38" y2="360.96" stroke="#4f95d4" stroke-width="0.55"/>
<line x1="617.86" y1="355.89" x2="617.86" y2="361.07" stroke="#4f95d4" stroke-width="0.55"/>
<line x1="618.32" y1="357.34" x2="618.32" y2="361.18" stroke="#4f95d4" stroke-width="0.55"/>
<line x1="618.77" y1="357.58" x2="618.77" y2="361.28" stroke="#4f95d4" stroke-width="0.55"/>
<line x1="619.02" y1="357.66" x2="619.02" y2="361.34" stroke="#4f95d4" stroke-width="0.55"/>
<line x1="619.29" y1="355.93" x2="619.29" y2="361.4" stroke="#4f95d4" stroke-width="0.55"/>
<line x1="619.66" y1="357.81" x2="619.66" y2="361.49" stroke="#4f95d4" stroke-width="0.55"/>
<line x1="620.04" y1="357.52" x2="620.04" y2="361.58" stroke="#4f95d4" stroke-width="0.55"/>
<line x1="620.48" y1="357.12" x2="620.48" y2="361.68" stroke="#4f95d4" stroke-width="0.55"/>
<line x1="620.74" y1="358.05" x2="620.74" y2="361.74" stroke="#4f95d4" stroke-width="0.55"/>
<line x1="621.12" y1="357.82" x2="621.12" y2="361.82" stroke="#4f95d4" stroke-width="0.55"/>
<line x1="621.41" y1="357.92" x2="621.41" y2="361.89" stroke="#4f95d4" stroke-width="0.55"/>
<line x1="621.85" y1="357.72" x2="621.85" y2="361.99" stroke="#4f95d4" stroke-width="0.55"/>
<line x1="622.21" y1="356.48" x2="622.21" y2="362.06" stroke="#4f95d4" stroke-width="0.55"/>
<line x1="622.63" y1="358.36" x2="622.63" y2="362.09" stroke="#4f95d4" stroke-width="0.55"/>
<line x1="623.05" y1="358.43" x2="623.05" y2="362.08" stroke="#4f95d4" stroke-width="0.55"/>
<line x1="623.57" y1="358.1" x2="623.57" y2="361.99" stroke="#4f95d4" stroke-width="0.55"/>
<line x1="623.94" y1="357.84" x2="623.94" y2="361.89" stroke="#4f95d4" stroke-width="0.55"/>
<line x1="624.18" y1="356.86" x2="624.18" y2="361.8" stroke="#4f95d4" stroke-width="0.55"/>
<line x1="624.54" y1="357.97" x2="624.54" y2="361.67" stroke="#4f95d4" stroke-width="0.55"/>
<line x1="624.8" y1="357.84" x2="624.8" y2="361.58" stroke="#4f95d4" stroke-width="0.55"/>
<line x1="625.11" y1="357.61" x2="625.11" y2="361.47" stroke="#4f95d4" stroke-width="0.55"/>
<line x1="625.37" y1="357.73" x2="625.37" y2="361.38" stroke="#4f95d4" stroke-width="0.55"/>
<line x1="625.76" y1="357.3" x2="625.76" y2="361.24" stroke="#4f95d4" stroke-width="0.55"/>
<line x1="626.04" y1="356.78" x2="626.04" y2="361.14" stroke="#4f95d4" stroke-width="0.55"/>
<line x1="626.37" y1="357.33" x2="626.37" y2="361.02" stroke="#4f95d4" stroke-width="0.55"/>
<line x1="626.89" y1="357.14" x2="626.89" y2="360.84" stroke="#4f95d4" stroke-width="0.55"/>
<line x1="627.34" y1="355.23" x2="627.34" y2="360.68" stroke="#4f95d4" stroke-width="0.55"/>
<line x1="627.71" y1="355.61" x2="627.71" y2="360.54" stroke="#4f95d4" stroke-width="0.55"/>
<line x1="628.02" y1="356.05" x2="628.02" y2="360.43" stroke="#4f95d4" stroke-width="0.55"/>
<line x1="628.47" y1="356.59" x2="628.47" y2="360.27" stroke="#4f95d4" stroke-width="0.55"/>
<line x1="628.99" y1="356.24" x2="628.99" y2="360.06" stroke="#4f95d4" stroke-width="0.55"/>
<line x1="629.32" y1="356.13" x2="629.32" y2="359.9" stroke="#4f95d4" stroke-width="0.55"/>
<line x1="629.68" y1="355.73" x2="629.68" y2="359.68" stroke="#4f95d4" stroke-width="0.55"/>
<line x1="630.17" y1="355.61" x2="630.17" y2="359.36" stroke="#4f95d4" stroke-width="0.55"/>
<line x1="630.62" y1="355.24" x2="630.62" y2="359.01" stroke="#4f95d4" stroke-width="0.55"/>
<line x1="630.97" y1="353.49" x2="630.97" y2="358.72" stroke="#4f95d4" stroke-width="0.55"/>
<line x1="631.38" y1="354.75" x2="631.38" y2="358.4" stroke="#4f95d4" stroke-width="0.55"/>
<line x1="631.79" y1="352.45" x2="631.79" y2="358.02" stroke="#4f95d4" stroke-width="0.55"/>
<line x1="632.11" y1="352.41" x2="632.11" y2="357.6" stroke="#4f95d4" stroke-width="0.55"/>
<line x1="632.42" y1="353.18" x2="632.42" y2="357.12" stroke="#4f95d4" stroke-width="0.55"/>
<line x1="632.75" y1="352.77" x2="632.75" y2="356.49" stroke="#4f95d4" stroke-width="0.55"/>
<line x1="633.05" y1="351.37" x2="633.05" y2="355.84" stroke="#4f95d4" stroke-width="0.55"/>
<line x1="633.47" y1="349.46" x2="633.47" y2="354.6" stroke="#4f95d4" stroke-width="0.55"/>
<line x1="633.77" y1="348.2" x2="633.77" y2="353.5" stroke="#4f95d4" stroke-width="0.55"/>
<line x1="634.29" y1="346.71" x2="634.29" y2="351.58" stroke="#4f95d4" stroke-width="0.55"/>
<line x1="634.77" y1="346.21" x2="634.77" y2="350.21" stroke="#4f95d4" stroke-width="0.55"/>
<line x1="635.11" y1="345.74" x2="635.11" y2="349.62" stroke="#4f95d4" stroke-width="0.55"/>
<line x1="635.5" y1="345.28" x2="635.5" y2="349.53" stroke="#4f95d4" stroke-width="0.55"/>
<line x1="635.83" y1="344.68" x2="635.83" y2="349.92" stroke="#4f95d4" stroke-width="0.55"/>
<line x1="636.32" y1="347.14" x2="636.32" y2="351.06" stroke="#4f95d4" stroke-width="0.55"/>
<line x1="636.77" y1="347.64" x2="636.77" y2="352.26" stroke="#4f95d4" stroke-width="0.55"/>
<line x1="637.01" y1="348.2" x2="637.01" y2="352.9" stroke="#4f95d4" stroke-width="0.55"/>
<line x1="637.38" y1="349.54" x2="637.38" y2="353.76" stroke="#4f95d4" stroke-width="0.55"/>
<line x1="637.84" y1="350.65" x2="637.84" y2="354.69" stroke="#4f95d4" stroke-width="0.55"/>
<line x1="638.17" y1="351.67" x2="638.17" y2="355.35" stroke="#4f95d4" stroke-width="0.55"/>
<line x1="638.5" y1="352.35" x2="638.5" y2="356.02" stroke="#4f95d4" stroke-width="0.55"/>
<line x1="638.79" y1="353.01" x2="638.79" y2="356.65" stroke="#4f95d4" stroke-width="0.55"/>
<line x1="639.24" y1="353.8" x2="639.24" y2="357.63" stroke="#4f95d4" stroke-width="0.55"/>
<line x1="639.59" y1="353.04" x2="639.59" y2="358.39" stroke="#4f95d4" stroke-width="0.55"/>
<line x1="639.91" y1="354.18" x2="639.91" y2="359.08" stroke="#4f95d4" stroke-width="0.55"/>
<line x1="640.28" y1="354.73" x2="640.28" y2="359.85" stroke="#4f95d4" stroke-width="0.55"/>
<line x1="640.6" y1="355.73" x2="640.6" y2="360.49" stroke="#4f95d4" stroke-width="0.55"/>
<line x1="640.86" y1="356.27" x2="640.86" y2="361" stroke="#4f95d4" stroke-width="0.55"/>
<line x1="641.24" y1="357.65" x2="641.24" y2="361.73" stroke="#4f95d4" stroke-width="0.55"/>
<line x1="641.74" y1="358.74" x2="641.74" y2="362.67" stroke="#4f95d4" stroke-width="0.55"/>
<line x1="642.07" y1="358.9" x2="642.07" y2="363.31" stroke="#4f95d4" stroke-width="0.55"/>
<line x1="642.51" y1="360.25" x2="642.51" y2="364.13" stroke="#4f95d4" stroke-width="0.55"/>
<line x1="642.75" y1="360.37" x2="642.75" y2="364.57" stroke="#4f95d4" stroke-width="0.55"/>
<line x1="643.19" y1="361.66" x2="643.19" y2="365.37" stroke="#4f95d4" stroke-width="0.55"/>
<line x1="643.58" y1="360.97" x2="643.58" y2="366.06" stroke="#4f95d4" stroke-width="0.55"/>
<line x1="643.91" y1="362.64" x2="643.91" y2="366.64" stroke="#4f95d4" stroke-width="0.55"/>
<line x1="644.38" y1="363.39" x2="644.38" y2="367.45" stroke="#4f95d4" stroke-width="0.55"/>
<line x1="644.91" y1="364.36" x2="644.91" y2="368.36" stroke="#4f95d4" stroke-width="0.55"/>
<line x1="645.35" y1="365.08" x2="645.35" y2="369.12" stroke="#4f95d4" stroke-width="0.55"/>
<line x1="645.67" y1="365.5" x2="645.67" y2="369.67" stroke="#4f95d4" stroke-width="0.55"/>
<line x1="645.95" y1="365.92" x2="645.95" y2="370.16" stroke="#4f95d4" stroke-width="0.55"/>
<line x1="646.38" y1="366.97" x2="646.38" y2="370.9" stroke="#4f95d4" stroke-width="0.55"/>
<line x1="646.91" y1="367.18" x2="646.91" y2="371.82" stroke="#4f95d4" stroke-width="0.55"/>
<line x1="647.19" y1="367.54" x2="647.19" y2="372.3" stroke="#4f95d4" stroke-width="0.55"/>
<line x1="647.64" y1="368.75" x2="647.64" y2="373.09" stroke="#4f95d4" stroke-width="0.55"/>
<line x1="648.15" y1="370.33" x2="648.15" y2="373.96" stroke="#4f95d4" stroke-width="0.55"/>
<line x1="648.53" y1="369.16" x2="648.53" y2="374.62" stroke="#4f95d4" stroke-width="0.55"/>
<line x1="649.04" y1="370.82" x2="649.04" y2="375.52" stroke="#4f95d4" stroke-width="0.55"/>
<line x1="649.44" y1="372.41" x2="649.44" y2="376.24" stroke="#4f95d4" stroke-width="0.55"/>
<line x1="649.91" y1="372.93" x2="649.91" y2="377.13" stroke="#4f95d4" stroke-width="0.55"/>
<line x1="650.22" y1="373.85" x2="650.22" y2="377.73" stroke="#4f95d4" stroke-width="0.55"/>
<line x1="650.6" y1="374.78" x2="650.6" y2="378.5" stroke="#4f95d4" stroke-width="0.55"/>
<line x1="650.83" y1="374.8" x2="650.83" y2="378.98" stroke="#4f95d4" stroke-width="0.55"/>
<line x1="651.28" y1="376.16" x2="651.28" y2="379.92" stroke="#4f95d4" stroke-width="0.55"/>
<line x1="651.66" y1="376.85" x2="651.66" y2="380.71" stroke="#4f95d4" stroke-width="0.55"/>
<line x1="652.16" y1="377.86" x2="652.16" y2="381.75" stroke="#4f95d4" stroke-width="0.55"/>
<line x1="652.61" y1="377.84" x2="652.61" y2="382.68" stroke="#4f95d4" stroke-width="0.55"/>
<line x1="653.05" y1="379.45" x2="653.05" y2="383.59" stroke="#4f95d4" stroke-width="0.55"/>
<line x1="653.55" y1="380.91" x2="653.55" y2="384.65" stroke="#4f95d4" stroke-width="0.55"/>
<line x1="653.92" y1="381.76" x2="653.92" y2="385.39" stroke="#4f95d4" stroke-width="0.55"/>
<rect x="559.98" y="328.63" width="0.9" height="57.37" fill="#4f95d4"/>
<rect x="517.52" y="372.39" width="0.8" height="13.61" fill="#4f95d4"/>
<rect x="553.73" y="338.87" width="0.8" height="47.13" fill="#4f95d4"/>
<polygon points="510.36,386 510.36,388.87 510.61,386.87 510.86,387.06 511.11,387.47 511.37,386.49 511.62,386.43 511.87,385.46 512.12,386.06 512.37,385.3 512.63,384.29 512.88,385.19 513.13,385.22 513.38,384.63 513.63,383.99 513.89,384.42 514.14,383.39 514.39,382.84 514.64,383.77 514.89,383.07 515.15,383.36 515.4,382.86 515.65,382.16 515.9,382.13 516.15,381.81 516.4,382.08 516.66,380.17 516.91,381.56 517.16,379.68 517.41,381.01 517.66,380.17 517.92,379.72 518.17,378.79 518.42,379.07 518.67,378.77 518.92,379.26 519.18,379.4 519.43,377.68 519.68,378.61 519.93,377.16 520.18,378.14 520.44,376.69 520.69,377.35 520.94,376.2 521.19,376.77 521.44,376.52 521.7,376.5 521.95,375.66 522.2,374.95 522.45,374.54 522.7,375.03 522.95,375.39 523.21,374.37 523.46,373.93 523.71,374.12 523.96,374.51 524.21,373.62 524.47,372.85 524.72,372.39 524.97,372.23 525.22,372.89 525.47,372.22 525.73,372.29 525.98,371.44 526.23,370.76 526.48,371.61 526.73,370.87 526.99,371.29 527.24,370.8 527.49,369.38 527.74,369.31 527.99,368.89 528.25,368.91 528.5,368.9 528.75,369.33 529,367.89 529.25,368.2 529.51,368.49 529.76,368.81 530.01,367.38 530.26,368.2 530.51,367.43 530.76,367.1 531.02,366.58 531.27,367.14 531.52,365.48 531.77,366.64 532.02,366.13 532.28,365.38 532.53,365.2 532.78,365.42 533.03,365.38 533.28,364.26 533.54,364.34 533.79,364.03 534.04,363.57 534.29,362.95 534.54,362.27 534.8,363.63 535.05,362.86 535.3,361.59 535.55,361.69 535.8,361.45 536.06,362.2 536.31,362.37 536.56,361.79 536.81,360.68 537.06,360.13 537.31,359.94 537.57,359.64 537.82,360.77 538.07,360.24 538.32,359.41 538.57,360.2 538.83,358.86 539.08,358.67 539.33,358.66 539.58,358.54 539.83,359.11 540.09,357.87 540.34,358.53 540.59,357.14 540.84,358.23 541.09,358.02 541.35,357.66 541.6,357.25 541.85,356.87 542.1,355.75 542.35,355.87 542.61,355.18 542.86,356.06 543.11,355.55 543.36,354.79 543.61,355.69 543.86,354.57 544.12,354.72 544.37,353.83 544.62,353.56 544.87,354.78 545.12,354.31 545.38,353.41 545.63,353.95 545.88,353.19 546.13,353.12 546.38,353.59 546.64,352.77 546.89,352.33 547.14,352.86 547.39,351.5 547.64,352 547.9,351.8 548.15,351.1 548.4,350.05 548.65,350.63 548.9,349.87 549.16,350.11 549.41,350.41 549.66,349.45 549.91,349.01 550.16,349.99 550.41,349.03 550.67,349.05 550.92,349.04 551.17,349.75 551.42,349.11 551.67,348.65 551.93,348.91 552.18,348.55 552.43,349 552.68,348.02 552.93,347.64 553.19,348.2 553.44,347.79 553.69,346.85 553.94,346.3 554.19,346.16 554.45,347.51 554.7,346.43 554.95,346.67 555.2,346.37 555.45,346.85 555.71,345.18 555.96,346.17 556.21,346.17 556.46,345.02 556.71,345.4 556.97,344.86 557.22,344.61 557.47,344.29 557.72,344.36 557.97,343.81 558.22,344.5 558.48,344.63 558.73,343.26 558.98,343.06 559.23,344.04 559.48,343.38 559.74,343.26 559.99,344.34 560.24,344.33 560.49,343.77 560.74,343.26 561,343.47 561.25,342.6 561.5,342.45 561.75,343.1 562,343.58 562.26,343.86 562.51,342.72 562.76,342.6 563.01,343.06 563.26,343 563.52,342.88 563.77,342.6 564.02,342.62 564.27,342.47 564.52,342.44 564.77,342.98 565.03,342.83 565.28,343.52 565.53,342.89 565.78,342.35 566.03,341.97 566.29,342.42 566.54,343.77 566.79,343.75 567.04,342.9 567.29,342.25 567.55,343.73 567.8,342.72 568.05,343.81 568.3,342.74 568.55,342.42 568.81,343.09 569.06,342.84 569.31,343.75 569.56,344.19 569.81,344.32 570.07,343.75 570.32,344.42 570.57,343.83 570.82,342.91 571.07,344.27 571.32,344.25 571.58,344.35 571.83,343.44 572.08,344.32 572.33,344.52 572.58,344.68 572.84,343.43 573.09,343.69 573.34,344.59 573.59,344.27 573.84,344.91 574.1,344.16 574.35,344.24 574.6,344.96 574.85,344.74 575.1,343.87 575.36,343.92 575.61,344.99 575.86,345.38 576.11,345.61 576.36,345.4 576.62,345.55 576.87,344.53 577.12,345.2 577.37,344.57 577.62,344.14 577.88,345.54 578.13,344.76 578.38,345.15 578.63,345.34 578.88,346.15 579.13,345.68 579.39,346.11 579.64,346.16 579.89,346.18 580.14,346.33 580.39,345.79 580.65,346.15 580.9,345.23 581.15,346.61 581.4,345.5 581.65,346.7 581.91,346.82 582.16,347.32 582.41,346.76 582.66,346.94 582.91,346.45 583.17,346.81 583.42,346.65 583.67,346.41 583.92,347.38 584.17,347.44 584.43,347.6 584.68,347.66 584.93,346.69 585.18,347.5 585.43,348.24 585.68,348.12 585.94,348.54 586.19,347.47 586.44,347.46 586.69,347.94 586.94,348.13 587.2,348.83 587.45,349.5 587.7,348.06 587.95,348.63 588.2,349.38 588.46,348.56 588.71,348.71 588.96,349.15 589.21,348.98 589.46,349.16 589.72,350 589.97,350.02 590.22,349.75 590.47,349.76 590.72,350.4 590.98,349.23 591.23,350.06 591.48,349.63 591.73,350.89 591.98,350.47 592.23,349.91 592.49,349.94 592.74,350.92 592.99,350.23 593.24,351.53 593.49,351.72 593.75,350.55 594,351.29 594.25,351.49 594.5,351.05 594.75,351.54 595.01,351.14 595.26,351.38 595.51,351.77 595.76,352.14 596.01,352.22 596.27,352.65 596.52,353.01 596.77,351.92 597.02,352.73 597.27,351.91 597.53,352.37 597.78,353.26 598.03,352.3 598.28,353.16 598.53,353.13 598.79,352.75 599.04,353.4 599.29,352.78 599.54,353.65 599.79,352.77 600.04,352.79 600.3,353.98 600.55,354.16 600.8,353.49 601.05,354.01 601.3,353.43 601.56,355.12 601.81,354.43 602.06,353.85 602.31,354.62 602.56,354.78 602.82,354.75 603.07,354.57 603.32,355.16 603.57,354.76 603.82,354.7 604.08,355.98 604.33,356.16 604.58,356.21 604.83,355.14 605.08,356.5 605.34,355.42 605.59,356.71 605.84,356.15 606.09,355.21 606.34,355.54 606.59,356.61 606.85,357.31 607.1,356.93 607.35,356.96 607.6,356.07 607.85,356.81 608.11,357.74 608.36,356.37 608.61,356.49 608.86,357.78 609.11,357.27 609.37,357.51 609.62,357.39 609.87,357.1 610.12,356.99 610.37,358.66 610.63,357.89 610.88,357.94 611.13,358.57 611.38,358.64 611.63,357.82 611.89,358.55 612.14,358.66 612.39,359.45 612.64,358.48 612.89,358.15 613.14,358.71 613.4,358.19 613.65,358.47 613.9,358.76 614.15,359.51 614.4,358.58 614.66,358.49 614.91,360.03 615.16,358.85 615.41,359.58 615.66,359.92 615.92,359.2 616.17,360.4 616.42,360.49 616.67,360.09 616.92,359.62 617.18,359.72 617.43,359.14 617.68,359.33 617.93,359.46 618.18,360.26 618.44,360.34 618.69,360.68 618.94,360.97 619.19,359.88 619.44,360.03 619.69,359.81 619.95,359.7 620.2,359.73 620.45,360.96 620.7,360.19 620.95,359.92 621.21,360.78 621.46,360.64 621.71,361.62 621.96,361.35 622.21,360.35 622.47,360.23 622.72,360.83 622.97,361.28 623.22,360.69 623.47,361.23 623.73,361.32 623.98,361.37 624.23,361.06 624.48,360.5 624.73,360.42 624.99,360.25 625.24,361.18 625.49,360.98 625.74,360.82 625.99,360.33 626.25,359.68 626.5,360.49 626.75,360.1 627,359.03 627.25,360.25 627.5,358.84 627.76,359.45 628.01,360.04 628.26,359.87 628.51,359.16 628.76,359.62 629.02,359.5 629.27,359.31 629.52,358.69 629.77,359.42 630.02,358.4 630.28,358.07 630.53,358.49 630.78,358.42 631.03,358.44 631.28,357.35 631.54,356.47 631.79,356.79 632.04,356.45 632.29,355.86 632.54,356.27 632.8,354.44 633.05,354.53 633.3,353.48 633.55,352.65 633.8,351.51 634.05,350.51 634.31,350.61 634.56,350.14 634.81,348.71 635.06,348.87 635.31,348.95 635.57,348.79 635.82,347.92 636.07,349.4 636.32,349.47 636.57,350.17 636.83,351.87 637.08,351.36 637.33,353.31 637.58,353.38 637.83,352.75 638.09,353.64 638.34,354.01 638.59,354.39 638.84,355.06 639.09,356.05 639.35,356.18 639.6,356.65 639.85,357.03 640.1,357.58 640.35,358.06 640.6,359.86 640.86,360.39 641.11,360.47 641.36,360.88 641.61,361.01 641.86,362.03 642.12,361.78 642.37,361.98 642.62,363.42 642.87,363.43 643.12,364.46 643.38,364.01 643.63,365.96 643.88,366.38 644.13,365.37 644.38,366.18 644.64,367.11 644.89,367.51 645.14,367.46 645.39,368.86 645.64,368.18 645.9,368.69 646.15,370.11 646.4,370.68 646.65,370.86 646.9,369.89 647.16,371.66 647.41,371.39 647.66,372.22 647.91,371.64 648.16,372.01 648.41,372.73 648.67,373.72 648.92,374.8 649.17,374.74 649.42,375.57 649.67,376.32 649.93,375.42 650.18,376.79 650.43,376.36 650.68,378.36 650.93,378.21 651.19,378.89 651.44,378.92 651.69,379.64 651.94,379.47 652.19,380.98 652.45,382.06 652.7,381.44 652.95,382.4 653.2,382.12 653.45,382.89 653.71,384.19 653.96,383.57 654.21,385.56 654.46,385.32 654.71,386.3 654.96,386.61 655.22,387.27 655.37,386" fill="#0a5ba8"/>
<rect x="488" y="311.5" width="173.2" height="74.5" fill="none" stroke="#3a3a3a" stroke-width="0.9"/>
<line x1="484.2" y1="313.5" x2="488" y2="313.5" stroke="#3a3a3a" stroke-width="0.9"/>
<line x1="484.2" y1="331.62" x2="488" y2="331.62" stroke="#3a3a3a" stroke-width="0.9"/>
<line x1="484.2" y1="349.74" x2="488" y2="349.74" stroke="#3a3a3a" stroke-width="0.9"/>
<line x1="484.2" y1="367.86" x2="488" y2="367.86" stroke="#3a3a3a" stroke-width="0.9"/>
<line x1="484.2" y1="385.98" x2="488" y2="385.98" stroke="#3a3a3a" stroke-width="0.9"/>
<line x1="503.75" y1="386" x2="503.75" y2="389.8" stroke="#3a3a3a" stroke-width="0.9"/>
<text x="503.75" y="400.83" font-size="7.3" text-anchor="middle" fill="#2a2526" stroke="#2a2526" stroke-width="0.1">1200</text>
<line x1="535.24" y1="386" x2="535.24" y2="389.8" stroke="#3a3a3a" stroke-width="0.9"/>
<text x="535.24" y="400.83" font-size="7.3" text-anchor="middle" fill="#2a2526" stroke="#2a2526" stroke-width="0.1">1400</text>
<line x1="566.73" y1="386" x2="566.73" y2="389.8" stroke="#3a3a3a" stroke-width="0.9"/>
<text x="566.73" y="400.83" font-size="7.3" text-anchor="middle" fill="#2a2526" stroke="#2a2526" stroke-width="0.1">1600</text>
<line x1="598.22" y1="386" x2="598.22" y2="389.8" stroke="#3a3a3a" stroke-width="0.9"/>
<text x="598.22" y="400.83" font-size="7.3" text-anchor="middle" fill="#2a2526" stroke="#2a2526" stroke-width="0.1">1800</text>
<line x1="629.71" y1="386" x2="629.71" y2="389.8" stroke="#3a3a3a" stroke-width="0.9"/>
<text x="629.71" y="400.83" font-size="7.3" text-anchor="middle" fill="#2a2526" stroke="#2a2526" stroke-width="0.1">2000</text>
<line x1="661.2" y1="386" x2="661.2" y2="389.8" stroke="#3a3a3a" stroke-width="0.9"/>
<text x="661.2" y="400.83" font-size="7.3" text-anchor="middle" fill="#2a2526" stroke="#2a2526" stroke-width="0.1">2200</text>
<text x="574.6" y="412.93" font-size="7.3" text-anchor="middle" fill="#2a2526" stroke="#2a2526" stroke-width="0.1">Wavelength (nm)</text>
<text x="659.8" y="318.93" font-size="7.3" text-anchor="end" fill="#2a2526" stroke="#2a2526" stroke-width="0.1">Pump-NR detuning = 8.9 GHz</text>
<text x="4.8" y="351.63" font-size="7.3" text-anchor="middle" fill="#2a2526" stroke="#2a2526" stroke-width="0.1" transform="rotate(-90 4.8 349)">On-chip power (dBm)</text>
<rect x="100.25" y="452.3" width="42.53" height="143" fill="#cccadf" stroke="none" stroke-width="0.9"/>
<text x="121.51" y="446.83" font-size="7.3" text-anchor="middle" fill="#2a2526" stroke="#2a2526" stroke-width="0.1">O</text>
<rect x="142.78" y="452.3" width="42.53" height="143" fill="#dee7f4" stroke="none" stroke-width="0.9"/>
<text x="164.04" y="446.83" font-size="7.3" text-anchor="middle" fill="#2a2526" stroke="#2a2526" stroke-width="0.1">E</text>
<rect x="185.31" y="452.3" width="29.77" height="143" fill="#c8dbca" stroke="none" stroke-width="0.9"/>
<text x="200.19" y="446.83" font-size="7.3" text-anchor="middle" fill="#2a2526" stroke="#2a2526" stroke-width="0.1">S</text>
<rect x="215.08" y="452.3" width="14.89" height="143" fill="#fbf7da" stroke="none" stroke-width="0.9"/>
<text x="222.52" y="446.83" font-size="7.3" text-anchor="middle" fill="#2a2526" stroke="#2a2526" stroke-width="0.1">C</text>
<rect x="229.96" y="452.3" width="25.52" height="143" fill="#fde5cc" stroke="none" stroke-width="0.9"/>
<text x="242.72" y="446.83" font-size="7.3" text-anchor="middle" fill="#2a2526" stroke="#2a2526" stroke-width="0.1">L</text>
<rect x="255.48" y="452.3" width="21.26" height="143" fill="#f9d7ca" stroke="none" stroke-width="0.9"/>
<text x="266.12" y="446.83" font-size="7.3" text-anchor="middle" fill="#2a2526" stroke="#2a2526" stroke-width="0.1">U</text>
<rect x="372.44" y="452.3" width="51.04" height="143" fill="#e7d3cd" stroke="none" stroke-width="0.9"/>
<text x="397.96" y="446.83" font-size="7.3" text-anchor="middle" fill="#2a2526" stroke="#2a2526" stroke-width="0.1">2 <tspan font-family="Liberation Serif, serif">μ</tspan>m band</text>
<clipPath id="gclip"><rect x="32.2" y="452.3" width="467.3" height="143"/></clipPath>
<g clip-path="url(#gclip)">
<polygon points="32.2,589.29 32.5,588.47 32.8,586.8 33.09,589.9 33.39,587.9 33.69,590.34 33.99,590.57 34.28,590.76 34.58,589.6 34.88,588.64 35.18,590.12 35.47,590.79 35.77,590.54 36.07,591.17 36.37,590.68 36.67,590.11 36.96,589.24 37.26,590.75 37.56,589.38 37.86,589.58 38.15,587.1 38.45,589.38 38.75,587.25 39.05,589.47 39.35,590.75 39.64,588.93 39.94,591.02 40.24,590.92 40.54,591.38 40.83,588.46 41.13,587.23 41.43,589.87 41.73,590.11 42.02,589.78 42.32,590.14 42.62,588.57 42.92,589.97 43.22,591.1 43.51,587.79 43.81,589.16 44.11,591.81 44.41,587.89 44.7,588.46 45,590.22 45.3,588.94 45.6,587.6 45.89,590.03 46.19,589.89 46.49,590.53 46.79,589.34 47.09,588.85 47.38,588.52 47.68,587.53 47.98,591.29 48.28,590.27 48.57,588.02 48.87,588.31 49.17,589.26 49.47,588.86 49.76,590.44 50.06,587.63 50.36,589.49 50.66,590.18 50.96,591.22 51.25,591.54 51.55,587.9 51.85,588.37 52.15,591.99 52.44,590.61 52.74,589.89 53.04,589.83 53.34,590.45 53.64,587.98 53.93,590.53 54.23,589.69 54.53,587.84 54.83,589.2 55.12,589.96 55.42,590.64 55.72,590.4 56.02,589.37 56.31,588.55 56.61,591.01 56.91,590.5 57.21,590.43 57.51,590.55 57.8,587.99 58.1,589.74 58.4,590.97 58.7,590.71 58.99,588.44 59.29,591.53 59.59,589.06 59.89,592.19 60.18,591.4 60.48,592.03 60.78,588.55 61.08,591.63 61.38,591.26 61.67,592.06 61.97,591.1 62.27,588.92 62.57,588.99 62.86,588.11 63.16,587.94 63.46,589.8 63.76,588.07 64.05,591.96 64.35,588.07 64.65,590.37 64.95,591.5 65.25,588.91 65.54,588.4 65.84,590.62 66.14,591.99 66.44,588.36 66.73,588.92 67.03,589.66 67.33,587.89 67.63,592.28 67.93,592.2 68.22,591.89 68.52,592.37 68.82,589.17 69.12,589.55 69.41,591.97 69.71,591.74 70.01,591.66 70.31,589.67 70.6,589 70.9,586.73 71.2,588.7 71.5,584.93 71.8,586.59 72.09,585.92 72.39,584.42 72.69,581.88 72.99,575.78 73.28,575.18 73.58,576.38 73.88,578.72 74.18,578.55 74.47,578.53 74.77,577.46 75.07,575.51 75.37,578.53 75.67,576.18 75.96,575.33 76.26,578.21 76.56,576.17 76.86,574.38 77.15,575.24 77.45,575.67 77.75,573.52 78.05,574.68 78.35,575.77 78.64,575.35 78.94,572.65 79.24,572.9 79.54,572.49 79.83,574 80.13,575.8 80.43,575.51 80.73,574.39 81.02,572.81 81.32,575.86 81.62,572 81.92,571.92 82.22,573.04 82.51,575.27 82.81,571.43 83.11,573.08 83.41,571.74 83.7,572.06 84,571.17 84.3,572.52 84.6,569.8 84.89,569.67 85.19,569.65 85.49,570.97 85.79,572.22 86.09,571.79 86.38,572.04 86.68,568.75 86.98,568.95 87.28,568.64 87.57,568.15 87.87,567.03 88.17,568.12 88.47,569.52 88.76,567.14 89.06,569.12 89.36,567.17 89.66,568.95 89.96,565.36 90.25,566.75 90.55,567.42 90.85,564.07 91.15,567.66 91.44,563.38 91.74,563.86 92.04,566.37 92.34,563.18 92.64,563.73 92.93,561.84 93.23,563.01 93.53,563.43 93.83,560.74 94.12,564.36 94.42,560.81 94.72,563.63 95.02,562.49 95.31,562.92 95.61,559.06 95.91,560.73 96.21,559.08 96.51,560.94 96.8,558.4 97.1,558.45 97.4,560.7 97.7,558.52 97.99,557.13 98.29,559.17 98.59,556.79 98.89,558.21 99.18,557.45 99.48,554.59 99.78,554.24 100.08,553.75 100.38,556.18 100.67,555.27 100.97,553.93 101.27,553.93 101.57,555.11 101.86,552.97 102.16,554.89 102.46,552.1 102.76,554.09 103.05,555.51 103.35,552.33 103.65,554.91 103.95,552.18 104.25,554.87 104.54,550.27 104.84,552.12 105.14,550.96 105.44,553.57 105.73,550.97 106.03,551.95 106.33,552.31 106.63,549.44 106.93,552.85 107.22,550.54 107.52,552.13 107.82,548.32 108.12,547.89 108.41,551.67 108.71,549.43 109.01,549.17 109.31,547.77 109.6,547.48 109.9,549.05 110.2,546.06 110.5,549.32 110.8,549.31 111.09,545.91 111.39,548.92 111.69,548.37 111.99,546.67 112.28,547.2 112.58,547.77 112.88,543.96 113.18,545.85 113.47,544.15 113.77,546.41 114.07,543.08 114.37,546.07 114.67,542.63 114.96,543.76 115.26,541.85 115.56,542.55 115.86,542.96 116.15,543.18 116.45,541.44 116.75,543.12 117.05,544.49 117.35,540.45 117.64,540.71 117.94,541.05 118.24,540.52 118.54,542.67 118.83,541.35 119.13,539.44 119.43,538.55 119.73,538.49 120.02,541.81 120.32,539.13 120.62,539.49 120.92,539.95 121.22,540.82 121.51,540.72 121.81,538.93 122.11,538.58 122.41,539.4 122.7,538.69 123,537.58 123.3,536.37 123.6,536.94 123.89,538.69 124.19,535.08 124.49,537.26 124.79,534.25 125.09,533.91 125.38,537.6 125.68,535.3 125.98,533.27 126.28,535.75 126.57,534.75 126.87,535.61 127.17,536.7 127.47,535.65 127.76,535.79 128.06,534.81 128.36,532.96 128.66,533.04 128.96,531 129.25,531.99 129.55,533.27 129.85,530.29 130.15,531.53 130.44,531.72 130.74,529.99 131.04,530.66 131.34,531.87 131.64,530.49 131.93,531.68 132.23,528.32 132.53,531.47 132.83,527.83 133.12,531.84 133.42,531.86 133.72,529.08 134.02,530.47 134.31,528.83 134.61,530.41 134.91,526.82 135.21,527.37 135.51,527.06 135.8,525.7 136.1,525.16 136.4,526.39 136.7,525.99 136.99,529.07 137.29,528.62 137.59,526.62 137.89,523.85 138.18,526.68 138.48,525.25 138.78,527.63 139.08,525.49 139.38,522.98 139.67,524.2 139.97,522.87 140.27,526.42 140.57,525.29 140.86,525.16 141.16,521.87 141.46,525.05 141.76,520.93 142.05,523.79 142.35,520.69 142.65,522.16 142.95,522.81 143.25,519.57 143.54,521.96 143.84,520.35 144.14,523.05 144.44,519.25 144.73,518.31 145.03,522.13 145.33,518.93 145.63,520.91 145.93,521.24 146.22,519.99 146.52,518.37 146.82,516.77 147.12,516.34 147.41,516.1 147.71,517.59 148.01,517.21 148.31,519.27 148.6,516.39 148.9,516.97 149.2,517.63 149.5,514.86 149.8,517.63 150.09,517.92 150.39,517.61 150.69,517.41 150.99,515.12 151.28,513.89 151.58,516.64 151.88,514.8 152.18,514.23 152.47,514.08 152.77,514.55 153.07,513.72 153.37,515.97 153.67,515.55 153.96,513.63 154.26,514.28 154.56,511.64 154.86,513.82 155.15,510.89 155.45,513.39 155.75,513.87 156.05,511.85 156.35,512.06 156.64,512.08 156.94,509.86 157.24,512.17 157.54,509.87 157.83,508.88 158.13,510.45 158.43,509.99 158.73,507.81 159.02,509.09 159.32,510.84 159.62,511.14 159.92,510.87 160.22,509.49 160.51,510.4 160.81,507.57 161.11,508.4 161.41,508.72 161.7,507.55 162,505.36 162.3,508.37 162.6,508.57 162.89,507.65 163.19,507.34 163.49,504.39 163.79,505.12 164.09,506.2 164.38,507.21 164.68,507.55 164.98,506.98 165.28,503.39 165.57,504.11 165.87,506.19 166.17,503.8 166.47,506.23 166.76,503.93 167.06,504.52 167.36,505.4 167.66,502.2 167.96,502.11 168.25,502.86 168.55,504.25 168.85,501.7 169.15,502.6 169.44,501.32 169.74,503.77 170.04,499.78 170.34,503.77 170.64,502.53 170.93,501.5 171.23,502.23 171.53,502.53 171.83,499.53 172.12,497.89 172.42,500.75 172.72,500.86 173.02,498.77 173.31,500.65 173.61,499.61 173.91,498.06 174.21,499.05 174.51,500.12 174.8,500.31 175.1,497.9 175.4,495.6 175.7,495.72 175.99,499.34 176.29,497.25 176.59,497.1 176.89,498.27 177.18,495.84 177.48,496.44 177.78,494.77 178.08,496.97 178.38,493.77 178.67,494.12 178.97,495.5 179.27,496.84 179.57,495.03 179.86,496.49 180.16,493.67 180.46,493.43 180.76,493.8 181.06,491.76 181.35,495.93 181.65,492.62 181.95,492.04 182.25,495.06 182.54,493.91 182.84,494.98 183.14,492.32 183.44,491.49 183.73,493.06 184.03,491.25 184.33,492.6 184.63,490.81 184.93,492.66 185.22,489.2 185.52,491.54 185.82,493.39 186.12,492.8 186.41,489.65 186.71,488.82 187.01,489.7 187.31,491.77 187.6,488.24 187.9,488.78 188.2,491.41 188.5,489.99 188.8,488.47 189.09,491.46 189.39,491.16 189.69,489.59 189.99,487.04 190.28,486.35 190.58,489.4 190.88,486.52 191.18,486.98 191.47,486.49 191.77,487.66 192.07,485.76 192.37,487.16 192.67,485.62 192.96,487.29 193.26,488.89 193.56,487.27 193.86,487.31 194.15,487.87 194.45,487.58 194.75,486.83 195.05,486.34 195.35,487.93 195.64,487.55 195.94,486.38 196.24,486.26 196.54,486.54 196.83,485.27 197.13,487.39 197.43,485.65 197.73,486.73 198.02,484.33 198.32,484.55 198.62,484.09 198.92,485.23 199.22,486.39 199.51,483.13 199.81,484.97 200.11,485.51 200.41,485.82 200.7,485.2 201,483.67 201.3,483.07 201.6,484.54 201.89,483.29 202.19,485.61 202.49,484.4 202.79,484.75 203.09,484.89 203.38,484.55 203.68,482.61 203.98,482.62 204.28,484.98 204.57,484.76 204.87,482.1 205.17,482.61 205.47,482.41 205.76,482.51 206.06,482.14 206.36,484.04 206.66,484.98 206.96,483.52 207.25,485 207.55,480.61 207.85,482.6 208.15,481.86 208.44,480.43 208.74,481.13 209.04,483.76 209.34,483.2 209.64,484.22 209.93,480.95 210.23,481.17 210.53,482.28 210.83,482.78 211.12,483.19 211.42,482.13 211.72,481.02 212.02,480.11 212.31,480.28 212.61,480.13 212.91,482.08 213.21,482.11 213.51,482.56 213.8,479.42 214.1,483.06 214.4,483.12 214.7,482.5 214.99,479.45 215.29,479.74 215.59,482.14 215.89,479.68 216.18,479.46 216.48,481.6 216.78,482.66 217.08,479.92 217.38,481.75 217.67,482.91 217.97,479.22 218.27,481.35 218.57,481.51 218.86,480.56 219.16,482.12 219.46,483.18 219.76,481.42 220.06,481.44 220.35,483.13 220.65,481.41 220.95,479.57 221.25,481.53 221.54,479.88 221.84,480.11 222.14,482.11 222.44,482.87 222.73,479.78 223.03,480.05 223.33,481.5 223.63,481.9 223.93,478.8 224.22,478.51 224.52,481.62 224.82,479.93 225.12,479.94 225.41,481.08 225.71,482.37 226.01,480.98 226.31,479.45 226.6,479.61 226.9,479.99 227.2,481.76 227.5,481.3 227.8,480.79 228.09,480.26 228.39,480.47 228.69,477.91 228.99,481.54 229.28,477.43 229.58,480.87 229.88,477.96 230.18,480.83 230.47,479.27 230.77,480.29 231.07,481.91 231.37,478.42 231.67,478.39 231.96,480.96 232.26,478.63 232.56,480.06 232.86,477.73 233.15,482.12 233.45,480.64 233.75,481.39 234.05,479.58 234.35,478.9 234.64,478.64 234.94,480.06 235.24,480.85 235.54,478.96 235.83,482.25 236.13,481.56 236.43,479.3 236.73,480.8 237.02,478.26 237.32,482.51 237.62,480.82 237.92,482.02 238.22,483.05 238.51,482.66 238.81,482.71 239.11,481.46 239.41,481.2 239.7,480.89 240,481.95 240.3,480.06 240.6,480.97 240.89,478.92 241.19,482.83 241.49,481.36 241.79,481.55 242.09,482.24 242.38,480.08 242.68,483.24 242.98,480.24 243.28,482.79 243.57,483.01 243.87,481.83 244.17,482.19 244.47,483.61 244.76,484.66 245.06,480.72 245.36,483.57 245.66,484.88 245.96,482.47 246.25,483.17 246.55,484.25 246.85,484.36 247.15,482.07 247.44,484.56 247.74,484.31 248.04,481.91 248.34,484.81 248.64,484.74 248.93,485.98 249.23,483.76 249.53,483.87 249.83,485.01 250.12,485.31 250.42,486.23 250.72,483.73 251.02,485.39 251.31,483.74 251.61,485.98 251.91,484.41 252.21,487.8 252.51,487.02 252.8,483.66 253.1,485.07 253.4,485.2 253.7,486.14 253.99,486.36 254.29,487.74 254.59,487.96 254.89,485.86 255.18,485.74 255.48,487.88 255.78,486.18 256.08,488.66 256.38,486.53 256.67,488.7 256.97,487.23 257.27,488.24 257.57,487.24 257.86,489.29 258.16,487.76 258.46,487.25 258.76,489.6 259.06,488.89 259.35,487.27 259.65,487.99 259.95,487.77 260.25,487.11 260.54,488.19 260.84,489.92 261.14,489 261.44,487.29 261.73,488.63 262.03,487.86 262.33,489.78 262.63,489.49 262.93,487.16 263.22,487.96 263.52,488.85 263.82,491.5 264.12,489.25 264.41,492.05 264.71,487.95 265.01,487.88 265.31,489.12 265.6,491.38 265.9,488.78 266.2,492.01 266.5,489.07 266.8,490.61 267.09,493.07 267.39,489.1 267.69,491.29 267.99,489.56 268.28,490.31 268.58,491.12 268.88,489.67 269.18,492.84 269.47,489.69 269.77,492.39 270.07,493.94 270.37,492.58 270.67,493.93 270.96,493.99 271.26,491.5 271.56,493.94 271.86,493.85 272.15,493.32 272.45,493.48 272.75,490.57 273.05,490.73 273.35,490.99 273.64,490.52 273.94,493.17 274.24,491.6 274.54,494.09 274.83,491.17 275.13,491.8 275.43,492.26 275.73,494.7 276.02,495.43 276.32,491.63 276.62,493.46 276.92,493.27 277.22,492.19 277.51,495.63 277.81,493.13 278.11,494.32 278.41,492.9 278.7,494.53 279,495.83 279.3,492.38 279.6,495.62 279.89,493.54 280.19,493.23 280.49,496.04 280.79,494.05 281.09,495.53 281.38,496.42 281.68,496.54 281.98,493.2 282.28,496.02 282.57,495.45 282.87,495.58 283.17,497.88 283.47,494.58 283.76,494.71 284.06,494.19 284.36,496.7 284.66,497.48 284.96,496.92 285.25,495.22 285.55,495.62 285.85,496.86 286.15,496.36 286.44,498.15 286.74,494.63 287.04,496.78 287.34,496.67 287.64,495.42 287.93,498.23 288.23,495.84 288.53,497.62 288.83,495.53 289.12,498.94 289.42,498.15 289.72,496.53 290.02,497.3 290.31,497.85 290.61,496.96 290.91,498.7 291.21,497.74 291.51,499.83 291.8,496.17 292.1,498.76 292.4,496.13 292.7,497.49 292.99,497.31 293.29,497.26 293.59,499.65 293.89,496.66 294.18,498.99 294.48,496.38 294.78,496.79 295.08,497.36 295.38,496.77 295.67,498.6 295.97,497.55 296.27,496.3 296.57,499.92 296.86,500.39 297.16,499 297.46,498.6 297.76,500.34 298.06,500.06 298.35,497.1 298.65,499.4 298.95,500.57 299.25,500.47 299.54,498.66 299.84,500.51 300.14,499.21 300.44,498.95 300.73,499.45 301.03,499.18 301.33,497.66 301.63,501.52 301.93,497.3 302.22,500.74 302.52,501.53 302.82,498.16 303.12,499.12 303.41,499.3 303.71,500.83 304.01,498.24 304.31,500.49 304.6,498.56 304.9,500.92 305.2,499.35 305.5,499.03 305.8,500.36 306.09,499.89 306.39,501.86 306.69,499.19 306.99,499 307.28,501.55 307.58,499.73 307.88,498.91 308.18,501.9 308.47,498.49 308.77,498.38 309.07,502.24 309.37,501.35 309.67,502.15 309.96,501.4 310.26,502.21 310.56,500.37 310.86,501.52 311.15,501.32 311.45,500.6 311.75,501.06 312.05,499.14 312.35,499.49 312.64,502.36 312.94,501.89 313.24,502.93 313.54,501.46 313.83,502.53 314.13,499.82 314.43,499.46 314.73,498.49 315.02,502.2 315.32,503.04 315.62,499.71 315.92,501.36 316.22,498.97 316.51,501.52 316.81,501.92 317.11,503.08 317.41,499.03 317.7,501.1 318,501.47 318.3,501.52 318.6,500.01 318.89,499.75 319.19,501.44 319.49,502.87 319.79,501.84 320.09,499.61 320.38,501.9 320.68,500.75 320.98,501.26 321.28,501.75 321.57,501.26 321.87,502.83 322.17,501.41 322.47,500.01 322.76,503.71 323.06,502.39 323.36,500.04 323.66,499.62 323.96,504.16 324.25,501.33 324.55,501.34 324.85,500.39 325.15,502.17 325.44,503.78 325.74,503.03 326.04,501.14 326.34,501.1 326.64,503.58 326.93,501.57 327.23,501.54 327.53,501.57 327.83,504.57 328.12,502.65 328.42,503.23 328.72,501.99 329.02,503.24 329.31,504.25 329.61,501.76 329.91,503.58 330.21,501.32 330.51,503.67 330.8,502.63 331.1,501.5 331.4,504.82 331.7,502.03 331.99,505.22 332.29,501.25 332.59,505.59 332.89,502.42 333.18,504.17 333.48,505.14 333.78,504.22 334.08,503.81 334.38,504.3 334.67,505.75 334.97,503.97 335.27,505.1 335.57,502.08 335.86,504.89 336.16,504.73 336.46,505.79 336.76,502.42 337.06,505.53 337.35,504.1 337.65,503.32 337.95,505.46 338.25,503.86 338.54,506.17 338.84,507.05 339.14,507.45 339.44,505.64 339.73,503.74 340.03,506.96 340.33,505.94 340.63,504.52 340.93,506.88 341.22,507.55 341.52,505.93 341.82,506.45 342.12,504.14 342.41,504.42 342.71,507.59 343.01,506.17 343.31,506.93 343.6,508.81 343.9,506.98 344.2,504.87 344.5,507.82 344.8,506.58 345.09,506.09 345.39,509.2 345.69,505.27 345.99,509.16 346.28,508.35 346.58,506.5 346.88,509.84 347.18,508.27 347.47,509.52 347.77,507.99 348.07,510.21 348.37,509.67 348.67,509.42 348.96,510.17 349.26,510.21 349.56,509.82 349.86,508.4 350.15,510.26 350.45,507.16 350.75,509.13 351.05,509.99 351.35,510.12 351.64,507.41 351.94,511.19 352.24,508.02 352.54,511.11 352.83,507.24 353.13,509.82 353.43,509.02 353.73,507.86 354.02,511.5 354.32,511.75 354.62,508.89 354.92,509.47 355.22,508.93 355.51,511.08 355.81,510.13 356.11,511.66 356.41,510.57 356.7,511.38 357,510.04 357.3,511.46 357.6,511.65 357.89,510.02 358.19,512.7 358.49,509.44 358.79,510.94 359.09,512.27 359.38,512.88 359.68,511.12 359.98,511.23 360.28,510.3 360.57,512 360.87,511.9 361.17,509.74 361.47,512.7 361.76,509.48 362.06,509.98 362.36,509.6 362.66,509.9 362.96,513.18 363.25,510.66 363.55,511.69 363.85,513.67 364.15,510.05 364.44,511.76 364.74,511.09 365.04,512.34 365.34,514.66 365.64,511.08 365.93,514.37 366.23,514.06 366.53,512.47 366.83,514.52 367.12,513.35 367.42,512.26 367.72,515.22 368.02,512.67 368.31,515.34 368.61,513.69 368.91,512.96 369.21,512.86 369.51,515.95 369.8,515.34 370.1,511.83 370.4,514.57 370.7,514.49 370.99,514.81 371.29,513.39 371.59,513.26 371.89,513.76 372.18,515 372.48,514.29 372.78,514.56 373.08,516.11 373.38,512.58 373.67,512.53 373.97,513.42 374.27,512.44 374.57,514.92 374.86,513.19 375.16,516.01 375.46,513.68 375.76,513.83 376.06,512.81 376.35,513.32 376.65,513.13 376.95,516 377.25,513.59 377.54,515.07 377.84,515.85 378.14,515.61 378.44,513.62 378.73,513.44 379.03,513.45 379.33,514.29 379.63,516.64 379.93,516.72 380.22,514.82 380.52,516.5 380.82,515.94 381.12,517.05 381.41,516.83 381.71,514.22 382.01,516.55 382.31,513.65 382.6,516.1 382.9,513.69 383.2,516.26 383.5,516.44 383.8,515.87 384.09,517.68 384.39,515.72 384.69,516 384.99,517.73 385.28,513.79 385.58,516.08 385.88,517.85 386.18,513.39 386.47,516.83 386.77,516.73 387.07,517.82 387.37,517.49 387.67,514.66 387.96,515.28 388.26,515.66 388.56,516.88 388.86,516.72 389.15,513.55 389.45,516.36 389.75,513.5 390.05,514 390.35,517.57 390.64,514.22 390.94,518.1 391.24,514.9 391.54,514.46 391.83,515.01 392.13,515.71 392.43,514.5 392.73,517.59 393.02,515.82 393.32,517.11 393.62,516.51 393.92,517.47 394.22,515.03 394.51,515.63 394.81,514.64 395.11,515.32 395.41,515.43 395.7,513.89 396,514.38 396.3,515.5 396.6,516.59 396.89,513.75 397.19,516.33 397.49,517.55 397.79,516.45 398.09,514.68 398.38,513.6 398.68,514.91 398.98,514.8 399.28,513.49 399.57,514.21 399.87,515.73 400.17,515.63 400.47,514.21 400.76,516.24 401.06,517.19 401.36,514.78 401.66,513.87 401.96,516.46 402.25,514.4 402.55,513.39 402.85,516.94 403.15,516.87 403.44,515.18 403.74,515.89 404.04,512.99 404.34,512.74 404.64,515.29 404.93,513.64 405.23,514.36 405.53,516.47 405.83,512.72 406.12,516.41 406.42,516.85 406.72,515.06 407.02,517.06 407.31,514.87 407.61,515.17 407.91,512.61 408.21,515.1 408.51,513.04 408.8,513.34 409.1,514.22 409.4,515.81 409.7,515.47 409.99,514.57 410.29,515 410.59,513.8 410.89,514.43 411.18,515.25 411.48,513.9 411.78,512.05 412.08,515.73 412.38,515.08 412.67,516.56 412.97,516.15 413.27,516.31 413.57,514.56 413.86,512.61 414.16,513.23 414.46,511.95 414.76,512.52 415.06,513.59 415.35,513.33 415.65,515.7 415.95,513.68 416.25,513.96 416.54,512 416.84,514.31 417.14,511.8 417.44,512.29 417.73,511.47 418.03,511.59 418.33,512.72 418.63,509.49 418.93,508.89 419.22,509.55 419.52,511.51 419.82,508.97 420.12,507.42 420.41,506.59 420.71,507.37 421.01,510.42 421.31,506.24 421.6,507.05 421.9,508.68 422.2,505.5 422.5,505.76 422.8,505.25 423.09,508.1 423.39,506.38 423.69,507.12 423.99,507.33 424.28,504.98 424.58,504.37 424.88,504.24 425.18,501.79 425.47,498.52 425.77,498.74 426.07,495.66 426.37,495.81 426.67,492.36 426.96,495.76 427.26,493.57 427.56,492.96 427.86,491.96 428.15,490.65 428.45,492.09 428.75,492.58 429.05,491.68 429.35,491.97 429.64,490.99 429.94,489.99 430.24,495.24 430.54,494.7 430.83,493.01 431.13,497.72 431.43,495.2 431.73,499.65 432.02,497.66 432.32,497.85 432.62,501.37 432.92,501.21 433.22,501.46 433.51,498.76 433.81,499.11 434.11,498.28 434.41,499.11 434.7,497.42 435,495.24 435.3,495.58 435.6,494.31 435.89,497.12 436.19,495.4 436.49,496.84 436.79,498.07 437.09,496.98 437.38,500.96 437.68,500.22 437.98,500.26 438.28,500.55 438.57,505.88 438.87,505.84 439.17,506.16 439.47,505.45 439.76,510.42 440.06,508.62 440.36,512.05 440.66,512.71 440.96,512.3 441.25,517.69 441.55,517.19 441.85,518.49 442.15,519.08 442.44,518.78 442.74,517.41 443.04,518.46 443.34,521.09 443.64,518.41 443.93,520.27 444.23,522.46 444.53,519.79 444.83,520.27 445.12,523.58 445.42,520.7 445.72,521.79 446.02,524.99 446.31,526.54 446.61,522.99 446.91,523.67 447.21,527.56 447.51,524.93 447.8,525.38 448.1,526.52 448.4,526.08 448.7,525.86 448.99,529.42 449.29,527.49 449.59,527.53 449.89,530.8 450.18,529.52 450.48,529.95 450.78,529.62 451.08,531.38 451.38,533.18 451.67,533.73 451.97,532.81 452.27,535.15 452.57,532.21 452.86,532.51 453.16,535.97 453.46,534.29 453.76,534.84 454.06,537.85 454.35,535.23 454.65,535.73 454.95,538.31 455.25,539.72 455.54,539.31 455.84,537.46 456.14,539.32 456.44,538.14 456.73,541.64 457.03,542.32 457.33,541.63 457.63,539.56 457.93,543.26 458.22,544.02 458.52,541.2 458.82,544.64 459.12,542.3 459.41,545.38 459.71,544.97 460.01,543.38 460.31,542.75 460.6,545.27 460.9,545.43 461.2,547.74 461.5,546.65 461.8,547.46 462.09,545.26 462.39,545.96 462.69,545.98 462.99,547.51 463.28,547.08 463.58,550.1 463.88,549.25 464.18,550.03 464.47,550.44 464.77,548.66 465.07,551.46 465.37,551.29 465.67,551.84 465.96,549.48 466.26,550.88 466.56,551.97 466.86,552.8 467.15,550.62 467.45,550.89 467.75,553.53 468.05,553.33 468.35,552.23 468.64,555.31 468.94,555.55 469.24,556.53 469.54,554.92 469.83,553.93 470.13,557.03 470.43,556 470.73,553.64 471.02,556.27 471.32,556.98 471.62,555.1 471.92,555.11 472.22,557.77 472.51,559.2 472.81,557.05 473.11,556.82 473.41,556.22 473.7,557.7 474,559.59 474.3,558.88 474.6,560.19 474.89,559.7 475.19,559.85 475.49,558.03 475.79,558.31 476.09,558.47 476.38,560.81 476.68,558.79 476.98,562.89 477.28,559.5 477.57,561.06 477.87,560.23 478.17,562.62 478.47,560.18 478.77,564.93 479.06,561.32 479.36,561.68 479.66,563.98 479.96,562.09 480.25,565.18 480.55,562.9 480.85,564.45 481.15,564.94 481.44,566.17 481.74,563.58 482.04,564.13 482.34,567.35 482.64,563.43 482.93,567.18 483.23,566.69 483.53,566.73 483.83,566.21 484.12,564.97 484.42,564.94 484.72,566.62 485.02,568.09 485.31,569.53 485.61,569.93 485.91,568.06 486.21,567.98 486.51,568.84 486.8,566.57 487.1,569.45 487.4,569.97 487.7,569.88 487.99,571.26 488.29,567.91 488.59,569.76 488.89,570.21 489.18,570.98 489.48,572 489.78,571.85 490.08,571.17 490.38,571.54 490.67,569.2 490.97,571.3 491.27,573.11 491.57,573.98 491.86,573.63 492.16,572.91 492.46,571.03 492.76,570.68 493.06,573.88 493.35,571.49 493.65,573.22 493.95,572.92 494.25,573.1 494.54,575.54 494.84,575.58 495.14,572.92 495.44,572.97 495.73,574.56 496.03,572.2 496.33,572.81 496.63,575.38 496.93,576.63 497.22,574.51 497.52,574.19 497.82,576.35 498.12,577.34 498.41,575.42 498.71,577.69 499.01,574.56 499.31,575.23 499.6,577 499.9,576.37 500.03,597.3 32.2,597.3" fill="#0a5aa6"/>
<line x1="261.86" y1="486.63" x2="261.86" y2="494.37" stroke="#0a5aa6" stroke-width="0.8"/>
<line x1="263.69" y1="487.47" x2="263.69" y2="495.01" stroke="#0a5aa6" stroke-width="0.8"/>
<line x1="267.4" y1="487.69" x2="267.4" y2="496.3" stroke="#0a5aa6" stroke-width="0.8"/>
<line x1="270.8" y1="489.14" x2="270.8" y2="497.33" stroke="#0a5aa6" stroke-width="0.8"/>
<line x1="274.48" y1="489.27" x2="274.48" y2="498.44" stroke="#0a5aa6" stroke-width="0.8"/>
<line x1="277.7" y1="491.04" x2="277.7" y2="499.41" stroke="#0a5aa6" stroke-width="0.8"/>
<line x1="280.65" y1="492.73" x2="280.65" y2="500.3" stroke="#0a5aa6" stroke-width="0.8"/>
<line x1="284.83" y1="492.08" x2="284.83" y2="501.56" stroke="#0a5aa6" stroke-width="0.8"/>
<line x1="287.69" y1="492.81" x2="287.69" y2="502.15" stroke="#0a5aa6" stroke-width="0.8"/>
<line x1="289.26" y1="494.31" x2="289.26" y2="502.46" stroke="#0a5aa6" stroke-width="0.8"/>
<line x1="291.22" y1="492.68" x2="291.22" y2="502.83" stroke="#0a5aa6" stroke-width="0.8"/>
<line x1="292.54" y1="494.51" x2="292.54" y2="503.08" stroke="#0a5aa6" stroke-width="0.8"/>
<line x1="296.4" y1="493.91" x2="296.4" y2="503.83" stroke="#0a5aa6" stroke-width="0.8"/>
<line x1="299.82" y1="496.43" x2="299.82" y2="504.44" stroke="#0a5aa6" stroke-width="0.8"/>
<line x1="301.78" y1="495.07" x2="301.78" y2="504.67" stroke="#0a5aa6" stroke-width="0.8"/>
<line x1="303.95" y1="495.25" x2="303.95" y2="504.93" stroke="#0a5aa6" stroke-width="0.8"/>
<line x1="306.27" y1="495.37" x2="306.27" y2="505.2" stroke="#0a5aa6" stroke-width="0.8"/>
<line x1="309.25" y1="495.51" x2="309.25" y2="505.55" stroke="#0a5aa6" stroke-width="0.8"/>
<line x1="313.46" y1="497.73" x2="313.46" y2="506.04" stroke="#0a5aa6" stroke-width="0.8"/>
<line x1="317.67" y1="499.67" x2="317.67" y2="506.54" stroke="#0a5aa6" stroke-width="0.8"/>
<line x1="321.56" y1="500.05" x2="321.56" y2="506.99" stroke="#0a5aa6" stroke-width="0.8"/>
<line x1="324.46" y1="498.98" x2="324.46" y2="507.33" stroke="#0a5aa6" stroke-width="0.8"/>
<line x1="328.03" y1="499.68" x2="328.03" y2="507.75" stroke="#0a5aa6" stroke-width="0.8"/>
<line x1="329.92" y1="498.06" x2="329.92" y2="507.97" stroke="#0a5aa6" stroke-width="0.8"/>
<line x1="332.84" y1="499.03" x2="332.84" y2="508.83" stroke="#0a5aa6" stroke-width="0.8"/>
<line x1="335.57" y1="502.68" x2="335.57" y2="509.64" stroke="#0a5aa6" stroke-width="0.8"/>
<line x1="339.14" y1="503.01" x2="339.14" y2="510.7" stroke="#0a5aa6" stroke-width="0.8"/>
<line x1="341.82" y1="504.67" x2="341.82" y2="511.49" stroke="#0a5aa6" stroke-width="0.8"/>
<line x1="343.87" y1="502.64" x2="343.87" y2="512.09" stroke="#0a5aa6" stroke-width="0.8"/>
<line x1="347.42" y1="503.81" x2="347.42" y2="513.14" stroke="#0a5aa6" stroke-width="0.8"/>
<line x1="350.01" y1="504.19" x2="350.01" y2="513.91" stroke="#0a5aa6" stroke-width="0.8"/>
<line x1="353.28" y1="507.19" x2="353.28" y2="514.82" stroke="#0a5aa6" stroke-width="0.8"/>
<line x1="356.15" y1="506.41" x2="356.15" y2="515.6" stroke="#0a5aa6" stroke-width="0.8"/>
<line x1="359.6" y1="508.93" x2="359.6" y2="516.53" stroke="#0a5aa6" stroke-width="0.8"/>
<line x1="361.8" y1="508.95" x2="361.8" y2="517.12" stroke="#0a5aa6" stroke-width="0.8"/>
<line x1="363.36" y1="509.35" x2="363.36" y2="517.54" stroke="#0a5aa6" stroke-width="0.8"/>
<line x1="366.81" y1="509.37" x2="366.81" y2="518.47" stroke="#0a5aa6" stroke-width="0.8"/>
<line x1="368.6" y1="509.25" x2="368.6" y2="518.96" stroke="#0a5aa6" stroke-width="0.8"/>
<line x1="370.22" y1="509.61" x2="370.22" y2="519.4" stroke="#0a5aa6" stroke-width="0.8"/>
<line x1="371.94" y1="512.66" x2="371.94" y2="519.86" stroke="#0a5aa6" stroke-width="0.8"/>
<line x1="373.96" y1="511.24" x2="373.96" y2="520.1" stroke="#0a5aa6" stroke-width="0.8"/>
<line x1="376.04" y1="509.93" x2="376.04" y2="520.24" stroke="#0a5aa6" stroke-width="0.8"/>
<line x1="380.11" y1="512.57" x2="380.11" y2="520.51" stroke="#0a5aa6" stroke-width="0.8"/>
<line x1="383.62" y1="511.18" x2="383.62" y2="520.75" stroke="#0a5aa6" stroke-width="0.8"/>
<line x1="386.57" y1="513.12" x2="386.57" y2="520.95" stroke="#0a5aa6" stroke-width="0.8"/>
<line x1="390.67" y1="510.63" x2="390.67" y2="521.23" stroke="#0a5aa6" stroke-width="0.8"/>
<line x1="391.98" y1="513.19" x2="391.98" y2="521.32" stroke="#0a5aa6" stroke-width="0.8"/>
<line x1="394.22" y1="513.78" x2="394.22" y2="521.39" stroke="#0a5aa6" stroke-width="0.8"/>
<line x1="396.77" y1="510.78" x2="396.77" y2="521.15" stroke="#0a5aa6" stroke-width="0.8"/>
<line x1="398.12" y1="510.9" x2="398.12" y2="521.02" stroke="#0a5aa6" stroke-width="0.8"/>
<line x1="400.32" y1="513.94" x2="400.32" y2="520.82" stroke="#0a5aa6" stroke-width="0.8"/>
<line x1="404.27" y1="512.56" x2="404.27" y2="520.45" stroke="#0a5aa6" stroke-width="0.8"/>
<line x1="406.18" y1="512.99" x2="406.18" y2="520.27" stroke="#0a5aa6" stroke-width="0.8"/>
<line x1="408.55" y1="512.76" x2="408.55" y2="520.05" stroke="#0a5aa6" stroke-width="0.8"/>
<line x1="410.36" y1="512.08" x2="410.36" y2="519.89" stroke="#0a5aa6" stroke-width="0.8"/>
<line x1="413.35" y1="511.03" x2="413.35" y2="519.61" stroke="#0a5aa6" stroke-width="0.8"/>
<line x1="415.54" y1="510.02" x2="415.54" y2="518.91" stroke="#0a5aa6" stroke-width="0.8"/>
<line x1="419.12" y1="505.81" x2="419.12" y2="515.49" stroke="#0a5aa6" stroke-width="0.8"/>
<line x1="421.42" y1="502.87" x2="421.42" y2="513.31" stroke="#0a5aa6" stroke-width="0.8"/>
<polygon points="32.2,577.8 32.5,577.86 32.8,577.92 33.09,577.99 33.39,578.05 33.69,578.12 33.99,578.18 34.28,578.25 34.58,578.31 34.88,578.37 35.18,578.44 35.47,578.5 35.77,578.57 36.07,578.63 36.37,578.7 36.67,578.76 36.96,578.82 37.26,578.89 37.56,578.95 37.86,579.02 38.15,579.08 38.45,579.15 38.75,579.21 39.05,579.27 39.35,579.34 39.64,579.4 39.94,579.47 40.24,579.53 40.54,579.6 40.83,579.66 41.13,579.72 41.43,579.79 41.73,579.85 42.02,579.92 42.32,579.98 42.62,580.05 42.92,580.11 43.22,580.17 43.51,580.24 43.81,580.3 44.11,580.37 44.41,580.43 44.7,580.5 45,580.56 45.3,580.62 45.6,580.69 45.89,580.75 46.19,580.82 46.49,580.88 46.79,580.95 47.09,581.01 47.38,581.07 47.68,581.14 47.98,581.2 48.28,581.27 48.57,581.33 48.87,581.4 49.17,581.46 49.47,581.52 49.76,581.59 50.06,581.65 50.36,581.72 50.66,581.77 50.96,581.83 51.25,581.88 51.55,581.93 51.85,581.98 52.15,582.04 52.44,582.09 52.74,582.14 53.04,582.19 53.34,582.25 53.64,582.3 53.93,582.35 54.23,582.4 54.53,582.46 54.83,582.51 55.12,582.56 55.42,582.61 55.72,582.66 56.02,582.72 56.31,582.77 56.61,582.82 56.91,582.87 57.21,582.93 57.51,582.98 57.8,583.03 58.1,583.08 58.4,583.14 58.7,583.19 58.99,583.24 59.29,583.29 59.59,583.35 59.89,583.4 60.18,583.45 60.48,583.5 60.78,583.55 61.08,583.61 61.38,583.66 61.67,583.71 61.97,583.76 62.27,583.82 62.57,583.87 62.86,583.92 63.16,583.97 63.46,584.03 63.76,584.08 64.05,584.13 64.35,584.18 64.65,584.24 64.95,584.29 65.25,584.34 65.54,584.39 65.84,584.44 66.14,584.5 66.44,584.55 66.73,584.6 67.03,584.65 67.33,584.71 67.63,584.76 67.93,584.81 68.22,584.86 68.52,584.92 68.82,584.97 69.12,585.02 69.41,585.07 69.71,585.13 70.01,585.18 70.31,585.23 70.6,585.28 70.9,585.33 71.2,585.36 71.5,585.39 71.8,585.42 72.09,585.45 72.39,585.48 72.69,585.51 72.99,585.54 73.28,585.57 73.58,585.6 73.88,585.62 74.18,585.65 74.47,585.68 74.77,585.71 75.07,585.74 75.37,585.77 75.67,585.8 75.96,585.83 76.26,585.86 76.56,585.89 76.86,585.91 77.15,585.94 77.45,585.97 77.75,586 78.05,586.03 78.35,586.06 78.64,586.09 78.94,586.12 79.24,586.15 79.54,586.18 79.83,586.2 80.13,586.23 80.43,586.26 80.73,586.29 81.02,586.32 81.32,586.35 81.62,586.38 81.92,586.41 82.22,586.44 82.51,586.47 82.81,586.49 83.11,586.52 83.41,586.55 83.7,586.58 84,586.61 84.3,586.64 84.6,586.67 84.89,586.7 85.19,586.73 85.49,586.76 85.79,586.78 86.09,586.81 86.38,586.84 86.68,586.87 86.98,586.9 87.28,586.93 87.57,586.93 87.87,586.86 88.17,586.79 88.47,586.72 88.76,586.66 89.06,586.59 89.36,586.52 89.66,586.45 89.96,586.38 90.25,586.31 90.55,586.25 90.85,586.18 91.15,586.11 91.44,586.04 91.74,585.97 92.04,585.9 92.34,585.83 92.64,585.77 92.93,585.7 93.23,585.63 93.53,585.56 93.83,585.49 94.12,585.42 94.42,585.35 94.72,585.29 95.02,585.22 95.31,585.15 95.61,585.08 95.91,585.01 96.21,584.77 96.51,584.94 96.8,585.3 97.1,585.79 97.4,583.56 97.7,584.29 97.99,585.68 98.29,583.24 98.59,583.28 98.89,585.67 99.18,583.68 99.48,584.94 99.78,584.02 100.08,583.09 100.38,584.41 100.67,583.92 100.97,583.37 101.27,584.66 101.57,583.33 101.86,583.74 102.16,581.98 102.46,584.09 102.76,582.43 103.05,584.18 103.35,583.35 103.65,583.63 103.95,583.38 104.25,582.12 104.54,582.97 104.84,581.02 105.14,582.86 105.44,581.19 105.73,580.34 106.03,582.28 106.33,581.85 106.63,580.11 106.93,580.8 107.22,579.3 107.52,580.84 107.82,580.51 108.12,578.73 108.41,580.33 108.71,578.38 109.01,578.43 109.31,580.24 109.6,579.09 109.9,577.78 110.2,579.98 110.5,577.72 110.8,577.77 111.09,577.67 111.39,577.93 111.69,579.21 111.99,576.57 112.28,578.81 112.58,576.55 112.88,576.42 113.18,577.28 113.47,575.92 113.77,576.4 114.07,575.12 114.37,576.85 114.67,573.99 114.96,575.26 115.26,573.76 115.56,574.41 115.86,573.12 116.15,574.29 116.45,573.28 116.75,574.47 117.05,572.84 117.35,573.71 117.64,571.17 117.94,571.39 118.24,571.81 118.54,569.93 118.83,569.7 119.13,569.37 119.43,571.58 119.73,569.49 120.02,569.12 120.32,569.16 120.62,570.55 120.92,567.64 121.22,568.73 121.51,567.98 121.81,567.04 122.11,568.29 122.41,568.69 122.7,565.76 123,567.28 123.3,567.58 123.6,566.95 123.89,564.13 124.19,564.51 124.49,565.67 124.79,565.5 125.09,562.99 125.38,563.3 125.68,563.18 125.98,564.12 126.28,562.95 126.57,561.07 126.87,563.42 127.17,561.87 127.47,562.55 127.76,559.5 128.06,561.71 128.36,558.91 128.66,558.88 128.96,558.84 129.25,560.46 129.55,558.23 129.85,558.45 130.15,558.1 130.44,558.74 130.74,557.33 131.04,556.14 131.34,557.71 131.64,555.22 131.93,556.17 132.23,556.26 132.53,555.98 132.83,554.99 133.12,554.09 133.42,553.96 133.72,552.69 134.02,553.42 134.31,553.06 134.61,551.33 134.91,553.2 135.21,553.41 135.51,552.16 135.8,551.85 136.1,552.04 136.4,550.84 136.7,551.58 136.99,548.68 137.29,549.58 137.59,548.09 137.89,548.25 138.18,547.81 138.48,547.37 138.78,548.32 139.08,546.74 139.38,547.89 139.67,546.53 139.97,546.06 140.27,545.18 140.57,546.57 140.86,545.71 141.16,543.97 141.46,543.67 141.76,542.82 142.05,544.93 142.35,544.31 142.65,544.25 142.95,542.16 143.25,541.8 143.54,541.77 143.84,541.1 144.14,541.55 144.44,541.12 144.73,539.79 145.03,540.27 145.33,539.95 145.63,539.84 145.93,539.81 146.22,538.76 146.52,538.99 146.82,539.96 147.12,538.81 147.41,538.52 147.71,538.19 148.01,537.52 148.31,537.79 148.6,537.4 148.9,537 149.2,536.86 149.5,534.84 149.8,537.07 150.09,536.98 150.39,534.65 150.69,535.29 150.99,534.83 151.28,534.12 151.58,534.47 151.88,534.54 152.18,534.88 152.47,532.11 152.77,531.64 153.07,533.23 153.37,532.44 153.67,532.56 153.96,533.04 154.26,530.36 154.56,530.24 154.86,531.67 155.15,531.35 155.45,529.79 155.75,529.23 156.05,529.89 156.35,529.84 156.64,530 156.94,528.1 157.24,527.63 157.54,527.36 157.83,529.22 158.13,527.56 158.43,526.15 158.73,526.65 159.02,527.1 159.32,527.72 159.62,527.68 159.92,525.47 160.22,527.1 160.51,524.69 160.81,524.82 161.11,525.09 161.41,523.61 161.7,523.21 162,523.83 162.3,525.04 162.6,523.35 162.89,523.55 163.19,523.76 163.49,521.53 163.79,521.82 164.09,523.28 164.38,522.69 164.68,522.09 164.98,521.16 165.28,521.66 165.57,521.11 165.87,519.82 166.17,521.42 166.47,519.66 166.76,520.56 167.06,518.58 167.36,518.34 167.66,519.92 167.96,518.9 168.25,520.11 168.55,519.03 168.85,518.2 169.15,517.94 169.44,518.58 169.74,519.25 170.04,518.77 170.34,517.3 170.64,518.2 170.93,517.6 171.23,516.49 171.53,515.46 171.83,516.35 172.12,516.88 172.42,515.71 172.72,516.39 173.02,514.72 173.31,516.3 173.61,515.78 173.91,515.05 174.21,513.49 174.51,515.41 174.8,515.11 175.1,515.07 175.4,514.62 175.7,514.06 175.99,513.67 176.29,512.4 176.59,513.21 176.89,512.79 177.18,512.8 177.48,511.49 177.78,510.91 178.08,512.06 178.38,510.42 178.67,512.13 178.97,509.83 179.27,510.91 179.57,510.24 179.86,510.89 180.16,510.99 180.46,511.14 180.76,508.74 181.06,510.01 181.35,508.79 181.65,509.23 181.95,508.79 182.25,509.47 182.54,509.31 182.84,508.6 183.14,507.37 183.44,507.52 183.73,508.83 184.03,506.55 184.33,507.1 184.63,507.9 184.93,507.11 185.22,507 185.52,505 185.82,505.54 186.12,505.94 186.41,505.92 186.71,505.55 187.01,505.33 187.31,504.9 187.6,503.38 187.9,503.14 188.2,503.15 188.5,502.37 188.8,502.79 189.09,504.11 189.39,504.08 189.69,503.5 189.99,503 190.28,501.99 190.58,500.91 190.88,501.36 191.18,501.57 191.47,501.88 191.77,499.52 192.07,499.94 192.37,500.89 192.67,501.51 192.96,498.59 193.26,500.44 193.56,498.5 193.86,500.37 194.15,498.6 194.45,499.22 194.75,497.45 195.05,498.92 195.35,499.25 195.64,498.73 195.94,496.76 196.24,496.03 196.54,496.76 196.83,496.41 197.13,497.33 197.43,497.12 197.73,497.44 198.02,494.67 198.32,497.18 198.62,495.36 198.92,495.93 199.22,496.21 199.51,495.3 199.81,493.69 200.11,495.47 200.41,495.52 200.7,493.99 201,493.72 201.3,493.96 201.6,494.72 201.89,492.54 202.19,494.54 202.49,494.17 202.79,493.79 203.09,492.82 203.38,492.74 203.68,492.33 203.98,491.64 204.28,490.97 204.57,492 204.87,493.04 205.17,490.59 205.47,492.73 205.76,491.68 206.06,492 206.36,490.52 206.66,489.86 206.96,491.59 207.25,490.97 207.55,489.23 207.85,489.55 208.15,491.08 208.44,489.27 208.74,488.82 209.04,489.79 209.34,490.37 209.64,488.78 209.93,489.61 210.23,490 210.53,489.77 210.83,488.94 211.12,489.59 211.42,488.7 211.72,488.08 212.02,487.94 212.31,488.22 212.61,486.94 212.91,488.84 213.21,488 213.51,486.12 213.8,486.18 214.1,485.87 214.4,486.18 214.7,486.69 214.99,485.82 215.29,486.31 215.59,487.49 215.89,486.97 216.18,487.3 216.48,484.94 216.78,486.4 217.08,486.03 217.38,485.53 217.67,486.66 217.97,484.8 218.27,484.41 218.57,484.29 218.86,483.92 219.16,485.41 219.46,485.78 219.76,483.88 220.06,483.95 220.35,484.75 220.65,484.71 220.95,485.13 221.25,483.05 221.54,483.99 221.84,482.86 222.14,484.09 222.44,484.02 222.73,483.34 223.03,482.55 223.33,482.03 223.63,483.43 223.93,482.39 224.22,483.15 224.52,481.77 224.82,481.99 225.12,482.52 225.41,483 225.71,483.19 226.01,481.37 226.31,481.54 226.6,482.9 226.9,483.47 227.2,483.08 227.5,480.81 227.8,483.4 228.09,481.11 228.39,481.85 228.69,481.72 228.99,481.69 229.28,481.99 229.58,481.51 229.88,482.78 230.18,480.42 230.47,482.83 230.77,482.79 231.07,481.32 231.37,481.48 231.67,481.06 231.96,481.45 232.26,480.83 232.56,483.42 232.86,483.6 233.15,483.01 233.45,481.52 233.75,483.38 234.05,482.36 234.35,481.73 234.64,483.56 234.94,482.55 235.24,481.55 235.54,482.05 235.83,483.12 236.13,482.95 236.43,483.59 236.73,481.69 237.02,482.26 237.32,482.62 237.62,483.76 237.92,482.6 238.22,483.36 238.51,482.54 238.81,483.89 239.11,482.51 239.41,483.18 239.7,483.96 240,483.75 240.3,483.16 240.6,484.06 240.89,482.93 241.19,485.77 241.49,483.32 241.79,483.96 242.09,484.71 242.38,483.78 242.68,485.9 242.98,485.47 243.28,484.49 243.57,484.28 243.87,485.69 244.17,484.01 244.47,485.11 244.76,486.95 245.06,486.83 245.36,487.07 245.66,485.76 245.96,486.58 246.25,486.86 246.55,486.43 246.85,487.6 247.15,485.32 247.44,485.63 247.74,486.54 248.04,486.98 248.34,487.48 248.64,486.74 248.93,487.58 249.23,485.88 249.53,486.04 249.83,486.81 250.12,486.64 250.42,488.91 250.72,488.9 251.02,488.38 251.31,489.13 251.61,488.4 251.91,486.9 252.21,487.45 252.51,487.21 252.8,489.45 253.1,489.57 253.4,490.26 253.7,489.66 253.99,490.4 254.29,489.17 254.59,489.94 254.89,488.99 255.18,489.43 255.48,489.45 255.78,490.42 256.08,489.29 256.38,489.54 256.67,489.59 256.97,490.41 257.27,490.55 257.57,491.18 257.86,492 258.16,490.9 258.46,490.59 258.76,491.94 259.06,490.13 259.35,490.19 259.65,490.38 259.95,490.61 260.25,491.67 260.54,492.69 260.84,492.54 261.14,491.32 261.44,490.73 261.73,493.35 262.03,493.77 262.33,492.9 262.63,493.03 262.93,492.43 263.22,493.95 263.52,491.97 263.82,493.54 264.12,492.02 264.41,493.8 264.71,493.99 265.01,494.48 265.31,492.33 265.6,493.53 265.9,492.97 266.2,495.28 266.5,494.03 266.8,493.6 267.09,493 267.39,493.25 267.69,495.75 267.99,495.08 268.28,493.39 268.58,494.83 268.88,493.72 269.18,495.84 269.47,496.6 269.77,494.06 270.07,496.13 270.37,495.38 270.67,496.06 270.96,495.54 271.26,494.62 271.56,494.69 271.86,495 272.15,496.88 272.45,495.37 272.75,497.78 273.05,496.74 273.35,495.33 273.64,497.41 273.94,497.19 274.24,496.68 274.54,497.78 274.83,496.53 275.13,496.79 275.43,498.5 275.73,496.23 276.02,498.77 276.32,497.08 276.62,498.19 276.92,498.88 277.22,499.17 277.51,496.64 277.81,497.31 278.11,498.4 278.41,497.54 278.7,497.14 279,497.37 279.3,498.6 279.6,499.45 279.89,498.85 280.19,497.63 280.49,498.45 280.79,498.73 281.09,498.34 281.38,499.69 281.68,499.36 281.98,498.64 282.28,500.61 282.57,498.82 282.87,501.32 283.17,499.95 283.47,499.95 283.76,501.28 284.06,499.16 284.36,500.65 284.66,501.49 284.96,500.94 285.25,500.53 285.55,501.04 285.85,502.3 286.15,502.09 286.44,500.35 286.74,502.06 287.04,501.75 287.34,500.21 287.64,500.1 287.93,500.08 288.23,502.16 288.53,502.68 288.83,500.58 289.12,501.07 289.42,501.78 289.72,502.82 290.02,501.68 290.31,502.28 290.61,501.31 290.91,500.23 291.21,502.49 291.51,502.92 291.8,501.18 292.1,502.91 292.4,502.62 292.7,502.04 292.99,500.51 293.29,502.46 293.59,502.53 293.89,502.11 294.18,503.05 294.48,502.41 294.78,501.59 295.08,502.72 295.38,501.4 295.67,503.2 295.97,503.49 296.27,502.02 296.57,502.56 296.86,501.27 297.16,503.65 297.46,501.85 297.76,502.11 298.06,503.01 298.35,503.75 298.65,502.41 298.95,502.03 299.25,502.89 299.54,502.94 299.84,502.37 300.14,502.63 300.44,503.21 300.73,503.95 301.03,503.2 301.33,503 301.63,502.06 301.93,501.82 302.22,503.13 302.52,503.84 302.82,504.19 303.12,503.07 303.41,502.81 303.71,504.27 304.01,503.05 304.31,502.21 304.6,504.01 304.9,502.49 305.2,503.98 305.5,503.41 305.8,502.85 306.09,504.8 306.39,504.44 306.69,502.66 306.99,505.35 307.28,504.71 307.58,504.27 307.88,503.55 308.18,503.93 308.47,503.12 308.77,503.91 309.07,505.88 309.37,505.73 309.67,505.88 309.96,504.8 310.26,506.01 310.56,504.63 310.86,504.37 311.15,505.66 311.45,503.83 311.75,505.15 312.05,503.63 312.35,505.41 312.64,504.71 312.94,504.98 313.24,505.84 313.54,504.4 313.83,506.68 314.13,506.03 314.43,505.87 314.73,504.31 315.02,505.46 315.32,506.84 315.62,506.13 315.92,505.29 316.22,504.77 316.51,506.83 316.81,504.96 317.11,506.12 317.41,505.79 317.7,506.14 318,506.14 318.3,504.6 318.6,504.86 318.89,504.91 319.19,505.48 319.49,505.64 319.79,507.29 320.09,507.65 320.38,505.41 320.68,505.91 320.98,506.09 321.28,507.05 321.57,507.23 321.87,505.4 322.17,506.57 322.47,508.09 322.76,507.22 323.06,507.25 323.36,508.11 323.66,505.54 323.96,505.81 324.25,506.11 324.55,508.49 324.85,507.35 325.15,508.28 325.44,506.57 325.74,506.38 326.04,506.49 326.34,506.53 326.64,508.51 326.93,508.86 327.23,508.69 327.53,506.58 327.83,506.67 328.12,507.62 328.42,508.48 328.72,506.74 329.02,508.91 329.31,508.37 329.61,509.35 329.91,506.58 330.21,508.3 330.51,507.37 330.8,507.37 331.1,508.09 331.4,507.01 331.7,507.71 331.99,507.36 332.29,507.34 332.59,509.96 332.89,508.13 333.18,509.72 333.48,509.53 333.78,509.57 334.08,507.8 334.38,510.55 334.67,509.56 334.97,510.53 335.27,508.12 335.57,509.65 335.86,509.15 336.16,509.76 336.46,509.14 336.76,510.46 337.06,510.33 337.35,509.47 337.65,509.67 337.95,509.23 338.25,510.98 338.54,509.52 338.84,509.93 339.14,510.49 339.44,511.05 339.73,510.68 340.03,512.18 340.33,512.21 340.63,511.68 340.93,512.31 341.22,512.61 341.52,510.78 341.82,510.82 342.12,511.24 342.41,512.51 342.71,511.11 343.01,510.9 343.31,511.59 343.6,512.8 343.9,511.92 344.2,512.49 344.5,512.94 344.8,513.38 345.09,511.41 345.39,512.16 345.69,511.39 345.99,513.66 346.28,513.48 346.58,512.87 346.88,514.25 347.18,513.64 347.47,513.04 347.77,513.3 348.07,512.16 348.37,513.2 348.67,513.12 348.96,513.35 349.26,512.87 349.56,514.16 349.86,515.3 350.15,512.57 350.45,513.2 350.75,515.2 351.05,515.33 351.35,515.1 351.64,513.94 351.94,515.54 352.24,515.95 352.54,514.67 352.83,516.16 353.13,515.52 353.43,515.26 353.73,515.85 354.02,516.52 354.32,515.87 354.62,516.01 354.92,515.86 355.22,515.69 355.51,515.94 355.81,516.13 356.11,517.09 356.41,514.83 356.7,515.2 357,515.99 357.3,517.49 357.6,516.92 357.89,515.09 358.19,516.45 358.49,517.26 358.79,515.58 359.09,515.47 359.38,517.76 359.68,516.76 359.98,516.68 360.28,518.04 360.57,517.55 360.87,516.78 361.17,516.71 361.47,516.92 361.76,517.04 362.06,517.82 362.36,518.8 362.66,519.03 362.96,516.76 363.25,516.77 363.55,516.75 363.85,519.21 364.15,517.31 364.44,519.12 364.74,518.7 365.04,519.21 365.34,517.4 365.64,517.61 365.93,517.66 366.23,519.04 366.53,517.54 366.83,519.57 367.12,518.75 367.42,518.55 367.72,519.91 368.02,519.57 368.31,520.46 368.61,518.55 368.91,520.4 369.21,520.63 369.51,520.31 369.8,519.35 370.1,519.45 370.4,519.86 370.7,519 370.99,519.38 371.29,521.03 371.59,520.18 371.89,521.32 372.18,521.2 372.48,521.55 372.78,521.78 373.08,521.02 373.38,519.5 373.67,520.18 373.97,521.84 374.27,521.49 374.57,520.44 374.86,520.64 375.16,522.11 375.46,521.94 375.76,520.61 376.06,520.53 376.35,522.05 376.65,520.08 376.95,521.64 377.25,520.66 377.54,520.85 377.84,521.42 378.14,519.7 378.44,521.31 378.73,521.25 379.03,520.94 379.33,520.1 379.63,519.7 379.93,520.35 380.22,521.04 380.52,520.55 380.82,520.8 381.12,519.9 381.41,519.89 381.71,520.52 382.01,522.11 382.31,521.12 382.6,521.51 382.9,522.13 383.2,520.58 383.5,522.21 383.8,520.83 384.09,521.49 384.39,521.69 384.69,520.91 384.99,520.88 385.28,520.15 385.58,520.14 385.88,520.74 386.18,522.3 386.47,521.16 386.77,521.68 387.07,520.43 387.37,521.87 387.67,522.15 387.96,523.13 388.26,521.87 388.56,521.72 388.86,522.38 389.15,522.99 389.45,521.93 389.75,523.14 390.05,522.87 390.35,522.11 390.64,522.41 390.94,522 391.24,521.94 391.54,522.37 391.83,523.12 392.13,523.48 392.43,521.95 392.73,520.79 393.02,522.79 393.32,522.61 393.62,522.73 393.92,521.54 394.22,522.28 394.51,521.43 394.81,523.73 395.11,523.38 395.41,523.2 395.7,522.75 396,522.69 396.3,522.75 396.6,521.11 396.89,522.64 397.19,522.28 397.49,521.19 397.79,522.13 398.09,522.29 398.38,521.65 398.68,523.09 398.98,523.97 399.28,521.34 399.57,522.58 399.87,522.47 400.17,523.97 400.47,522.05 400.76,523.14 401.06,522.39 401.36,523.45 401.66,521.65 401.96,523.25 402.25,523.54 402.55,521.79 402.85,523.74 403.15,523.62 403.44,523.03 403.74,521.63 404.04,524.14 404.34,523.89 404.64,522.23 404.93,524.33 405.23,523.38 405.53,522.34 405.83,522.57 406.12,522.36 406.42,524.32 406.72,521.62 407.02,522.59 407.31,520.71 407.61,521.13 407.91,519.36 408.21,519.98 408.51,520.05 408.8,519.79 409.1,518.23 409.4,518.95 409.7,518.05 409.99,515.45 410.29,515.75 410.59,514.35 410.89,514.57 411.18,510.86 411.48,508.13 411.78,506.4 412.08,503.19 412.38,498.54 412.67,496.34 412.97,495.92 413.27,496.89 413.57,497.42 413.86,498.41 414.16,500.7 414.46,503.52 414.76,502.41 415.06,505.24 415.35,504.66 415.65,504.6 415.95,503.17 416.25,502.6 416.54,502.6 416.84,502.21 417.14,502.8 417.44,500.78 417.73,500.94 418.03,501.7 418.33,501.45 418.63,502.4 418.93,503.71 419.22,504.78 419.52,508.67 419.82,509.01 420.12,509.77 420.41,509.39 420.71,507.05 421.01,505.64 421.31,506.9 421.6,504.9 421.9,502.63 422.2,501.92 422.5,502.23 422.8,503.72 423.09,504.28 423.39,505.68 423.69,506.48 423.99,509.77 424.28,511.07 424.58,510.62 424.88,514.98 425.18,514.83 425.47,518 425.77,517.81 426.07,520.43 426.37,520.68 426.67,524.38 426.96,524.19 427.26,527.74 427.56,529.95 427.86,531.52 428.15,533.24 428.45,532.69 428.75,531.37 429.05,533.49 429.35,532.8 429.64,535.11 429.94,534.08 430.24,534.36 430.54,535.97 430.83,534.94 431.13,535.67 431.43,536.36 431.73,535.27 432.02,536.02 432.32,538.01 432.62,538.4 432.92,538.9 433.22,538.65 433.51,537.92 433.81,537.32 434.11,537.67 434.41,538.32 434.7,540.79 435,539.23 435.3,539.66 435.6,540.84 435.89,539.69 436.19,541.18 436.49,542.91 436.79,542.98 437.09,543.58 437.38,542.54 437.68,542.85 437.98,542.53 438.28,545.32 438.57,545.66 438.87,543.25 439.17,545.64 439.47,545.98 439.76,544.6 440.06,547.11 440.36,545.5 440.66,545.55 440.96,546.86 441.25,547.08 441.55,549.16 441.85,547.78 442.15,548.11 442.44,548 442.74,549.08 443.04,550.58 443.34,550.62 443.64,549.73 443.93,551.73 444.23,552 444.53,551.93 444.83,550.71 445.12,551.78 445.42,552.67 445.72,551.28 446.02,552.72 446.31,554.05 446.61,553.46 446.91,552.98 447.21,554.72 447.51,554.88 447.8,554.82 448.1,553.99 448.4,555.34 448.7,557 448.99,556.2 449.29,557.26 449.59,557.14 449.89,556.77 450.18,559.07 450.48,557.98 450.78,558.85 451.08,558.35 451.38,558.03 451.67,559.36 451.97,559.2 452.27,560.5 452.57,560.91 452.86,560.49 453.16,560.74 453.46,561.94 453.76,560.7 454.06,561.78 454.35,562.5 454.65,563.11 454.95,561.75 455.25,561.88 455.54,562.09 455.84,564.38 456.14,565.21 456.44,563.91 456.73,565.98 457.03,563.94 457.33,564.8 457.63,566.13 457.93,566.18 458.22,565.84 458.52,567.69 458.82,567.45 459.12,566.59 459.41,567.24 459.71,567.86 460.01,569.6 460.31,569.62 460.6,569.86 460.9,570.85 461.2,569.45 461.5,570 461.8,569.34 462.09,570.75 462.39,570.05 462.69,571.69 462.99,571.9 463.28,572.93 463.58,572.76 463.88,571.75 464.18,573.39 464.47,575.13 464.77,574.47 465.07,575.27 465.37,574.4 465.67,575.07 465.96,575.52 466.26,574.57 466.56,575.25 466.86,577.19 467.15,577.35 467.45,575.43 467.75,575.73 468.05,575.57 468.35,576.01 468.64,577.35 468.94,576.15 469.24,575.05 469.54,575.72 469.83,577.33 470.13,577.1 470.43,574.86 470.73,575.89 471.02,576.99 471.32,575.43 471.62,574.81 471.92,574.98 472.22,575.61 472.51,575.15 472.81,577.22 473.11,576.14 473.41,575.15 473.7,576.49 474,577.06 474.3,574.99 474.6,575.46 474.89,577.46 475.19,577.3 475.49,575.88 475.79,574.75 476.09,575.71 476.38,574.97 476.68,577.19 476.98,575.84 477.28,576.97 477.57,576.54 477.87,577.07 478.17,576.17 478.47,577.37 478.77,575.62 479.06,575.65 479.36,574.91 479.66,575.3 479.96,577.29 480.25,575.01 480.55,575.95 480.85,574.82 481.15,576.1 481.44,577.28 481.74,575.5 482.04,577.02 482.34,574.7 482.64,575.97 482.93,574.93 483.23,576.11 483.53,576.59 483.83,575.63 484.12,575.49 484.42,576.21 484.72,576.74 485.02,576.33 485.31,575.48 485.61,576.88 485.91,577.09 486.21,576.15 486.51,575.65 486.8,577.35 487.1,576.77 487.4,574.76 487.7,576.78 487.99,575.33 488.29,576.68 488.59,577.31 488.89,576.16 489.18,575.06 489.48,575.33 489.78,577.42 490.08,575.54 490.38,575.78 490.67,576.18 490.97,575.66 491.27,576.07 491.57,577.05 491.86,575.57 492.16,577.2 492.46,576.69 492.76,575.13 493.06,575.95 493.35,576.11 493.65,575.54 493.95,576.17 494.25,576.48 494.54,576 494.84,577.52 495.14,576.58 495.44,577.48 495.73,574.73 496.03,574.99 496.33,575.72 496.63,577.14 496.93,575.14 497.22,576.79 497.52,575.29 497.82,575.73 498.12,575.87 498.41,575.48 498.71,576.84 499.01,575.21 499.31,576.05 499.6,575.44 499.9,575.2 500.03,597.3 168.3,597.3 159.79,589.28 159.79,589.99 158.94,589.54 158.09,589.68 157.24,590.5 156.39,588.2 155.54,588.75 154.69,589.31 153.84,589.15 152.99,588.19 152.13,590.52 151.28,589.69 150.43,588.75 149.58,589.18 148.73,589.29 147.88,589.98 147.03,590.08 146.18,588.79 145.33,589.74 144.48,588.03 143.63,588.13 142.78,587.93 141.93,589.93 141.08,589.24 140.23,590.42 139.38,589.69 138.53,590.51 137.67,589.28 136.82,587.97 135.97,588.53 135.12,589.67 134.27,589.93 133.42,588.04 132.57,590.57 131.72,588.29 130.87,588.26 130.02,590.52 129.17,587.99 128.32,588.86 127.47,589.6 126.62,589.5 125.77,588.97 124.92,589.21 124.06,588.23 123.21,588.15 122.36,589.78 121.51,590.69 120.66,588.48 119.81,588.86 118.96,588.84 118.11,590.51 117.26,590.5 116.41,588.14 115.56,589.67 114.71,589.36 113.86,587.92 113.01,590.16 112.16,588.9 111.31,590.54 110.46,589.11 109.6,588.6 108.75,590.27 107.9,588.54 107.05,587.94 106.2,588.35 105.35,588.45 104.5,588 103.65,588.66 102.8,589.15 101.95,588.35 101.1,588.4 100.25,588.91 99.4,588.8 98.55,590.21 97.7,589.75 96.85,589.78 96,588.25 95.14,588.48 94.29,589.88 93.44,587.87 92.59,590.55 91.74,590.54 90.04,588.76 88.34,589.15 86.64,589.27 84.94,589.1 83.24,588.94 81.53,588.77 79.83,588.6 78.13,588.44 76.43,588.27 74.73,588.11 73.03,587.94 71.33,587.78 69.63,587.51 67.93,587.21 66.22,586.91 64.52,586.61 62.82,586.31 61.12,586.01 59.42,585.72 57.72,585.42 56.02,585.12 54.32,584.82 52.61,584.52 50.91,584.22 49.21,583.87 47.51,583.5 45.81,583.13 44.11,582.77 42.41,582.4 40.71,582.03 39,581.66 37.3,581.3 35.6,580.93 33.9,580.56 32.2,580.2" fill="#64a8dc"/>
<line x1="110.24" y1="563.62" x2="110.24" y2="579.77" stroke="#64a8dc" stroke-width="0.8"/>
<line x1="113.86" y1="557.15" x2="113.86" y2="579.77" stroke="#64a8dc" stroke-width="0.8"/>
<line x1="112.37" y1="523.05" x2="112.37" y2="547.46" stroke="#0a5aa6" stroke-width="0.9"/>
<polygon points="161.07,597.3 161.07,579.42 161.41,579.66 161.75,577.48 162.09,578.46 162.43,578.09 162.77,576.79 163.11,577.18 163.45,576.67 163.79,576.78 164.13,576.44 164.47,575.06 164.81,576.23 165.15,575.39 165.49,575.19 165.83,575.62 166.17,575.31 166.51,574.23 166.85,573.3 167.19,573.79 167.53,574.3 167.87,572.11 168.21,573.53 168.55,571.62 168.89,573.13 169.23,571.52 169.57,572.31 169.91,571.76 170.25,571.11 170.59,570.01 170.93,570.22 171.27,569.77 171.61,569.33 171.95,568.6 172.29,568.63 172.63,566.71 172.97,567.87 173.31,567.52 173.65,566.14 174,566.09 174.34,564.81 174.68,565.8 175.02,563.95 175.36,564.15 175.7,562.46 176.04,563.33 176.38,562.56 176.72,562.33 177.06,561.39 177.4,561.45 177.74,560.14 178.08,560.22 178.42,559.05 178.76,559.42 179.1,558.53 179.44,557.79 179.78,556.91 180.12,556.53 180.46,556.48 180.8,556.69 181.14,556.1 181.48,555.5 181.82,554.89 182.16,554.37 182.5,552.81 182.84,552.97 183.18,551.22 183.52,552.14 183.86,551.59 184.2,551.2 184.54,550.75 184.88,549.06 185.22,548.76 185.56,548.93 185.9,547.2 186.24,546.96 186.58,546.97 186.92,546.05 187.26,545.42 187.6,545.36 187.94,545.58 188.29,544.46 188.63,542.68 188.97,543.39 189.31,542.29 189.65,542.95 189.99,540.95 190.33,540.23 190.67,540.76 191.01,540.23 191.35,539.4 191.69,539.44 192.03,539 192.37,538.65 192.71,536.92 193.05,536.78 193.39,535.29 193.73,534.75 194.07,534.41 194.41,533.73 194.75,533.44 195.09,534.66 195.43,533.91 195.77,531.56 196.11,531.25 196.45,531.28 196.79,530.75 197.13,530.62 197.47,530.11 197.81,530.17 198.15,528.74 198.49,528.76 198.83,528.52 199.17,526.34 199.51,526.41 199.85,525.19 200.19,525.88 200.53,524.7 200.87,524.78 201.21,523.02 201.55,523.79 201.89,522.28 202.23,521.91 202.58,521.84 202.92,521.8 203.26,520.36 203.6,519.71 203.94,518.51 204.28,519.27 204.62,518.74 204.96,517.91 205.3,516.28 205.64,516.94 205.98,515.5 206.32,516.25 206.66,515.61 207,513.73 207.34,513.65 207.68,513.94 208.02,512.63 208.36,511.09 208.7,511.74 209.04,510.85 209.38,510.61 209.72,509.9 210.06,510.36 210.4,508.02 210.74,508.14 211.08,508.1 211.42,507.71 211.76,507.38 212.1,505.24 212.44,504.91 212.78,505.37 213.12,504.35 213.46,503.93 213.8,504.15 214.14,503.98 214.48,501.93 214.82,502.63 215.16,501.23 215.5,501.85 215.84,501.28 216.18,500.41 216.53,498.8 216.87,498.32 217.21,496.95 217.55,497.1 217.89,496.84 218.23,497.38 218.57,494.78 218.91,495.23 219.25,493.88 219.59,495.07 219.93,492.81 220.27,493.02 220.61,493.02 220.95,492.05 221.29,492.2 221.63,490.55 221.97,490.77 222.31,489.17 222.65,489.75 222.99,488.08 223.33,487.67 223.67,486.96 224.01,486.07 224.35,487.11 224.69,485.91 225.03,486.15 225.37,484.71 225.71,484.49 226.05,484.25 226.39,484.23 226.73,484.59 227.07,482.83 227.41,482.32 227.75,481.99 228.09,482.94 228.43,481.53 228.77,481.53 229.11,481.06 229.45,481.01 229.79,481.64 230.13,481.64 230.47,480.65 230.82,480.83 231.16,480.95 231.5,480.11 231.84,481.8 232.18,481.72 232.52,480.62 232.86,481.29 233.2,479.56 233.54,481.06 233.88,479.22 234.22,480.51 234.56,480.58 234.9,479.12 235.24,479.28 235.58,479.97 235.92,479.68 236.26,479.88 236.6,479.14 236.94,480.2 237.28,480.24 237.62,480.52 237.96,480.74 238.3,480.25 238.64,481.61 238.98,480.47 239.32,480.07 239.66,480.54 240,481.12 240.34,481.64 240.68,482.33 241.02,482.59 241.36,481.87 241.7,481.39 242.04,481.66 242.38,483.38 242.72,482.41 243.06,482.53 243.4,483.48 243.74,482.91 244.08,484.6 244.42,484.53 244.76,484.39 245.11,484.18 245.45,485.02 245.79,485.58 246.13,484.61 246.47,485.88 246.81,486.1 247.15,486.82 247.49,486.55 247.83,486.36 248.17,487.4 248.51,487.04 248.85,487.7 249.19,489.03 249.53,487.27 249.87,489.02 250.21,488.75 250.55,488.16 250.89,490.07 251.23,490.67 251.57,490.66 251.91,491.06 252.25,489.85 252.59,490.86 252.93,492.18 253.27,491.97 253.61,491.75 253.95,492.77 254.29,492.78 254.63,491.78 254.97,493.06 255.31,493.81 255.65,493.32 255.99,494.65 256.33,494.07 256.67,494.09 257.01,495.58 257.35,494.88 257.69,495.69 258.03,495.05 258.37,495.61 258.71,495.27 259.06,496.26 259.4,497.56 259.74,497.95 260.08,497.22 260.42,497.37 260.76,499.37 261.1,498.99 261.44,499.67 261.78,499.66 262.12,499.17 262.46,500.23 262.8,500.22 263.14,500.56 263.48,502 263.82,501.65 264.16,502.56 264.5,502.73 264.84,503 265.18,503.09 265.52,504.55 265.86,503.49 266.2,505.34 266.54,505.4 266.88,504.63 267.22,504.72 267.56,506.44 267.9,505.56 268.24,507.92 268.58,506.33 268.92,508.34 269.26,509.08 269.6,507.9 269.94,509.58 270.28,508.7 270.62,510.69 270.96,510.82 271.3,510.7 271.64,511.62 271.98,511.13 272.32,511.74 272.66,511.23 273,512.1 273.35,511.42 273.69,512.02 274.03,513.81 274.37,512.54 274.71,512.93 275.05,513.98 275.39,514.4 275.73,515.51 276.07,515.53 276.41,516.08 276.75,516.47 277.09,515.91 277.43,516.88 277.77,516.26 278.11,517.02 278.45,516.81 278.79,518.74 279.13,517.45 279.47,518.52 279.81,518.59 280.15,519.78 280.49,519.13 280.83,520.09 281.17,519.75 281.51,520.39 281.85,521.69 282.19,521.68 282.53,521.05 282.87,522.97 283.21,521.98 283.55,522.51 283.89,522.48 284.23,523.65 284.57,523.68 284.91,524.01 285.25,523.77 285.59,525.69 285.93,525.21 286.27,526.22 286.61,525.97 286.95,527.15 287.29,527.73 287.64,528.14 287.98,527.18 288.32,528.79 288.66,528.14 289,528.92 289.34,530.39 289.68,530.24 290.02,531.88 290.36,530.36 290.7,531.47 291.04,533.05 291.38,532.64 291.72,533.16 292.06,533.25 292.4,534.54 292.74,533.67 293.08,534.75 293.42,536.4 293.76,535.26 294.1,535.58 294.44,537.3 294.78,536.89 295.12,537.03 295.46,537.45 295.8,539.66 296.14,538.48 296.48,540.21 296.82,539.49 297.16,540.2 297.5,541.14 297.84,540.67 298.18,541.34 298.52,541.4 298.86,541.94 299.2,543.24 299.54,543.31 299.88,543.85 300.22,544.84 300.56,545.03 300.9,545.42 301.24,546.45 301.59,546.76 301.93,545.91 302.27,546.31 302.61,547.03 302.95,547.46 303.29,548.24 303.63,548.51 303.97,548.72 304.31,550.54 304.65,550.01 304.99,549.28 305.33,551.33 305.67,551.17 306.01,552.41 306.35,552.44 306.69,551.61 307.03,553.72 307.37,552.48 307.71,552.89 308.05,553.14 308.39,554.86 308.73,553.83 309.07,555.51 309.41,555.82 309.75,555.22 310.09,556.58 310.43,556.76 310.77,558.47 311.11,559.18 311.45,559.1 311.79,559.92 312.13,558.85 312.47,560.56 312.81,559.52 313.15,560.6 313.49,562.12 313.83,561.41 314.17,562.42 314.51,562.13 314.85,563.27 315.19,561.81 315.53,562.07 315.88,562.68 316.22,562.61 316.56,563.53 316.9,564.15 317.24,563.89 317.58,563.17 317.92,563.71 318.26,564.8 318.6,564.74 318.94,564.4 319.28,565.56 319.28,597.3" fill="#c41b2e"/>
<line x1="228.48" y1="456.81" x2="228.48" y2="477.46" stroke="#4a8fd0" stroke-width="0.9"/>
<line x1="228.48" y1="477.46" x2="228.48" y2="497.2" stroke="#c41b2e" stroke-width="0.9"/>
<line x1="228.48" y1="522.33" x2="228.48" y2="595.3" stroke="#9aa6c8" stroke-width="0.7"/>
</g>
<line x1="32.2" y1="533.1" x2="499.5" y2="533.1" stroke="#9a9a9a" stroke-width="0.8" stroke-dasharray="3.2,2.6"/>
<text x="37.5" y="531.33" font-size="7.3" text-anchor="start" fill="#7a7a7a" stroke="#7a7a7a" stroke-width="0.1">100 nW per comb line</text>
<line x1="130.02" y1="522.1" x2="130.02" y2="529.1" stroke="#b0b0b0" stroke-width="0.9"/>
<line x1="131.29" y1="525.6" x2="219.5" y2="525.6" stroke="#c8c8c8" stroke-width="1"/>
<polygon points="130.44,525.6 135.94,523 134.44,525.6 135.94,528.2" fill="#b8b8b8"/>
<text x="220.2" y="528.23" font-size="7.3" text-anchor="start" fill="#ffffff" stroke="#ffffff" stroke-width="0.1">841 comb lines</text>
<line x1="269.5" y1="525.6" x2="449.5" y2="525.6" stroke="#d0d0d0" stroke-width="1"/>
<polygon points="451.2,525.6 445.7,523 447.2,525.6 445.7,528.2" fill="#c0c0c0"/>
<line x1="452.7" y1="522.1" x2="452.7" y2="529.1" stroke="#b0b0b0" stroke-width="0.9"/>
<line x1="194" y1="535.4" x2="194" y2="542.4" stroke="#fff" stroke-width="0.9"/>
<polygon points="195.5,538.9 201,536.3 199.5,538.9 201,541.5" fill="#fff"/>
<line x1="198" y1="538.9" x2="219.5" y2="538.9" stroke="#fff" stroke-width="1"/>
<text x="220.2" y="541.53" font-size="7.3" text-anchor="start" fill="#ffffff" stroke="#ffffff" stroke-width="0.1">286 comb lines</text>
<line x1="270" y1="538.9" x2="291" y2="538.9" stroke="#fff" stroke-width="1"/>
<polygon points="293.2,538.9 287.7,536.3 289.2,538.9 287.7,541.5" fill="#fff"/>
<line x1="294.7" y1="535.4" x2="294.7" y2="542.4" stroke="#fff" stroke-width="0.9"/>
<rect x="32.2" y="452.3" width="467.3" height="143" fill="none" stroke="#3a3a3a" stroke-width="0.9"/>
<line x1="28.4" y1="461.3" x2="32.2" y2="461.3" stroke="#3a3a3a" stroke-width="0.9"/>
<text x="24.9" y="463.93" font-size="7.3" text-anchor="end" fill="#2a2526" stroke="#2a2526" stroke-width="0.1">0</text>
<line x1="28.4" y1="497.2" x2="32.2" y2="497.2" stroke="#3a3a3a" stroke-width="0.9"/>
<text x="24.9" y="499.83" font-size="7.3" text-anchor="end" fill="#2a2526" stroke="#2a2526" stroke-width="0.1">−20</text>
<line x1="28.4" y1="533.1" x2="32.2" y2="533.1" stroke="#3a3a3a" stroke-width="0.9"/>
<text x="24.9" y="535.73" font-size="7.3" text-anchor="end" fill="#2a2526" stroke="#2a2526" stroke-width="0.1">−40</text>
<line x1="28.4" y1="569" x2="32.2" y2="569" stroke="#3a3a3a" stroke-width="0.9"/>
<text x="24.9" y="571.63" font-size="7.3" text-anchor="end" fill="#2a2526" stroke="#2a2526" stroke-width="0.1">−60</text>
<line x1="32.2" y1="595.3" x2="32.2" y2="599.1" stroke="#3a3a3a" stroke-width="0.9"/>
<text x="32.2" y="609.63" font-size="7.3" text-anchor="middle" fill="#2a2526" stroke="#2a2526" stroke-width="0.1">1100</text>
<line x1="74.73" y1="595.3" x2="74.73" y2="599.1" stroke="#3a3a3a" stroke-width="0.9"/>
<text x="74.73" y="609.63" font-size="7.3" text-anchor="middle" fill="#2a2526" stroke="#2a2526" stroke-width="0.1">1200</text>
<line x1="117.26" y1="595.3" x2="117.26" y2="599.1" stroke="#3a3a3a" stroke-width="0.9"/>
<text x="117.26" y="609.63" font-size="7.3" text-anchor="middle" fill="#2a2526" stroke="#2a2526" stroke-width="0.1">1300</text>
<line x1="159.79" y1="595.3" x2="159.79" y2="599.1" stroke="#3a3a3a" stroke-width="0.9"/>
<text x="159.79" y="609.63" font-size="7.3" text-anchor="middle" fill="#2a2526" stroke="#2a2526" stroke-width="0.1">1400</text>
<line x1="202.32" y1="595.3" x2="202.32" y2="599.1" stroke="#3a3a3a" stroke-width="0.9"/>
<text x="202.32" y="609.63" font-size="7.3" text-anchor="middle" fill="#2a2526" stroke="#2a2526" stroke-width="0.1">1500</text>
<line x1="244.85" y1="595.3" x2="244.85" y2="599.1" stroke="#3a3a3a" stroke-width="0.9"/>
<text x="244.85" y="609.63" font-size="7.3" text-anchor="middle" fill="#2a2526" stroke="#2a2526" stroke-width="0.1">1600</text>
<line x1="287.38" y1="595.3" x2="287.38" y2="599.1" stroke="#3a3a3a" stroke-width="0.9"/>
<text x="287.38" y="609.63" font-size="7.3" text-anchor="middle" fill="#2a2526" stroke="#2a2526" stroke-width="0.1">1700</text>
<line x1="329.91" y1="595.3" x2="329.91" y2="599.1" stroke="#3a3a3a" stroke-width="0.9"/>
<text x="329.91" y="609.63" font-size="7.3" text-anchor="middle" fill="#2a2526" stroke="#2a2526" stroke-width="0.1">1800</text>
<line x1="372.44" y1="595.3" x2="372.44" y2="599.1" stroke="#3a3a3a" stroke-width="0.9"/>
<text x="372.44" y="609.63" font-size="7.3" text-anchor="middle" fill="#2a2526" stroke="#2a2526" stroke-width="0.1">1900</text>
<line x1="414.97" y1="595.3" x2="414.97" y2="599.1" stroke="#3a3a3a" stroke-width="0.9"/>
<text x="414.97" y="609.63" font-size="7.3" text-anchor="middle" fill="#2a2526" stroke="#2a2526" stroke-width="0.1">2000</text>
<line x1="457.5" y1="595.3" x2="457.5" y2="599.1" stroke="#3a3a3a" stroke-width="0.9"/>
<text x="457.5" y="609.63" font-size="7.3" text-anchor="middle" fill="#2a2526" stroke="#2a2526" stroke-width="0.1">2100</text>
<line x1="500.03" y1="595.3" x2="500.03" y2="599.1" stroke="#3a3a3a" stroke-width="0.9"/>
<text x="500.03" y="609.63" font-size="7.3" text-anchor="middle" fill="#2a2526" stroke="#2a2526" stroke-width="0.1">2200</text>
<text x="266.1" y="622.13" font-size="7.3" text-anchor="middle" fill="#2a2526" stroke="#2a2526" stroke-width="0.1">Wavelength (nm)</text>
<text x="4.8" y="526.13" font-size="7.3" text-anchor="middle" fill="#2a2526" stroke="#2a2526" stroke-width="0.1" transform="rotate(-90 4.8 523.5)">On-chip power (dBm)</text>
<text x="36.5" y="461.13" font-size="7.3" text-anchor="start" fill="#2a2526" stroke="#2a2526" stroke-width="0.1">Pump-to-comb conversion efficiency:</text>
<text x="36.5" y="469.63" font-size="7.3" text-anchor="start" fill="#2a2526" stroke="#2a2526" stroke-width="0.1">2.1 % (Waveguide coupler)</text>
<circle cx="40" cy="477.6" r="4" fill="none" stroke="#2a2526" stroke-width="0.75"/>
<text x="40.1" y="479.98" font-size="6.6" text-anchor="middle" fill="#2a2526" stroke="#2a2526" stroke-width="0.1">1</text>
<text x="45" y="480.23" font-size="7.3" text-anchor="start" fill="#2a2526" stroke="#2a2526" stroke-width="0.1">5.3 %</text>
<circle cx="72" cy="477.6" r="4" fill="none" stroke="#2a2526" stroke-width="0.75"/>
<text x="72.1" y="479.98" font-size="6.6" text-anchor="middle" fill="#2a2526" stroke="#2a2526" stroke-width="0.1">2</text>
<text x="76.6" y="480.23" font-size="7.3" text-anchor="start" fill="#2a2526" stroke="#2a2526" stroke-width="0.1">8.4 % (Resonant coupler)</text>
<line x1="330.8" y1="458.4" x2="345.7" y2="458.4" stroke="#c41b2e" stroke-width="1.6"/>
<line x1="330.8" y1="467.5" x2="345.7" y2="467.5" stroke="#0a5aa6" stroke-width="1.6"/>
<line x1="330.8" y1="477.2" x2="345.7" y2="477.2" stroke="#64a8dc" stroke-width="1.6"/>
<text x="349.6" y="461.03" font-size="7.3" text-anchor="start" fill="#2a2526" stroke="#2a2526" stroke-width="0.1">Waveguide coupler (pump power 290 mW)</text>
<text x="349.6" y="470.13" font-size="7.3" text-anchor="start" fill="#2a2526" stroke="#2a2526" stroke-width="0.1">Resonant coupler</text>
<circle cx="413.6" cy="467.5" r="4" fill="none" stroke="#2a2526" stroke-width="0.75"/>
<text x="413.7" y="469.88" font-size="6.6" text-anchor="middle" fill="#2a2526" stroke="#2a2526" stroke-width="0.1">1</text>
<text x="418.6" y="470.13" font-size="7.3" text-anchor="start" fill="#2a2526" stroke="#2a2526" stroke-width="0.1">(pump power 290 mW)</text>
<text x="349.6" y="479.83" font-size="7.3" text-anchor="start" fill="#2a2526" stroke="#2a2526" stroke-width="0.1">Resonant coupler</text>
<circle cx="413.6" cy="477.2" r="4" fill="none" stroke="#2a2526" stroke-width="0.75"/>
<text x="413.7" y="479.58" font-size="6.6" text-anchor="middle" fill="#2a2526" stroke="#2a2526" stroke-width="0.1">2</text>
<text x="418.6" y="479.83" font-size="7.3" text-anchor="start" fill="#2a2526" stroke="#2a2526" stroke-width="0.1">(pump power 125 mW)</text>
<line x1="567" y1="596.3" x2="673.8" y2="452.4" stroke="#b0202e" stroke-width="1.1" stroke-dasharray="3.2,2.2"/>
<text font-size="7.3" fill="#a51d2d" stroke="#a51d2d" stroke-width="0.1" text-anchor="middle" transform="translate(613.8 519.5) rotate(-54)">Quadratic scaling (waveguide coupler)</text>
<linearGradient id="arrg" x1="0" y1="0" x2="0" y2="1">
<stop offset="0" stop-color="#2a52a8" stop-opacity="0"/>
<stop offset="0.5" stop-color="#2a52a8" stop-opacity="0.55"/>
<stop offset="1" stop-color="#2a52a8" stop-opacity="1"/>
</linearGradient>
<rect x="664.9" y="463.7" width="2.3" height="63" fill="url(#arrg)" stroke="none" stroke-width="0.9"/>
<polygon points="666.05,532.3 662.9,525.3 669.2,525.3" fill="#2a52a8"/>
<rect x="651.2" y="482.5" width="2.3" height="71.5" fill="url(#arrg)" stroke="none" stroke-width="0.9"/>
<polygon points="652.35,560 649.2,553 655.5,553" fill="#2a52a8"/>
<text x="671.8" y="498.33" font-size="7.3" text-anchor="middle" fill="#2a4aa0" stroke="#2a4aa0" stroke-width="0.1" transform="rotate(90 671.8 495.7)">8 fold reduction</text>
<text x="646.2" y="526.93" font-size="7.3" text-anchor="middle" fill="#2a4aa0" stroke="#2a4aa0" stroke-width="0.1" transform="rotate(90 646.2 524.3)">10 fold reduction</text>
<circle cx="600" cy="571.8" r="2.85" fill="#c41b2e" stroke="#8a1520" stroke-width="0.4"/>
<circle cx="601.9" cy="557.7" r="2.85" fill="#c41b2e" stroke="#8a1520" stroke-width="0.4"/>
<circle cx="605.4" cy="546.2" r="2.85" fill="#c41b2e" stroke="#8a1520" stroke-width="0.4"/>
<circle cx="615.4" cy="540.8" r="2.85" fill="#c41b2e" stroke="#8a1520" stroke-width="0.4"/>
<circle cx="618.2" cy="534.9" r="2.85" fill="#c41b2e" stroke="#8a1520" stroke-width="0.4"/>
<circle cx="624" cy="528.2" r="2.85" fill="#c41b2e" stroke="#8a1520" stroke-width="0.4"/>
<circle cx="626.2" cy="522.8" r="2.85" fill="#c41b2e" stroke="#8a1520" stroke-width="0.4"/>
<circle cx="624.6" cy="519.5" r="2.85" fill="#c41b2e" stroke="#8a1520" stroke-width="0.4"/>
<circle cx="626.5" cy="515.6" r="2.85" fill="#c41b2e" stroke="#8a1520" stroke-width="0.4"/>
<circle cx="625.9" cy="511.5" r="2.85" fill="#c41b2e" stroke="#8a1520" stroke-width="0.4"/>
<circle cx="652.7" cy="564.2" r="2.85" fill="#1e6fc0" stroke="#154f8a" stroke-width="0.4"/>
<circle cx="658.5" cy="555" r="2.85" fill="#1e6fc0" stroke="#154f8a" stroke-width="0.4"/>
<circle cx="660.4" cy="548.6" r="2.85" fill="#1e6fc0" stroke="#154f8a" stroke-width="0.4"/>
<circle cx="663.6" cy="537.3" r="2.85" fill="#1e6fc0" stroke="#154f8a" stroke-width="0.4"/>
<circle cx="666.2" cy="535.1" r="2.85" fill="#1e6fc0" stroke="#154f8a" stroke-width="0.4"/>
<circle cx="674" cy="535.1" r="3.8" fill="none" stroke="#3a3a3a" stroke-width="0.75"/>
<text x="674.1" y="537.48" font-size="6.6" text-anchor="middle" fill="#3a3a3a" stroke="#3a3a3a" stroke-width="0.1">1</text>
<circle cx="660.4" cy="564.2" r="3.8" fill="none" stroke="#3a3a3a" stroke-width="0.75"/>
<text x="660.5" y="566.58" font-size="6.6" text-anchor="middle" fill="#3a3a3a" stroke="#3a3a3a" stroke-width="0.1">2</text>
<circle cx="567.3" cy="459.2" r="2.85" fill="#c41b2e" stroke="none" stroke-width="1"/>
<circle cx="567.3" cy="468.5" r="2.85" fill="#1e6fc0" stroke="none" stroke-width="1"/>
<text x="574.5" y="461.83" font-size="7.3" text-anchor="start" fill="#2a2526" stroke="#2a2526" stroke-width="0.1">Waveguide coupler</text>
<text x="574.5" y="471.13" font-size="7.3" text-anchor="start" fill="#2a2526" stroke="#2a2526" stroke-width="0.1">Resonant coupler</text>
<rect x="560.4" y="452.4" width="118.4" height="143.9" fill="none" stroke="#3a3a3a" stroke-width="0.9"/>
<line x1="556.6" y1="596.2" x2="560.4" y2="596.2" stroke="#3a3a3a" stroke-width="0.9"/>
<text x="552.9" y="598.83" font-size="7.3" text-anchor="end" fill="#2a2526" stroke="#2a2526" stroke-width="0.1">50</text>
<line x1="556.6" y1="572.2" x2="560.4" y2="572.2" stroke="#3a3a3a" stroke-width="0.9"/>
<text x="552.9" y="574.83" font-size="7.3" text-anchor="end" fill="#2a2526" stroke="#2a2526" stroke-width="0.1">100</text>
<line x1="556.6" y1="548.2" x2="560.4" y2="548.2" stroke="#3a3a3a" stroke-width="0.9"/>
<text x="552.9" y="550.83" font-size="7.3" text-anchor="end" fill="#2a2526" stroke="#2a2526" stroke-width="0.1">200</text>
<line x1="556.6" y1="524.2" x2="560.4" y2="524.2" stroke="#3a3a3a" stroke-width="0.9"/>
<text x="552.9" y="526.83" font-size="7.3" text-anchor="end" fill="#2a2526" stroke="#2a2526" stroke-width="0.1">400</text>
<line x1="556.6" y1="500.2" x2="560.4" y2="500.2" stroke="#3a3a3a" stroke-width="0.9"/>
<text x="552.9" y="502.83" font-size="7.3" text-anchor="end" fill="#2a2526" stroke="#2a2526" stroke-width="0.1">800</text>
<line x1="556.6" y1="476.2" x2="560.4" y2="476.2" stroke="#3a3a3a" stroke-width="0.9"/>
<text x="552.9" y="478.83" font-size="7.3" text-anchor="end" fill="#2a2526" stroke="#2a2526" stroke-width="0.1">1600</text>
<line x1="556.6" y1="452.2" x2="560.4" y2="452.2" stroke="#3a3a3a" stroke-width="0.9"/>
<text x="552.9" y="454.83" font-size="7.3" text-anchor="end" fill="#2a2526" stroke="#2a2526" stroke-width="0.1">3200</text>
<line x1="607.09" y1="596.3" x2="607.09" y2="600.1" stroke="#3a3a3a" stroke-width="0.9"/>
<text x="607.09" y="609.13" font-size="7.3" text-anchor="middle" fill="#2a2526" stroke="#2a2526" stroke-width="0.1">5</text>
<line x1="643" y1="596.3" x2="643" y2="600.1" stroke="#3a3a3a" stroke-width="0.9"/>
<text x="643" y="609.13" font-size="7.3" text-anchor="middle" fill="#2a2526" stroke="#2a2526" stroke-width="0.1">10</text>
<line x1="664.01" y1="596.3" x2="664.01" y2="600.1" stroke="#3a3a3a" stroke-width="0.9"/>
<text x="664.01" y="609.13" font-size="7.3" text-anchor="middle" fill="#2a2526" stroke="#2a2526" stroke-width="0.1">15</text>
<line x1="678.8" y1="596.3" x2="678.8" y2="600.1" stroke="#3a3a3a" stroke-width="0.9"/>
<text x="619.3" y="621.93" font-size="7.3" text-anchor="middle" fill="#2a2526" stroke="#2a2526" stroke-width="0.1">3-dB bandwidth (THz)</text>
<text x="525.3" y="527.13" font-size="7.3" text-anchor="middle" fill="#2a2526" stroke="#2a2526" stroke-width="0.1" transform="rotate(-90 525.3 524.5)">Minimum pump power (mW)</text>
<linearGradient id="wbg" x1="0" y1="0" x2="0" y2="1">
<stop offset="0" stop-color="#a7c3c8"/>
<stop offset="0.22" stop-color="#c4d6d8"/>
<stop offset="0.3" stop-color="#eef1f0"/>
<stop offset="0.4" stop-color="#f2f4f3"/>
<stop offset="0.45" stop-color="#cfe0d9"/>
<stop offset="0.72" stop-color="#d8e4df"/>
<stop offset="0.78" stop-color="#f3f4f3"/>
<stop offset="1" stop-color="#f4f4f4"/>
</linearGradient>
<linearGradient id="wafer" x1="0" y1="0" x2="0" y2="1">
<stop offset="0" stop-color="#2e1c18"/>
<stop offset="0.3" stop-color="#2a1a1a"/>
<stop offset="0.55" stop-color="#261c2a"/>
<stop offset="0.8" stop-color="#34305a"/>
<stop offset="1" stop-color="#4a467a"/>
</linearGradient>
<radialGradient id="waferedge" cx="0.5" cy="0.5" r="0.5">
<stop offset="0.7" stop-color="#000" stop-opacity="0"/>
<stop offset="0.95" stop-color="#5a3818" stop-opacity="0.6"/>
<stop offset="1" stop-color="#8a6a50" stop-opacity="0.7"/>
</radialGradient>
<linearGradient id="chipbg" x1="0" y1="0" x2="1" y2="0.4">
<stop offset="0" stop-color="#7c7c7c"/>
<stop offset="0.5" stop-color="#8e8e8e"/>
<stop offset="1" stop-color="#a2a2a2"/>
</linearGradient>
<linearGradient id="ruler" x1="0" y1="0" x2="1" y2="1">
<stop offset="0" stop-color="#a89c9c"/>
<stop offset="1" stop-color="#c8bcbc"/>
</linearGradient>
<linearGradient id="semg" x1="0" y1="0" x2="1" y2="0">
<stop offset="0" stop-color="#54575a"/>
<stop offset="1" stop-color="#5c5f61"/>
</linearGradient>
<linearGradient id="parrow" x1="0" y1="0" x2="1" y2="0">
<stop offset="0" stop-color="#b8b8b8"/>
<stop offset="1" stop-color="#ffffff"/>
</linearGradient>
<rect x="29.2" y="11" width="65.8" height="57.6" fill="url(#wbg)" stroke="none" stroke-width="0.9"/>
<clipPath id="aw"><rect x="29.2" y="11" width="65.8" height="57.6"/></clipPath>
<g clip-path="url(#aw)">
<ellipse cx="62.6" cy="39.6" rx="30.8" ry="28.6" fill="url(#wafer)"/>
<ellipse cx="62.6" cy="39.6" rx="30.8" ry="28.6" fill="url(#waferedge)"/>
<rect x="41.5" y="20" width="42.5" height="39.5" fill="none" stroke="#8a7ea8" stroke-width="0.55"/>
<rect x="43.5" y="22.5" width="38.5" height="34.5" fill="none" stroke="#8a7ea8" stroke-width="0.55"/>
<rect x="45.6" y="25" width="34.4" height="30" fill="none" stroke="#8a7ea8" stroke-width="0.55"/>
<line x1="47.5" y1="26" x2="47.5" y2="54" stroke="#6e6290" stroke-width="0.6"/>
<line x1="52.7" y1="26" x2="52.7" y2="54" stroke="#6e6290" stroke-width="0.6"/>
<line x1="57.9" y1="26" x2="57.9" y2="54" stroke="#6e6290" stroke-width="0.6"/>
<line x1="63.1" y1="26" x2="63.1" y2="54" stroke="#6e6290" stroke-width="0.6"/>
<line x1="68.3" y1="26" x2="68.3" y2="54" stroke="#6e6290" stroke-width="0.6"/>
<line x1="73.5" y1="26" x2="73.5" y2="54" stroke="#6e6290" stroke-width="0.6"/>
<line x1="46" y1="29" x2="79.5" y2="29" stroke="#6e6290" stroke-width="0.6"/>
<line x1="46" y1="34.7" x2="79.5" y2="34.7" stroke="#6e6290" stroke-width="0.6"/>
<line x1="46" y1="40.4" x2="79.5" y2="40.4" stroke="#6e6290" stroke-width="0.6"/>
<line x1="46" y1="46.1" x2="79.5" y2="46.1" stroke="#6e6290" stroke-width="0.6"/>
<line x1="46" y1="51.8" x2="79.5" y2="51.8" stroke="#6e6290" stroke-width="0.6"/>
<rect x="48.2" y="30" width="3.6" height="4.2" fill="#301418" stroke="none" stroke-width="0.9" opacity="0.55"/>
<rect x="48.2" y="35.7" width="3.6" height="4.2" fill="#301418" stroke="none" stroke-width="0.9" opacity="0.55"/>
<rect x="48.2" y="41.4" width="3.6" height="4.2" fill="#301418" stroke="none" stroke-width="0.9" opacity="0.55"/>
<rect x="48.2" y="47.1" width="3.6" height="4.2" fill="#301418" stroke="none" stroke-width="0.9" opacity="0.55"/>
<rect x="53.4" y="30" width="3.6" height="4.2" fill="#301418" stroke="none" stroke-width="0.9" opacity="0.55"/>
<rect x="53.4" y="35.7" width="3.6" height="4.2" fill="#301418" stroke="none" stroke-width="0.9" opacity="0.55"/>
<rect x="53.4" y="41.4" width="3.6" height="4.2" fill="#301418" stroke="none" stroke-width="0.9" opacity="0.55"/>
<rect x="53.4" y="47.1" width="3.6" height="4.2" fill="#301418" stroke="none" stroke-width="0.9" opacity="0.55"/>
<rect x="58.6" y="30" width="3.6" height="4.2" fill="#301418" stroke="none" stroke-width="0.9" opacity="0.55"/>
<rect x="58.6" y="35.7" width="3.6" height="4.2" fill="#301418" stroke="none" stroke-width="0.9" opacity="0.55"/>
<rect x="58.6" y="41.4" width="3.6" height="4.2" fill="#301418" stroke="none" stroke-width="0.9" opacity="0.55"/>
<rect x="58.6" y="47.1" width="3.6" height="4.2" fill="#301418" stroke="none" stroke-width="0.9" opacity="0.55"/>
<rect x="63.8" y="30" width="3.6" height="4.2" fill="#301418" stroke="none" stroke-width="0.9" opacity="0.55"/>
<rect x="63.8" y="35.7" width="3.6" height="4.2" fill="#301418" stroke="none" stroke-width="0.9" opacity="0.55"/>
<rect x="63.8" y="41.4" width="3.6" height="4.2" fill="#301418" stroke="none" stroke-width="0.9" opacity="0.55"/>
<rect x="63.8" y="47.1" width="3.6" height="4.2" fill="#301418" stroke="none" stroke-width="0.9" opacity="0.55"/>
<rect x="69" y="30" width="3.6" height="4.2" fill="#301418" stroke="none" stroke-width="0.9" opacity="0.55"/>
<rect x="69" y="35.7" width="3.6" height="4.2" fill="#301418" stroke="none" stroke-width="0.9" opacity="0.55"/>
<rect x="69" y="41.4" width="3.6" height="4.2" fill="#301418" stroke="none" stroke-width="0.9" opacity="0.55"/>
<rect x="69" y="47.1" width="3.6" height="4.2" fill="#301418" stroke="none" stroke-width="0.9" opacity="0.55"/>
<rect x="74.2" y="30" width="3.6" height="4.2" fill="#301418" stroke="none" stroke-width="0.9" opacity="0.55"/>
<rect x="74.2" y="35.7" width="3.6" height="4.2" fill="#301418" stroke="none" stroke-width="0.9" opacity="0.55"/>
<rect x="74.2" y="41.4" width="3.6" height="4.2" fill="#301418" stroke="none" stroke-width="0.9" opacity="0.55"/>
<rect x="74.2" y="47.1" width="3.6" height="4.2" fill="#301418" stroke="none" stroke-width="0.9" opacity="0.55"/>
<line x1="60" y1="26" x2="60" y2="55" stroke="#4a7060" stroke-width="0.4"/>
<line x1="68" y1="26" x2="66" y2="55" stroke="#4a7060" stroke-width="0.35"/>
</g>
<rect x="74.2" y="45.5" width="5.1" height="7.2" fill="none" stroke="#e8e8e8" stroke-width="0.7"/>
<line x1="79.3" y1="45.5" x2="95" y2="13" stroke="#d0d0d0" stroke-width="0.5"/>
<line x1="79.3" y1="52.7" x2="93.5" y2="67.5" stroke="#d0d0d0" stroke-width="0.5"/>
<line x1="34.5" y1="39.3" x2="91.8" y2="39.3" stroke="#fafafa" stroke-width="0.9"/>
<polygon points="32.4,39.3 36.6,37.5 36.6,41.1" fill="#fafafa"/>
<polygon points="93.9,39.3 89.7,37.5 89.7,41.1" fill="#fafafa"/>
<text x="59.8" y="36.34" font-size="7.6" text-anchor="middle" fill="#f4f4f4" stroke="#f4f4f4" stroke-width="0.1">4 inch</text>
<rect x="95" y="11" width="69.5" height="57.6" fill="url(#chipbg)" stroke="none" stroke-width="0.9"/>
<clipPath id="ac"><rect x="95" y="11" width="69.5" height="57.6"/></clipPath>
<g clip-path="url(#ac)">
<polygon points="95,41 149.5,68.6 95,68.6" fill="url(#ruler)"/>
<line x1="96.08" y1="41.19" x2="90.98" y2="47.17" stroke="#262626" stroke-width="1"/>
<line x1="99.97" y1="43.17" x2="96.15" y2="47.6" stroke="#262626" stroke-width="1"/>
<line x1="103.86" y1="45.14" x2="98.76" y2="51.11" stroke="#262626" stroke-width="1"/>
<line x1="107.76" y1="47.11" x2="103.94" y2="51.54" stroke="#262626" stroke-width="1"/>
<line x1="111.65" y1="49.08" x2="106.55" y2="55.05" stroke="#262626" stroke-width="1"/>
<line x1="115.54" y1="51.05" x2="111.72" y2="55.49" stroke="#262626" stroke-width="1"/>
<line x1="119.44" y1="53.02" x2="114.34" y2="59" stroke="#262626" stroke-width="1"/>
<line x1="123.33" y1="54.99" x2="119.51" y2="59.43" stroke="#262626" stroke-width="1"/>
<line x1="127.22" y1="56.97" x2="122.12" y2="62.94" stroke="#262626" stroke-width="1"/>
<line x1="131.11" y1="58.94" x2="127.29" y2="63.37" stroke="#262626" stroke-width="1"/>
<line x1="135.01" y1="60.91" x2="129.91" y2="66.88" stroke="#262626" stroke-width="1"/>
<line x1="138.9" y1="62.88" x2="135.08" y2="67.31" stroke="#262626" stroke-width="1"/>
<line x1="142.79" y1="64.85" x2="137.69" y2="70.83" stroke="#262626" stroke-width="1"/>
<line x1="146.69" y1="66.82" x2="142.87" y2="71.26" stroke="#262626" stroke-width="1"/>
<line x1="150.58" y1="68.79" x2="145.48" y2="74.77" stroke="#262626" stroke-width="1"/>
<polygon points="102.2,34 115.6,16.7 131.7,23.7 118.8,42.3" fill="#141416"/>
<polygon points="102.2,34 118.8,42.3 118.6,45.8 102,37.4" fill="#232830"/>
<line x1="106.03" y1="31.59" x2="119.54" y2="38.47" stroke="#2f5a3a" stroke-width="0.6"/>
<line x1="108.94" y1="27.83" x2="122.35" y2="34.42" stroke="#2f5a3a" stroke-width="0.6"/>
<line x1="111.86" y1="24.07" x2="125.15" y2="30.38" stroke="#2f5a3a" stroke-width="0.6"/>
<line x1="114.77" y1="20.31" x2="127.96" y2="26.33" stroke="#2f5a3a" stroke-width="0.6"/>
<polygon points="130.4,47.4 143.8,30.8 159.9,38.5 146.4,57" fill="#141416"/>
<polygon points="130.4,47.4 146.4,57 146.2,60.5 130.2,50.9" fill="#232830"/>
<line x1="134.23" y1="45.11" x2="147.25" y2="53.18" stroke="#5a2a20" stroke-width="0.6"/>
<line x1="137.14" y1="41.5" x2="150.18" y2="49.16" stroke="#5a2a20" stroke-width="0.6"/>
<line x1="140.06" y1="37.9" x2="153.12" y2="45.14" stroke="#5a2a20" stroke-width="0.6"/>
<line x1="142.97" y1="34.29" x2="156.05" y2="41.12" stroke="#5a2a20" stroke-width="0.6"/>
<circle cx="146.5" cy="48.5" r="1.3" fill="none" stroke="#d02020" stroke-width="0.7"/>
<line x1="104.6" y1="51.3" x2="118.4" y2="58.1" stroke="#f4f4f4" stroke-width="0.8" stroke-dasharray="1,0.7"/>
<polygon points="103.2,50.6 106.3,50.6 105.3,52.5" fill="#f4f4f4"/>
<polygon points="119.8,58.8 116.7,58.8 117.7,56.9" fill="#f4f4f4"/>
<text font-size="7.6" fill="#f4f4f4" transform="translate(98.8 57.4) rotate(25)">0.5 cm</text>
</g>
<rect x="29.2" y="68.6" width="135.3" height="82" fill="url(#semg)" stroke="none" stroke-width="0.9"/>
<clipPath id="as"><rect x="29.2" y="68.6" width="135.3" height="82"/></clipPath>
<g clip-path="url(#as)">
<path d="M29,71.1 H50 Q57.8,71.1 57.8,79 V141 Q57.8,148.8 65.6,148.8 H118" fill="none" stroke="#8f9294" stroke-width="0.6"/>
<path d="M58,69.9 H116.7 Q124.5,69.9 124.5,77.8 V140 Q124.5,148.2 132.5,148.2 H165" fill="none" stroke="#8f9294" stroke-width="0.6"/>
<rect x="84.6" y="83" width="35.8" height="20" fill="#6d7072" stroke="none" stroke-width="0.9"/>
<rect x="58.8" y="118.9" width="33.7" height="17.8" fill="#6d7072" stroke="none" stroke-width="0.9"/>
<line x1="106.6" y1="85.5" x2="124.2" y2="85.5" stroke="#d49a70" stroke-width="0.9"/>
<line x1="106.6" y1="101.8" x2="124.2" y2="101.8" stroke="#d49a70" stroke-width="0.9"/>
<rect x="97.8" y="81.1" width="8.8" height="3.6" fill="#f0bb94" stroke="none" stroke-width="0.9"/>
<rect x="97.8" y="102.2" width="8.8" height="4.4" fill="#f0bb94" stroke="none" stroke-width="0.9"/>
<rect x="97.8" y="84.7" width="8.8" height="17.5" fill="#c4a08a" stroke="none" stroke-width="0.9" opacity="0.45"/>
<line x1="57.8" y1="119.9" x2="72.3" y2="119.9" stroke="#d49a70" stroke-width="0.9"/>
<line x1="57.8" y1="135.3" x2="72.3" y2="135.3" stroke="#d49a70" stroke-width="0.9"/>
<rect x="72.3" y="115.6" width="8.7" height="3.4" fill="#f0bb94" stroke="none" stroke-width="0.9"/>
<rect x="72.3" y="136.4" width="8.7" height="3.6" fill="#f0bb94" stroke="none" stroke-width="0.9"/>
<rect x="72.3" y="119" width="8.7" height="17.4" fill="#c4a08a" stroke="none" stroke-width="0.9" opacity="0.45"/>
<circle cx="102.2" cy="93.6" r="21.9" fill="none" stroke="#c8966e" stroke-width="0.6"/>
<circle cx="77.6" cy="128" r="20.3" fill="none" stroke="#c8966e" stroke-width="0.6"/>
<line x1="81.2" y1="100.8" x2="98.5" y2="115.2" stroke="#c8966e" stroke-width="0.7"/>
<line x1="78.3" y1="107.6" x2="94.8" y2="117.8" stroke="#c8966e" stroke-width="0.7"/>
<line x1="82.5" y1="104" x2="96.5" y2="116" stroke="#8f9294" stroke-width="0.5"/>
<text x="102.9" y="80.53" font-size="7.3" text-anchor="middle" fill="#eeeeee" stroke="#eeeeee" stroke-width="0.1">Heater</text>
<text x="102.9" y="91.23" font-size="7.3" text-anchor="middle" fill="#eeeeee" stroke="#eeeeee" stroke-width="0.1">Resonant</text>
<text x="102.9" y="99.43" font-size="7.3" text-anchor="middle" fill="#eeeeee" stroke="#eeeeee" stroke-width="0.1">coupler</text>
<text x="76" y="125.43" font-size="7.3" text-anchor="middle" fill="#eeeeee" stroke="#eeeeee" stroke-width="0.1">Nonlinear</text>
<text x="77" y="133.83" font-size="7.3" text-anchor="middle" fill="#eeeeee" stroke="#eeeeee" stroke-width="0.1">resonator</text>
<text x="108.8" y="144.33" font-size="7.3" text-anchor="middle" fill="#eeeeee" stroke="#eeeeee" stroke-width="0.1">Drop</text>
<text x="147.5" y="140.33" font-size="7.3" text-anchor="middle" fill="#eeeeee" stroke="#eeeeee" stroke-width="0.1">Through</text>
<text x="70.1" y="79.33" font-size="7.3" text-anchor="middle" fill="#eeeeee" stroke="#eeeeee" stroke-width="0.1">Pump</text>
<text x="43.9" y="148.3" font-size="7.3" fill="#eeeeee" text-anchor="middle">100 <tspan font-family="Liberation Serif, serif">μ</tspan>m</text>
<line x1="38.9" y1="139.1" x2="47.9" y2="139.1" stroke="#f4f4f4" stroke-width="1.3"/>
<rect x="59.7" y="69.95" width="18.3" height="1.5" fill="url(#parrow)" stroke="none" stroke-width="0.9"/>
<polygon points="80.3,70.7 77.3,69 77.3,72.4" fill="#ffffff"/>
<rect x="98.5" y="147" width="17.5" height="1.5" fill="url(#parrow)" stroke="none" stroke-width="0.9"/>
<polygon points="118.5,147.75 115.5,146 115.5,149.5" fill="#ffffff"/>
<line x1="135.2" y1="145.7" x2="153.5" y2="145.7" stroke="#f4f4f4" stroke-width="0.9"/>
<polygon points="156,145.7 152.8,144.2 152.8,147.2" fill="#f4f4f4"/>
</g>
</svg></body></html>
